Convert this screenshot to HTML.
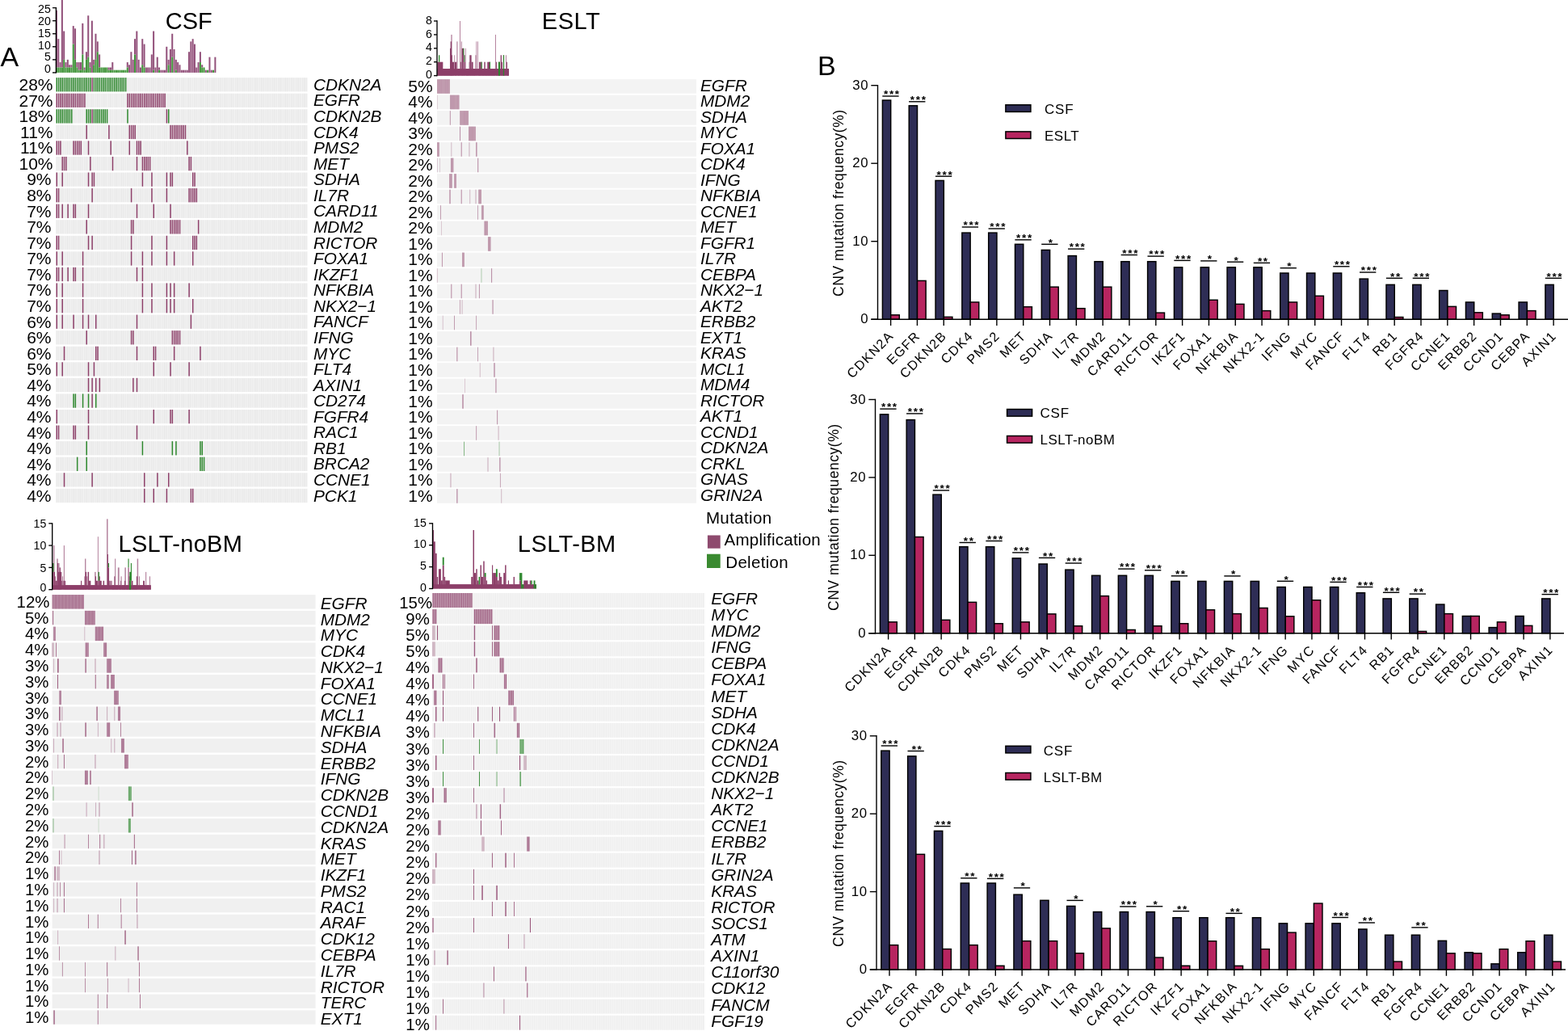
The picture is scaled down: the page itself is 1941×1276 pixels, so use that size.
<!DOCTYPE html>
<html><head><meta charset="utf-8"><title>CNV oncoprint</title>
<style>html,body{margin:0;padding:0;background:#fff;}svg{display:block;}</style>
</head><body>
<svg width="1941" height="1276" viewBox="0 0 1941 1276" font-family="'Liberation Sans', Arial, Helvetica, sans-serif">
<rect width="1941" height="1276" fill="#fff"/>
<defs>
<pattern id="bgc" patternUnits="userSpaceOnUse" x="69.3" y="0" width="2.3074" height="40"><rect x="0" y="0" width="1.3844" height="40" fill="#e7e7e7"/><rect x="1.3844" y="0" width="0.923" height="40" fill="#f4f4f4"/></pattern>
<pattern id="bgbm" patternUnits="userSpaceOnUse" x="535.2" y="0" width="1.7716" height="40"><rect x="0" y="0" width="1.2401" height="40" fill="#ececec"/><rect x="1.2401" y="0" width="0.5315" height="40" fill="#f7f7f7"/></pattern>
</defs>
<rect x="69.3" y="96.1" width="311.5" height="17.3" fill="url(#bgc)"/>
<rect x="69.55" y="96.1" width="1.48" height="17.3" fill="#2c872c"/>
<rect x="71.86" y="96.1" width="1.48" height="17.3" fill="#2c872c"/>
<rect x="74.16" y="96.1" width="1.48" height="17.3" fill="#2c872c"/>
<rect x="76.47" y="96.1" width="1.48" height="17.3" fill="#2c872c"/>
<rect x="78.78" y="96.1" width="1.48" height="17.3" fill="#2c872c"/>
<rect x="81.09" y="96.1" width="1.48" height="17.3" fill="#2c872c"/>
<rect x="83.39" y="96.1" width="1.48" height="17.3" fill="#2c872c"/>
<rect x="85.7" y="96.1" width="1.48" height="17.3" fill="#2c872c"/>
<rect x="88.01" y="96.1" width="1.48" height="17.3" fill="#2c872c"/>
<rect x="90.32" y="96.1" width="1.48" height="17.3" fill="#2c872c"/>
<rect x="92.62" y="96.1" width="1.48" height="17.3" fill="#2c872c"/>
<rect x="94.93" y="96.1" width="1.48" height="17.3" fill="#2c872c"/>
<rect x="97.24" y="96.1" width="1.48" height="17.3" fill="#2c872c"/>
<rect x="99.55" y="96.1" width="1.48" height="17.3" fill="#2c872c"/>
<rect x="101.85" y="96.1" width="1.48" height="17.3" fill="#2c872c"/>
<rect x="104.16" y="96.1" width="1.48" height="17.3" fill="#2c872c"/>
<rect x="106.47" y="96.1" width="1.48" height="17.3" fill="#2c872c"/>
<rect x="108.78" y="96.1" width="1.48" height="17.3" fill="#2c872c"/>
<rect x="111.08" y="96.1" width="1.48" height="17.3" fill="#2c872c"/>
<rect x="113.39" y="96.1" width="1.48" height="17.3" fill="#8c3e68"/>
<rect x="115.7" y="96.1" width="1.48" height="17.3" fill="#2c872c"/>
<rect x="118.01" y="96.1" width="1.48" height="17.3" fill="#2c872c"/>
<rect x="120.31" y="96.1" width="1.48" height="17.3" fill="#2c872c"/>
<rect x="122.62" y="96.1" width="1.48" height="17.3" fill="#2c872c"/>
<rect x="124.93" y="96.1" width="1.48" height="17.3" fill="#2c872c"/>
<rect x="127.24" y="96.1" width="1.48" height="17.3" fill="#2c872c"/>
<rect x="129.54" y="96.1" width="1.48" height="17.3" fill="#2c872c"/>
<rect x="131.85" y="96.1" width="1.48" height="17.3" fill="#2c872c"/>
<rect x="134.16" y="96.1" width="1.48" height="17.3" fill="#2c872c"/>
<rect x="136.46" y="96.1" width="1.48" height="17.3" fill="#2c872c"/>
<rect x="138.77" y="96.1" width="1.48" height="17.3" fill="#2c872c"/>
<rect x="141.08" y="96.1" width="1.48" height="17.3" fill="#2c872c"/>
<rect x="143.39" y="96.1" width="1.48" height="17.3" fill="#2c872c"/>
<rect x="145.69" y="96.1" width="1.48" height="17.3" fill="#2c872c"/>
<rect x="148" y="96.1" width="1.48" height="17.3" fill="#2c872c"/>
<rect x="150.31" y="96.1" width="1.48" height="17.3" fill="#2c872c"/>
<rect x="152.62" y="96.1" width="1.48" height="17.3" fill="#2c872c"/>
<rect x="154.92" y="96.1" width="1.48" height="17.3" fill="#2c872c"/>
<rect x="69.3" y="115.66" width="311.5" height="17.3" fill="url(#bgc)"/>
<rect x="69.55" y="115.66" width="1.48" height="17.3" fill="#8c3e68"/>
<rect x="71.86" y="115.66" width="1.48" height="17.3" fill="#8c3e68"/>
<rect x="74.16" y="115.66" width="1.48" height="17.3" fill="#8c3e68"/>
<rect x="76.47" y="115.66" width="1.48" height="17.3" fill="#8c3e68"/>
<rect x="78.78" y="115.66" width="1.48" height="17.3" fill="#8c3e68"/>
<rect x="81.09" y="115.66" width="1.48" height="17.3" fill="#8c3e68"/>
<rect x="83.39" y="115.66" width="1.48" height="17.3" fill="#8c3e68"/>
<rect x="85.7" y="115.66" width="1.48" height="17.3" fill="#8c3e68"/>
<rect x="88.01" y="115.66" width="1.48" height="17.3" fill="#8c3e68"/>
<rect x="90.32" y="115.66" width="1.48" height="17.3" fill="#8c3e68"/>
<rect x="92.62" y="115.66" width="1.48" height="17.3" fill="#8c3e68"/>
<rect x="94.93" y="115.66" width="1.48" height="17.3" fill="#8c3e68"/>
<rect x="97.24" y="115.66" width="1.48" height="17.3" fill="#8c3e68"/>
<rect x="99.55" y="115.66" width="1.48" height="17.3" fill="#8c3e68"/>
<rect x="101.85" y="115.66" width="1.48" height="17.3" fill="#8c3e68"/>
<rect x="104.16" y="115.66" width="1.48" height="17.3" fill="#8c3e68"/>
<rect x="157.23" y="115.66" width="1.48" height="17.3" fill="#8c3e68"/>
<rect x="159.54" y="115.66" width="1.48" height="17.3" fill="#8c3e68"/>
<rect x="161.85" y="115.66" width="1.48" height="17.3" fill="#8c3e68"/>
<rect x="164.15" y="115.66" width="1.48" height="17.3" fill="#8c3e68"/>
<rect x="166.46" y="115.66" width="1.48" height="17.3" fill="#8c3e68"/>
<rect x="168.77" y="115.66" width="1.48" height="17.3" fill="#8c3e68"/>
<rect x="171.08" y="115.66" width="1.48" height="17.3" fill="#8c3e68"/>
<rect x="173.38" y="115.66" width="1.48" height="17.3" fill="#8c3e68"/>
<rect x="175.69" y="115.66" width="1.48" height="17.3" fill="#8c3e68"/>
<rect x="178" y="115.66" width="1.48" height="17.3" fill="#8c3e68"/>
<rect x="180.31" y="115.66" width="1.48" height="17.3" fill="#8c3e68"/>
<rect x="182.61" y="115.66" width="1.48" height="17.3" fill="#8c3e68"/>
<rect x="184.92" y="115.66" width="1.48" height="17.3" fill="#8c3e68"/>
<rect x="187.23" y="115.66" width="1.48" height="17.3" fill="#8c3e68"/>
<rect x="189.54" y="115.66" width="1.48" height="17.3" fill="#8c3e68"/>
<rect x="191.84" y="115.66" width="1.48" height="17.3" fill="#8c3e68"/>
<rect x="194.15" y="115.66" width="1.48" height="17.3" fill="#8c3e68"/>
<rect x="196.46" y="115.66" width="1.48" height="17.3" fill="#8c3e68"/>
<rect x="198.76" y="115.66" width="1.48" height="17.3" fill="#8c3e68"/>
<rect x="201.07" y="115.66" width="1.48" height="17.3" fill="#8c3e68"/>
<rect x="203.38" y="115.66" width="1.48" height="17.3" fill="#8c3e68"/>
<rect x="69.3" y="135.23" width="311.5" height="17.3" fill="url(#bgc)"/>
<rect x="69.55" y="135.23" width="1.48" height="17.3" fill="#2c872c"/>
<rect x="71.86" y="135.23" width="1.48" height="17.3" fill="#2c872c"/>
<rect x="74.16" y="135.23" width="1.48" height="17.3" fill="#2c872c"/>
<rect x="76.47" y="135.23" width="1.48" height="17.3" fill="#2c872c"/>
<rect x="78.78" y="135.23" width="1.48" height="17.3" fill="#2c872c"/>
<rect x="81.09" y="135.23" width="1.48" height="17.3" fill="#2c872c"/>
<rect x="83.39" y="135.23" width="1.48" height="17.3" fill="#2c872c"/>
<rect x="85.7" y="135.23" width="1.48" height="17.3" fill="#2c872c"/>
<rect x="88.01" y="135.23" width="1.48" height="17.3" fill="#2c872c"/>
<rect x="106.47" y="135.23" width="1.48" height="17.3" fill="#2c872c"/>
<rect x="108.78" y="135.23" width="1.48" height="17.3" fill="#2c872c"/>
<rect x="111.08" y="135.23" width="1.48" height="17.3" fill="#2c872c"/>
<rect x="113.39" y="135.23" width="1.48" height="17.3" fill="#8c3e68"/>
<rect x="115.7" y="135.23" width="1.48" height="17.3" fill="#2c872c"/>
<rect x="118.01" y="135.23" width="1.48" height="17.3" fill="#2c872c"/>
<rect x="120.31" y="135.23" width="1.48" height="17.3" fill="#2c872c"/>
<rect x="122.62" y="135.23" width="1.48" height="17.3" fill="#2c872c"/>
<rect x="124.93" y="135.23" width="1.48" height="17.3" fill="#2c872c"/>
<rect x="127.24" y="135.23" width="1.48" height="17.3" fill="#2c872c"/>
<rect x="129.54" y="135.23" width="1.48" height="17.3" fill="#2c872c"/>
<rect x="131.85" y="135.23" width="1.48" height="17.3" fill="#2c872c"/>
<rect x="157.23" y="135.23" width="1.48" height="17.3" fill="#2c872c"/>
<rect x="205.69" y="135.23" width="1.48" height="17.3" fill="#8c3e68"/>
<rect x="207.99" y="135.23" width="1.48" height="17.3" fill="#2c872c"/>
<rect x="69.3" y="154.8" width="311.5" height="17.3" fill="url(#bgc)"/>
<rect x="106.47" y="154.8" width="1.48" height="17.3" fill="#8c3e68"/>
<rect x="134.16" y="154.8" width="1.48" height="17.3" fill="#8c3e68"/>
<rect x="159.54" y="154.8" width="1.48" height="17.3" fill="#8c3e68"/>
<rect x="161.85" y="154.8" width="1.48" height="17.3" fill="#8c3e68"/>
<rect x="164.15" y="154.8" width="1.48" height="17.3" fill="#8c3e68"/>
<rect x="166.46" y="154.8" width="1.48" height="17.3" fill="#8c3e68"/>
<rect x="210.3" y="154.8" width="1.48" height="17.3" fill="#8c3e68"/>
<rect x="212.61" y="154.8" width="1.48" height="17.3" fill="#8c3e68"/>
<rect x="214.92" y="154.8" width="1.48" height="17.3" fill="#8c3e68"/>
<rect x="217.22" y="154.8" width="1.48" height="17.3" fill="#8c3e68"/>
<rect x="219.53" y="154.8" width="1.48" height="17.3" fill="#8c3e68"/>
<rect x="221.84" y="154.8" width="1.48" height="17.3" fill="#8c3e68"/>
<rect x="224.15" y="154.8" width="1.48" height="17.3" fill="#8c3e68"/>
<rect x="226.45" y="154.8" width="1.48" height="17.3" fill="#8c3e68"/>
<rect x="228.76" y="154.8" width="1.48" height="17.3" fill="#8c3e68"/>
<rect x="69.3" y="174.36" width="311.5" height="17.3" fill="url(#bgc)"/>
<rect x="69.55" y="174.36" width="1.48" height="17.3" fill="#8c3e68"/>
<rect x="71.86" y="174.36" width="1.48" height="17.3" fill="#8c3e68"/>
<rect x="74.16" y="174.36" width="1.48" height="17.3" fill="#8c3e68"/>
<rect x="90.32" y="174.36" width="1.48" height="17.3" fill="#8c3e68"/>
<rect x="92.62" y="174.36" width="1.48" height="17.3" fill="#8c3e68"/>
<rect x="94.93" y="174.36" width="1.48" height="17.3" fill="#8c3e68"/>
<rect x="97.24" y="174.36" width="1.48" height="17.3" fill="#8c3e68"/>
<rect x="99.55" y="174.36" width="1.48" height="17.3" fill="#8c3e68"/>
<rect x="108.78" y="174.36" width="1.48" height="17.3" fill="#8c3e68"/>
<rect x="136.46" y="174.36" width="1.48" height="17.3" fill="#8c3e68"/>
<rect x="159.54" y="174.36" width="1.48" height="17.3" fill="#8c3e68"/>
<rect x="168.77" y="174.36" width="1.48" height="17.3" fill="#8c3e68"/>
<rect x="171.08" y="174.36" width="1.48" height="17.3" fill="#8c3e68"/>
<rect x="173.38" y="174.36" width="1.48" height="17.3" fill="#8c3e68"/>
<rect x="231.07" y="174.36" width="1.48" height="17.3" fill="#8c3e68"/>
<rect x="69.3" y="193.93" width="311.5" height="17.3" fill="url(#bgc)"/>
<rect x="76.47" y="193.93" width="1.48" height="17.3" fill="#8c3e68"/>
<rect x="78.78" y="193.93" width="1.48" height="17.3" fill="#8c3e68"/>
<rect x="81.09" y="193.93" width="1.48" height="17.3" fill="#8c3e68"/>
<rect x="111.08" y="193.93" width="1.48" height="17.3" fill="#8c3e68"/>
<rect x="138.77" y="193.93" width="1.48" height="17.3" fill="#8c3e68"/>
<rect x="168.77" y="193.93" width="1.48" height="17.3" fill="#8c3e68"/>
<rect x="175.69" y="193.93" width="1.48" height="17.3" fill="#8c3e68"/>
<rect x="178" y="193.93" width="1.48" height="17.3" fill="#8c3e68"/>
<rect x="180.31" y="193.93" width="1.48" height="17.3" fill="#8c3e68"/>
<rect x="182.61" y="193.93" width="1.48" height="17.3" fill="#8c3e68"/>
<rect x="184.92" y="193.93" width="1.48" height="17.3" fill="#8c3e68"/>
<rect x="233.38" y="193.93" width="1.48" height="17.3" fill="#8c3e68"/>
<rect x="235.68" y="193.93" width="1.48" height="17.3" fill="#8c3e68"/>
<rect x="69.3" y="213.49" width="311.5" height="17.3" fill="url(#bgc)"/>
<rect x="69.55" y="213.49" width="1.48" height="17.3" fill="#8c3e68"/>
<rect x="76.47" y="213.49" width="1.48" height="17.3" fill="#8c3e68"/>
<rect x="108.78" y="213.49" width="1.48" height="17.3" fill="#8c3e68"/>
<rect x="113.39" y="213.49" width="1.48" height="17.3" fill="#8c3e68"/>
<rect x="115.7" y="213.49" width="1.48" height="17.3" fill="#8c3e68"/>
<rect x="175.69" y="213.49" width="1.48" height="17.3" fill="#8c3e68"/>
<rect x="187.23" y="213.49" width="1.48" height="17.3" fill="#8c3e68"/>
<rect x="205.69" y="213.49" width="1.48" height="17.3" fill="#8c3e68"/>
<rect x="210.3" y="213.49" width="1.48" height="17.3" fill="#8c3e68"/>
<rect x="212.61" y="213.49" width="1.48" height="17.3" fill="#8c3e68"/>
<rect x="237.99" y="213.49" width="1.48" height="17.3" fill="#8c3e68"/>
<rect x="240.3" y="213.49" width="1.48" height="17.3" fill="#8c3e68"/>
<rect x="69.3" y="233.06" width="311.5" height="17.3" fill="url(#bgc)"/>
<rect x="69.55" y="233.06" width="1.48" height="17.3" fill="#8c3e68"/>
<rect x="71.86" y="233.06" width="1.48" height="17.3" fill="#8c3e68"/>
<rect x="113.39" y="233.06" width="1.48" height="17.3" fill="#8c3e68"/>
<rect x="161.85" y="233.06" width="1.48" height="17.3" fill="#8c3e68"/>
<rect x="187.23" y="233.06" width="1.48" height="17.3" fill="#8c3e68"/>
<rect x="205.69" y="233.06" width="1.48" height="17.3" fill="#8c3e68"/>
<rect x="233.38" y="233.06" width="1.48" height="17.3" fill="#8c3e68"/>
<rect x="235.68" y="233.06" width="1.48" height="17.3" fill="#8c3e68"/>
<rect x="237.99" y="233.06" width="1.48" height="17.3" fill="#8c3e68"/>
<rect x="240.3" y="233.06" width="1.48" height="17.3" fill="#8c3e68"/>
<rect x="242.61" y="233.06" width="1.48" height="17.3" fill="#8c3e68"/>
<rect x="69.3" y="252.62" width="311.5" height="17.3" fill="url(#bgc)"/>
<rect x="69.55" y="252.62" width="1.48" height="17.3" fill="#8c3e68"/>
<rect x="71.86" y="252.62" width="1.48" height="17.3" fill="#8c3e68"/>
<rect x="76.47" y="252.62" width="1.48" height="17.3" fill="#8c3e68"/>
<rect x="83.39" y="252.62" width="1.48" height="17.3" fill="#8c3e68"/>
<rect x="90.32" y="252.62" width="1.48" height="17.3" fill="#8c3e68"/>
<rect x="92.62" y="252.62" width="1.48" height="17.3" fill="#8c3e68"/>
<rect x="108.78" y="252.62" width="1.48" height="17.3" fill="#8c3e68"/>
<rect x="168.77" y="252.62" width="1.48" height="17.3" fill="#8c3e68"/>
<rect x="189.54" y="252.62" width="1.48" height="17.3" fill="#8c3e68"/>
<rect x="210.3" y="252.62" width="1.48" height="17.3" fill="#8c3e68"/>
<rect x="69.3" y="272.19" width="311.5" height="17.3" fill="url(#bgc)"/>
<rect x="106.47" y="272.19" width="1.48" height="17.3" fill="#8c3e68"/>
<rect x="161.85" y="272.19" width="1.48" height="17.3" fill="#8c3e68"/>
<rect x="164.15" y="272.19" width="1.48" height="17.3" fill="#8c3e68"/>
<rect x="210.3" y="272.19" width="1.48" height="17.3" fill="#8c3e68"/>
<rect x="212.61" y="272.19" width="1.48" height="17.3" fill="#8c3e68"/>
<rect x="214.92" y="272.19" width="1.48" height="17.3" fill="#8c3e68"/>
<rect x="217.22" y="272.19" width="1.48" height="17.3" fill="#8c3e68"/>
<rect x="219.53" y="272.19" width="1.48" height="17.3" fill="#8c3e68"/>
<rect x="221.84" y="272.19" width="1.48" height="17.3" fill="#8c3e68"/>
<rect x="244.91" y="272.19" width="1.48" height="17.3" fill="#8c3e68"/>
<rect x="69.3" y="291.75" width="311.5" height="17.3" fill="url(#bgc)"/>
<rect x="69.55" y="291.75" width="1.48" height="17.3" fill="#8c3e68"/>
<rect x="71.86" y="291.75" width="1.48" height="17.3" fill="#8c3e68"/>
<rect x="108.78" y="291.75" width="1.48" height="17.3" fill="#8c3e68"/>
<rect x="113.39" y="291.75" width="1.48" height="17.3" fill="#8c3e68"/>
<rect x="161.85" y="291.75" width="1.48" height="17.3" fill="#8c3e68"/>
<rect x="187.23" y="291.75" width="1.48" height="17.3" fill="#8c3e68"/>
<rect x="205.69" y="291.75" width="1.48" height="17.3" fill="#8c3e68"/>
<rect x="237.99" y="291.75" width="1.48" height="17.3" fill="#8c3e68"/>
<rect x="240.3" y="291.75" width="1.48" height="17.3" fill="#8c3e68"/>
<rect x="242.61" y="291.75" width="1.48" height="17.3" fill="#8c3e68"/>
<rect x="69.3" y="311.31" width="311.5" height="17.3" fill="url(#bgc)"/>
<rect x="69.55" y="311.31" width="1.48" height="17.3" fill="#8c3e68"/>
<rect x="76.47" y="311.31" width="1.48" height="17.3" fill="#8c3e68"/>
<rect x="101.85" y="311.31" width="1.48" height="17.3" fill="#8c3e68"/>
<rect x="161.85" y="311.31" width="1.48" height="17.3" fill="#8c3e68"/>
<rect x="175.69" y="311.31" width="1.48" height="17.3" fill="#8c3e68"/>
<rect x="187.23" y="311.31" width="1.48" height="17.3" fill="#8c3e68"/>
<rect x="205.69" y="311.31" width="1.48" height="17.3" fill="#8c3e68"/>
<rect x="214.92" y="311.31" width="1.48" height="17.3" fill="#8c3e68"/>
<rect x="237.99" y="311.31" width="1.48" height="17.3" fill="#8c3e68"/>
<rect x="69.3" y="330.88" width="311.5" height="17.3" fill="url(#bgc)"/>
<rect x="69.55" y="330.88" width="1.48" height="17.3" fill="#8c3e68"/>
<rect x="71.86" y="330.88" width="1.48" height="17.3" fill="#8c3e68"/>
<rect x="76.47" y="330.88" width="1.48" height="17.3" fill="#8c3e68"/>
<rect x="83.39" y="330.88" width="1.48" height="17.3" fill="#8c3e68"/>
<rect x="90.32" y="330.88" width="1.48" height="17.3" fill="#8c3e68"/>
<rect x="92.62" y="330.88" width="1.48" height="17.3" fill="#8c3e68"/>
<rect x="101.85" y="330.88" width="1.48" height="17.3" fill="#8c3e68"/>
<rect x="168.77" y="330.88" width="1.48" height="17.3" fill="#8c3e68"/>
<rect x="175.69" y="330.88" width="1.48" height="17.3" fill="#8c3e68"/>
<rect x="69.3" y="350.45" width="311.5" height="17.3" fill="url(#bgc)"/>
<rect x="69.55" y="350.45" width="1.48" height="17.3" fill="#8c3e68"/>
<rect x="76.47" y="350.45" width="1.48" height="17.3" fill="#8c3e68"/>
<rect x="101.85" y="350.45" width="1.48" height="17.3" fill="#8c3e68"/>
<rect x="175.69" y="350.45" width="1.48" height="17.3" fill="#8c3e68"/>
<rect x="187.23" y="350.45" width="1.48" height="17.3" fill="#8c3e68"/>
<rect x="205.69" y="350.45" width="1.48" height="17.3" fill="#8c3e68"/>
<rect x="210.3" y="350.45" width="1.48" height="17.3" fill="#8c3e68"/>
<rect x="214.92" y="350.45" width="1.48" height="17.3" fill="#8c3e68"/>
<rect x="233.38" y="350.45" width="1.48" height="17.3" fill="#8c3e68"/>
<rect x="69.3" y="370.01" width="311.5" height="17.3" fill="url(#bgc)"/>
<rect x="69.55" y="370.01" width="1.48" height="17.3" fill="#8c3e68"/>
<rect x="76.47" y="370.01" width="1.48" height="17.3" fill="#8c3e68"/>
<rect x="101.85" y="370.01" width="1.48" height="17.3" fill="#8c3e68"/>
<rect x="175.69" y="370.01" width="1.48" height="17.3" fill="#8c3e68"/>
<rect x="187.23" y="370.01" width="1.48" height="17.3" fill="#8c3e68"/>
<rect x="205.69" y="370.01" width="1.48" height="17.3" fill="#8c3e68"/>
<rect x="210.3" y="370.01" width="1.48" height="17.3" fill="#8c3e68"/>
<rect x="214.92" y="370.01" width="1.48" height="17.3" fill="#8c3e68"/>
<rect x="237.99" y="370.01" width="1.48" height="17.3" fill="#8c3e68"/>
<rect x="69.3" y="389.58" width="311.5" height="17.3" fill="url(#bgc)"/>
<rect x="69.55" y="389.58" width="1.48" height="17.3" fill="#8c3e68"/>
<rect x="76.47" y="389.58" width="1.48" height="17.3" fill="#8c3e68"/>
<rect x="90.32" y="389.58" width="1.48" height="17.3" fill="#8c3e68"/>
<rect x="101.85" y="389.58" width="1.48" height="17.3" fill="#8c3e68"/>
<rect x="108.78" y="389.58" width="1.48" height="17.3" fill="#8c3e68"/>
<rect x="118.01" y="389.58" width="1.48" height="17.3" fill="#8c3e68"/>
<rect x="168.77" y="389.58" width="1.48" height="17.3" fill="#8c3e68"/>
<rect x="235.68" y="389.58" width="1.48" height="17.3" fill="#8c3e68"/>
<rect x="69.3" y="409.14" width="311.5" height="17.3" fill="url(#bgc)"/>
<rect x="106.47" y="409.14" width="1.48" height="17.3" fill="#8c3e68"/>
<rect x="161.85" y="409.14" width="1.48" height="17.3" fill="#8c3e68"/>
<rect x="164.15" y="409.14" width="1.48" height="17.3" fill="#8c3e68"/>
<rect x="212.61" y="409.14" width="1.48" height="17.3" fill="#8c3e68"/>
<rect x="214.92" y="409.14" width="1.48" height="17.3" fill="#8c3e68"/>
<rect x="217.22" y="409.14" width="1.48" height="17.3" fill="#8c3e68"/>
<rect x="219.53" y="409.14" width="1.48" height="17.3" fill="#8c3e68"/>
<rect x="221.84" y="409.14" width="1.48" height="17.3" fill="#8c3e68"/>
<rect x="69.3" y="428.71" width="311.5" height="17.3" fill="url(#bgc)"/>
<rect x="78.78" y="428.71" width="1.48" height="17.3" fill="#8c3e68"/>
<rect x="118.01" y="428.71" width="1.48" height="17.3" fill="#8c3e68"/>
<rect x="120.31" y="428.71" width="1.48" height="17.3" fill="#8c3e68"/>
<rect x="168.77" y="428.71" width="1.48" height="17.3" fill="#8c3e68"/>
<rect x="189.54" y="428.71" width="1.48" height="17.3" fill="#8c3e68"/>
<rect x="191.84" y="428.71" width="1.48" height="17.3" fill="#8c3e68"/>
<rect x="214.92" y="428.71" width="1.48" height="17.3" fill="#8c3e68"/>
<rect x="247.22" y="428.71" width="1.48" height="17.3" fill="#8c3e68"/>
<rect x="69.3" y="448.27" width="311.5" height="17.3" fill="url(#bgc)"/>
<rect x="69.55" y="448.27" width="1.48" height="17.3" fill="#8c3e68"/>
<rect x="76.47" y="448.27" width="1.48" height="17.3" fill="#8c3e68"/>
<rect x="108.78" y="448.27" width="1.48" height="17.3" fill="#8c3e68"/>
<rect x="115.7" y="448.27" width="1.48" height="17.3" fill="#8c3e68"/>
<rect x="189.54" y="448.27" width="1.48" height="17.3" fill="#8c3e68"/>
<rect x="210.3" y="448.27" width="1.48" height="17.3" fill="#8c3e68"/>
<rect x="233.38" y="448.27" width="1.48" height="17.3" fill="#8c3e68"/>
<rect x="69.3" y="467.84" width="311.5" height="17.3" fill="url(#bgc)"/>
<rect x="108.78" y="467.84" width="1.48" height="17.3" fill="#8c3e68"/>
<rect x="113.39" y="467.84" width="1.48" height="17.3" fill="#8c3e68"/>
<rect x="118.01" y="467.84" width="1.48" height="17.3" fill="#8c3e68"/>
<rect x="122.62" y="467.84" width="1.48" height="17.3" fill="#8c3e68"/>
<rect x="164.15" y="467.84" width="1.48" height="17.3" fill="#8c3e68"/>
<rect x="168.77" y="467.84" width="1.48" height="17.3" fill="#8c3e68"/>
<rect x="69.3" y="487.4" width="311.5" height="17.3" fill="url(#bgc)"/>
<rect x="90.32" y="487.4" width="1.48" height="17.3" fill="#2c872c"/>
<rect x="92.62" y="487.4" width="1.48" height="17.3" fill="#2c872c"/>
<rect x="101.85" y="487.4" width="1.48" height="17.3" fill="#2c872c"/>
<rect x="108.78" y="487.4" width="1.48" height="17.3" fill="#2c872c"/>
<rect x="113.39" y="487.4" width="1.48" height="17.3" fill="#8c3e68"/>
<rect x="118.01" y="487.4" width="1.48" height="17.3" fill="#2c872c"/>
<rect x="69.3" y="506.97" width="311.5" height="17.3" fill="url(#bgc)"/>
<rect x="69.55" y="506.97" width="1.48" height="17.3" fill="#8c3e68"/>
<rect x="108.78" y="506.97" width="1.48" height="17.3" fill="#8c3e68"/>
<rect x="189.54" y="506.97" width="1.48" height="17.3" fill="#8c3e68"/>
<rect x="210.3" y="506.97" width="1.48" height="17.3" fill="#8c3e68"/>
<rect x="212.61" y="506.97" width="1.48" height="17.3" fill="#8c3e68"/>
<rect x="233.38" y="506.97" width="1.48" height="17.3" fill="#8c3e68"/>
<rect x="69.3" y="526.53" width="311.5" height="17.3" fill="url(#bgc)"/>
<rect x="69.55" y="526.53" width="1.48" height="17.3" fill="#8c3e68"/>
<rect x="71.86" y="526.53" width="1.48" height="17.3" fill="#8c3e68"/>
<rect x="90.32" y="526.53" width="1.48" height="17.3" fill="#8c3e68"/>
<rect x="92.62" y="526.53" width="1.48" height="17.3" fill="#8c3e68"/>
<rect x="108.78" y="526.53" width="1.48" height="17.3" fill="#8c3e68"/>
<rect x="168.77" y="526.53" width="1.48" height="17.3" fill="#8c3e68"/>
<rect x="69.3" y="546.1" width="311.5" height="17.3" fill="url(#bgc)"/>
<rect x="106.47" y="546.1" width="1.48" height="17.3" fill="#2c872c"/>
<rect x="175.69" y="546.1" width="1.48" height="17.3" fill="#2c872c"/>
<rect x="212.61" y="546.1" width="1.48" height="17.3" fill="#2c872c"/>
<rect x="217.22" y="546.1" width="1.48" height="17.3" fill="#2c872c"/>
<rect x="247.22" y="546.1" width="1.48" height="17.3" fill="#2c872c"/>
<rect x="249.53" y="546.1" width="1.48" height="17.3" fill="#2c872c"/>
<rect x="69.3" y="565.66" width="311.5" height="17.3" fill="url(#bgc)"/>
<rect x="94.93" y="565.66" width="1.48" height="17.3" fill="#2c872c"/>
<rect x="106.47" y="565.66" width="1.48" height="17.3" fill="#2c872c"/>
<rect x="247.22" y="565.66" width="1.48" height="17.3" fill="#2c872c"/>
<rect x="249.53" y="565.66" width="1.48" height="17.3" fill="#2c872c"/>
<rect x="251.84" y="565.66" width="1.48" height="17.3" fill="#2c872c"/>
<rect x="69.3" y="585.23" width="311.5" height="17.3" fill="url(#bgc)"/>
<rect x="78.78" y="585.23" width="1.48" height="17.3" fill="#8c3e68"/>
<rect x="113.39" y="585.23" width="1.48" height="17.3" fill="#8c3e68"/>
<rect x="178" y="585.23" width="1.48" height="17.3" fill="#8c3e68"/>
<rect x="194.15" y="585.23" width="1.48" height="17.3" fill="#8c3e68"/>
<rect x="207.99" y="585.23" width="1.48" height="17.3" fill="#8c3e68"/>
<rect x="69.3" y="604.79" width="311.5" height="17.3" fill="url(#bgc)"/>
<rect x="178" y="604.79" width="1.48" height="17.3" fill="#8c3e68"/>
<rect x="189.54" y="604.79" width="1.48" height="17.3" fill="#8c3e68"/>
<rect x="205.69" y="604.79" width="1.48" height="17.3" fill="#8c3e68"/>
<rect x="235.68" y="604.79" width="1.48" height="17.3" fill="#8c3e68"/>
<rect x="237.99" y="604.79" width="1.48" height="17.3" fill="#8c3e68"/>
<text x="65.5" y="112.1" font-size="21" text-anchor="end">28%</text>
<text x="65.5" y="131.66" font-size="21" text-anchor="end">27%</text>
<text x="65.5" y="151.23" font-size="21" text-anchor="end">18%</text>
<text x="65.5" y="170.8" font-size="21" text-anchor="end">11%</text>
<text x="65.5" y="190.36" font-size="21" text-anchor="end">11%</text>
<text x="65.5" y="209.93" font-size="21" text-anchor="end">10%</text>
<text x="63.5" y="229.49" font-size="21" text-anchor="end">9%</text>
<text x="63.5" y="249.06" font-size="21" text-anchor="end">8%</text>
<text x="63.5" y="268.62" font-size="21" text-anchor="end">7%</text>
<text x="63.5" y="288.19" font-size="21" text-anchor="end">7%</text>
<text x="63.5" y="307.75" font-size="21" text-anchor="end">7%</text>
<text x="63.5" y="327.31" font-size="21" text-anchor="end">7%</text>
<text x="63.5" y="346.88" font-size="21" text-anchor="end">7%</text>
<text x="63.5" y="366.45" font-size="21" text-anchor="end">7%</text>
<text x="63.5" y="386.01" font-size="21" text-anchor="end">7%</text>
<text x="63.5" y="405.58" font-size="21" text-anchor="end">6%</text>
<text x="63.5" y="425.14" font-size="21" text-anchor="end">6%</text>
<text x="63.5" y="444.71" font-size="21" text-anchor="end">6%</text>
<text x="63.5" y="464.27" font-size="21" text-anchor="end">5%</text>
<text x="63.5" y="483.84" font-size="21" text-anchor="end">4%</text>
<text x="63.5" y="503.4" font-size="21" text-anchor="end">4%</text>
<text x="63.5" y="522.97" font-size="21" text-anchor="end">4%</text>
<text x="63.5" y="542.53" font-size="21" text-anchor="end">4%</text>
<text x="63.5" y="562.1" font-size="21" text-anchor="end">4%</text>
<text x="63.5" y="581.66" font-size="21" text-anchor="end">4%</text>
<text x="63.5" y="601.23" font-size="21" text-anchor="end">4%</text>
<text x="63.5" y="620.79" font-size="21" text-anchor="end">4%</text>
<text x="388" y="111.9" font-size="20.8" text-anchor="start" font-style="italic">CDKN2A</text>
<text x="388" y="131.47" font-size="20.8" text-anchor="start" font-style="italic">EGFR</text>
<text x="388" y="151.03" font-size="20.8" text-anchor="start" font-style="italic">CDKN2B</text>
<text x="388" y="170.6" font-size="20.8" text-anchor="start" font-style="italic">CDK4</text>
<text x="388" y="190.16" font-size="20.8" text-anchor="start" font-style="italic">PMS2</text>
<text x="388" y="209.73" font-size="20.8" text-anchor="start" font-style="italic">MET</text>
<text x="388" y="229.29" font-size="20.8" text-anchor="start" font-style="italic">SDHA</text>
<text x="388" y="248.86" font-size="20.8" text-anchor="start" font-style="italic">IL7R</text>
<text x="388" y="268.42" font-size="20.8" text-anchor="start" font-style="italic">CARD11</text>
<text x="388" y="287.99" font-size="20.8" text-anchor="start" font-style="italic">MDM2</text>
<text x="388" y="307.55" font-size="20.8" text-anchor="start" font-style="italic">RICTOR</text>
<text x="388" y="327.12" font-size="20.8" text-anchor="start" font-style="italic">FOXA1</text>
<text x="388" y="346.68" font-size="20.8" text-anchor="start" font-style="italic">IKZF1</text>
<text x="388" y="366.25" font-size="20.8" text-anchor="start" font-style="italic">NFKBIA</text>
<text x="388" y="385.81" font-size="20.8" text-anchor="start" font-style="italic">NKX2−1</text>
<text x="388" y="405.38" font-size="20.8" text-anchor="start" font-style="italic">FANCF</text>
<text x="388" y="424.94" font-size="20.8" text-anchor="start" font-style="italic">IFNG</text>
<text x="388" y="444.51" font-size="20.8" text-anchor="start" font-style="italic">MYC</text>
<text x="388" y="464.07" font-size="20.8" text-anchor="start" font-style="italic">FLT4</text>
<text x="388" y="483.64" font-size="20.8" text-anchor="start" font-style="italic">AXIN1</text>
<text x="388" y="503.2" font-size="20.8" text-anchor="start" font-style="italic">CD274</text>
<text x="388" y="522.76" font-size="20.8" text-anchor="start" font-style="italic">FGFR4</text>
<text x="388" y="542.33" font-size="20.8" text-anchor="start" font-style="italic">RAC1</text>
<text x="388" y="561.89" font-size="20.8" text-anchor="start" font-style="italic">RB1</text>
<text x="388" y="581.46" font-size="20.8" text-anchor="start" font-style="italic">BRCA2</text>
<text x="388" y="601.02" font-size="20.8" text-anchor="start" font-style="italic">CCNE1</text>
<text x="388" y="620.59" font-size="20.8" text-anchor="start" font-style="italic">PCK1</text>
<rect x="68.96" y="12.86" width="1.99" height="70.62" fill="#92507a"/>
<rect x="68.96" y="83.48" width="1.99" height="6.42" fill="#3d9236"/>
<rect x="71.27" y="48.17" width="1.99" height="35.31" fill="#92507a"/>
<rect x="71.27" y="83.48" width="1.99" height="6.42" fill="#3d9236"/>
<rect x="73.58" y="77.06" width="1.99" height="6.42" fill="#92507a"/>
<rect x="73.58" y="83.48" width="1.99" height="6.42" fill="#3d9236"/>
<rect x="75.89" y="0.02" width="1.99" height="83.46" fill="#92507a"/>
<rect x="75.89" y="83.48" width="1.99" height="6.42" fill="#3d9236"/>
<rect x="78.2" y="38.54" width="1.99" height="35.31" fill="#92507a"/>
<rect x="78.2" y="73.85" width="1.99" height="16.05" fill="#3d9236"/>
<rect x="80.51" y="77.06" width="1.99" height="6.42" fill="#92507a"/>
<rect x="80.51" y="83.48" width="1.99" height="6.42" fill="#3d9236"/>
<rect x="82.83" y="73.85" width="1.99" height="9.63" fill="#92507a"/>
<rect x="82.83" y="83.48" width="1.99" height="6.42" fill="#3d9236"/>
<rect x="85.14" y="80.27" width="1.99" height="3.21" fill="#92507a"/>
<rect x="85.14" y="83.48" width="1.99" height="6.42" fill="#3d9236"/>
<rect x="87.45" y="80.27" width="1.99" height="3.21" fill="#92507a"/>
<rect x="87.45" y="83.48" width="1.99" height="6.42" fill="#3d9236"/>
<rect x="89.76" y="32.12" width="1.99" height="22.47" fill="#92507a"/>
<rect x="89.76" y="54.59" width="1.99" height="35.31" fill="#3d9236"/>
<rect x="92.07" y="35.33" width="1.99" height="38.52" fill="#92507a"/>
<rect x="92.07" y="73.85" width="1.99" height="16.05" fill="#3d9236"/>
<rect x="94.38" y="77.06" width="1.99" height="6.42" fill="#92507a"/>
<rect x="94.38" y="83.48" width="1.99" height="6.42" fill="#3d9236"/>
<rect x="96.69" y="77.06" width="1.99" height="9.63" fill="#92507a"/>
<rect x="96.69" y="86.69" width="1.99" height="3.21" fill="#3d9236"/>
<rect x="99" y="77.06" width="1.99" height="9.63" fill="#92507a"/>
<rect x="99" y="86.69" width="1.99" height="3.21" fill="#3d9236"/>
<rect x="101.31" y="28.91" width="1.99" height="38.52" fill="#92507a"/>
<rect x="101.31" y="67.43" width="1.99" height="22.47" fill="#3d9236"/>
<rect x="103.62" y="83.48" width="1.99" height="3.21" fill="#92507a"/>
<rect x="103.62" y="86.69" width="1.99" height="3.21" fill="#3d9236"/>
<rect x="105.94" y="64.22" width="1.99" height="9.63" fill="#92507a"/>
<rect x="105.94" y="73.85" width="1.99" height="16.05" fill="#3d9236"/>
<rect x="108.25" y="19.28" width="1.99" height="51.36" fill="#92507a"/>
<rect x="108.25" y="70.64" width="1.99" height="19.26" fill="#3d9236"/>
<rect x="110.56" y="77.06" width="1.99" height="6.42" fill="#92507a"/>
<rect x="110.56" y="83.48" width="1.99" height="6.42" fill="#3d9236"/>
<rect x="112.87" y="25.7" width="1.99" height="64.2" fill="#92507a"/>
<rect x="115.18" y="73.85" width="1.99" height="6.42" fill="#92507a"/>
<rect x="115.18" y="80.27" width="1.99" height="9.63" fill="#3d9236"/>
<rect x="117.49" y="41.75" width="1.99" height="32.1" fill="#92507a"/>
<rect x="117.49" y="73.85" width="1.99" height="16.05" fill="#3d9236"/>
<rect x="119.8" y="51.38" width="1.99" height="12.84" fill="#92507a"/>
<rect x="119.8" y="64.22" width="1.99" height="25.68" fill="#3d9236"/>
<rect x="122.11" y="67.43" width="1.99" height="16.05" fill="#92507a"/>
<rect x="122.11" y="83.48" width="1.99" height="6.42" fill="#3d9236"/>
<rect x="124.42" y="83.48" width="1.99" height="6.42" fill="#3d9236"/>
<rect x="126.73" y="83.48" width="1.99" height="6.42" fill="#3d9236"/>
<rect x="129.05" y="83.48" width="1.99" height="6.42" fill="#3d9236"/>
<rect x="131.36" y="83.48" width="1.99" height="6.42" fill="#3d9236"/>
<rect x="133.67" y="83.48" width="1.99" height="3.21" fill="#92507a"/>
<rect x="133.67" y="86.69" width="1.99" height="3.21" fill="#3d9236"/>
<rect x="135.98" y="83.48" width="1.99" height="3.21" fill="#92507a"/>
<rect x="135.98" y="86.69" width="1.99" height="3.21" fill="#3d9236"/>
<rect x="138.29" y="77.06" width="1.99" height="9.63" fill="#92507a"/>
<rect x="138.29" y="86.69" width="1.99" height="3.21" fill="#3d9236"/>
<rect x="140.6" y="86.69" width="1.99" height="3.21" fill="#3d9236"/>
<rect x="142.91" y="86.69" width="1.99" height="3.21" fill="#3d9236"/>
<rect x="145.22" y="86.69" width="1.99" height="3.21" fill="#3d9236"/>
<rect x="147.53" y="86.69" width="1.99" height="3.21" fill="#3d9236"/>
<rect x="149.84" y="86.69" width="1.99" height="3.21" fill="#3d9236"/>
<rect x="152.16" y="86.69" width="1.99" height="3.21" fill="#3d9236"/>
<rect x="154.47" y="86.69" width="1.99" height="3.21" fill="#3d9236"/>
<rect x="156.78" y="77.06" width="1.99" height="6.42" fill="#92507a"/>
<rect x="156.78" y="83.48" width="1.99" height="6.42" fill="#3d9236"/>
<rect x="159.09" y="80.27" width="1.99" height="9.63" fill="#92507a"/>
<rect x="161.4" y="64.22" width="1.99" height="25.68" fill="#92507a"/>
<rect x="163.71" y="73.85" width="1.99" height="16.05" fill="#92507a"/>
<rect x="166.02" y="48.17" width="1.99" height="19.26" fill="#92507a"/>
<rect x="166.02" y="67.43" width="1.99" height="22.47" fill="#3d9236"/>
<rect x="168.33" y="38.54" width="1.99" height="51.36" fill="#92507a"/>
<rect x="170.64" y="73.85" width="1.99" height="16.05" fill="#92507a"/>
<rect x="172.95" y="83.48" width="1.99" height="6.42" fill="#92507a"/>
<rect x="175.27" y="48.17" width="1.99" height="32.1" fill="#92507a"/>
<rect x="175.27" y="80.27" width="1.99" height="9.63" fill="#3d9236"/>
<rect x="177.58" y="54.59" width="1.99" height="28.89" fill="#92507a"/>
<rect x="177.58" y="83.48" width="1.99" height="6.42" fill="#3d9236"/>
<rect x="179.89" y="83.48" width="1.99" height="6.42" fill="#92507a"/>
<rect x="182.2" y="83.48" width="1.99" height="6.42" fill="#92507a"/>
<rect x="184.51" y="83.48" width="1.99" height="6.42" fill="#92507a"/>
<rect x="186.82" y="67.43" width="1.99" height="22.47" fill="#92507a"/>
<rect x="189.13" y="38.54" width="1.99" height="48.15" fill="#92507a"/>
<rect x="189.13" y="86.69" width="1.99" height="3.21" fill="#3d9236"/>
<rect x="191.44" y="83.48" width="1.99" height="6.42" fill="#92507a"/>
<rect x="193.75" y="70.64" width="1.99" height="19.26" fill="#92507a"/>
<rect x="196.06" y="83.48" width="1.99" height="3.21" fill="#92507a"/>
<rect x="196.06" y="86.69" width="1.99" height="3.21" fill="#3d9236"/>
<rect x="198.38" y="86.69" width="1.99" height="3.21" fill="#92507a"/>
<rect x="200.69" y="86.69" width="1.99" height="3.21" fill="#92507a"/>
<rect x="203" y="86.69" width="1.99" height="3.21" fill="#92507a"/>
<rect x="205.31" y="57.8" width="1.99" height="32.1" fill="#92507a"/>
<rect x="207.62" y="73.85" width="1.99" height="6.42" fill="#92507a"/>
<rect x="207.62" y="80.27" width="1.99" height="9.63" fill="#3d9236"/>
<rect x="209.93" y="61.01" width="1.99" height="28.89" fill="#92507a"/>
<rect x="212.24" y="41.75" width="1.99" height="28.89" fill="#92507a"/>
<rect x="212.24" y="70.64" width="1.99" height="19.26" fill="#3d9236"/>
<rect x="214.55" y="61.01" width="1.99" height="28.89" fill="#92507a"/>
<rect x="216.86" y="73.85" width="1.99" height="12.84" fill="#92507a"/>
<rect x="216.86" y="86.69" width="1.99" height="3.21" fill="#3d9236"/>
<rect x="219.18" y="77.06" width="1.99" height="12.84" fill="#92507a"/>
<rect x="221.49" y="80.27" width="1.99" height="9.63" fill="#92507a"/>
<rect x="223.8" y="86.69" width="1.99" height="3.21" fill="#92507a"/>
<rect x="226.11" y="86.69" width="1.99" height="3.21" fill="#92507a"/>
<rect x="228.42" y="86.69" width="1.99" height="3.21" fill="#92507a"/>
<rect x="230.73" y="86.69" width="1.99" height="3.21" fill="#92507a"/>
<rect x="233.04" y="64.22" width="1.99" height="25.68" fill="#92507a"/>
<rect x="235.35" y="51.38" width="1.99" height="38.52" fill="#92507a"/>
<rect x="237.66" y="48.17" width="1.99" height="41.73" fill="#92507a"/>
<rect x="239.97" y="54.59" width="1.99" height="35.31" fill="#92507a"/>
<rect x="242.28" y="83.48" width="1.99" height="6.42" fill="#92507a"/>
<rect x="244.6" y="77.06" width="1.99" height="12.84" fill="#92507a"/>
<rect x="246.91" y="64.22" width="1.99" height="12.84" fill="#92507a"/>
<rect x="246.91" y="77.06" width="1.99" height="12.84" fill="#3d9236"/>
<rect x="249.22" y="80.27" width="1.99" height="3.21" fill="#92507a"/>
<rect x="249.22" y="83.48" width="1.99" height="6.42" fill="#3d9236"/>
<rect x="251.53" y="83.48" width="1.99" height="6.42" fill="#3d9236"/>
<rect x="253.84" y="86.69" width="1.99" height="3.21" fill="#92507a"/>
<rect x="256.15" y="86.69" width="1.99" height="3.21" fill="#3d9236"/>
<rect x="258.46" y="70.64" width="1.99" height="19.26" fill="#92507a"/>
<rect x="260.77" y="86.69" width="1.99" height="3.21" fill="#92507a"/>
<rect x="263.08" y="86.69" width="1.99" height="3.21" fill="#3d9236"/>
<rect x="265.39" y="70.64" width="1.99" height="19.26" fill="#92507a"/>
<line x1="69.4" y1="9" x2="69.4" y2="90.55" stroke="#000" stroke-width="1.35"/>
<line x1="65" y1="89.9" x2="69.4" y2="89.9" stroke="#000" stroke-width="1.35"/>
<text x="62.8" y="90.47" font-size="14.2" text-anchor="end">0</text>
<line x1="65" y1="73.85" x2="69.4" y2="73.85" stroke="#000" stroke-width="1.35"/>
<text x="62.8" y="75.47" font-size="14.2" text-anchor="end">5</text>
<line x1="65" y1="57.8" x2="69.4" y2="57.8" stroke="#000" stroke-width="1.35"/>
<text x="62.8" y="60.77" font-size="14.2" text-anchor="end">10</text>
<line x1="65" y1="41.75" x2="69.4" y2="41.75" stroke="#000" stroke-width="1.35"/>
<text x="62.8" y="46.17" font-size="14.2" text-anchor="end">15</text>
<line x1="65" y1="25.7" x2="69.4" y2="25.7" stroke="#000" stroke-width="1.35"/>
<text x="62.8" y="31.07" font-size="14.2" text-anchor="end">20</text>
<line x1="65" y1="9.65" x2="69.4" y2="9.65" stroke="#000" stroke-width="1.35"/>
<text x="62.8" y="16.27" font-size="14.2" text-anchor="end">25</text>
<text x="204.8" y="35.7" font-size="29" text-anchor="start">CSF</text>
<rect x="541" y="98.15" width="320.9" height="17.6" fill="#f3f3f3"/>
<rect x="541" y="98.15" width="15.95" height="17.6" fill="#dac8d1"/>
<rect x="541.2" y="98.15" width="0.49" height="17.6" fill="#a86f8d"/>
<rect x="542.09" y="98.15" width="0.49" height="17.6" fill="#a86f8d"/>
<rect x="542.97" y="98.15" width="0.49" height="17.6" fill="#a86f8d"/>
<rect x="543.86" y="98.15" width="0.49" height="17.6" fill="#a86f8d"/>
<rect x="544.74" y="98.15" width="0.49" height="17.6" fill="#a86f8d"/>
<rect x="545.63" y="98.15" width="0.49" height="17.6" fill="#a86f8d"/>
<rect x="546.52" y="98.15" width="0.49" height="17.6" fill="#a86f8d"/>
<rect x="547.4" y="98.15" width="0.49" height="17.6" fill="#a86f8d"/>
<rect x="548.29" y="98.15" width="0.49" height="17.6" fill="#a86f8d"/>
<rect x="549.18" y="98.15" width="0.49" height="17.6" fill="#a86f8d"/>
<rect x="550.06" y="98.15" width="0.49" height="17.6" fill="#a86f8d"/>
<rect x="550.95" y="98.15" width="0.49" height="17.6" fill="#a86f8d"/>
<rect x="551.83" y="98.15" width="0.49" height="17.6" fill="#a86f8d"/>
<rect x="552.72" y="98.15" width="0.49" height="17.6" fill="#a86f8d"/>
<rect x="553.61" y="98.15" width="0.49" height="17.6" fill="#a86f8d"/>
<rect x="554.49" y="98.15" width="0.49" height="17.6" fill="#a86f8d"/>
<rect x="555.38" y="98.15" width="0.49" height="17.6" fill="#a86f8d"/>
<rect x="556.26" y="98.15" width="0.49" height="17.6" fill="#a86f8d"/>
<rect x="541" y="117.65" width="320.9" height="17.6" fill="#f3f3f3"/>
<rect x="540.95" y="117.65" width="0.9" height="17.6" fill="#dccdd5"/>
<rect x="556.95" y="117.65" width="11.52" height="17.6" fill="#dac8d1"/>
<rect x="557.15" y="117.65" width="0.49" height="17.6" fill="#a86f8d"/>
<rect x="558.04" y="117.65" width="0.49" height="17.6" fill="#a86f8d"/>
<rect x="558.92" y="117.65" width="0.49" height="17.6" fill="#a86f8d"/>
<rect x="559.81" y="117.65" width="0.49" height="17.6" fill="#a86f8d"/>
<rect x="560.7" y="117.65" width="0.49" height="17.6" fill="#a86f8d"/>
<rect x="561.58" y="117.65" width="0.49" height="17.6" fill="#a86f8d"/>
<rect x="562.47" y="117.65" width="0.49" height="17.6" fill="#a86f8d"/>
<rect x="563.35" y="117.65" width="0.49" height="17.6" fill="#a86f8d"/>
<rect x="564.24" y="117.65" width="0.49" height="17.6" fill="#a86f8d"/>
<rect x="565.13" y="117.65" width="0.49" height="17.6" fill="#a86f8d"/>
<rect x="566.01" y="117.65" width="0.49" height="17.6" fill="#a86f8d"/>
<rect x="566.9" y="117.65" width="0.49" height="17.6" fill="#a86f8d"/>
<rect x="567.79" y="117.65" width="0.49" height="17.6" fill="#a86f8d"/>
<rect x="541" y="137.15" width="320.9" height="17.6" fill="#f3f3f3"/>
<rect x="556.85" y="137.15" width="0.9" height="17.6" fill="#b88ca4"/>
<rect x="569.36" y="137.15" width="10.63" height="17.6" fill="#dac8d1"/>
<rect x="569.56" y="137.15" width="0.49" height="17.6" fill="#a86f8d"/>
<rect x="570.44" y="137.15" width="0.49" height="17.6" fill="#a86f8d"/>
<rect x="571.33" y="137.15" width="0.49" height="17.6" fill="#a86f8d"/>
<rect x="572.22" y="137.15" width="0.49" height="17.6" fill="#a86f8d"/>
<rect x="573.1" y="137.15" width="0.49" height="17.6" fill="#a86f8d"/>
<rect x="573.99" y="137.15" width="0.49" height="17.6" fill="#a86f8d"/>
<rect x="574.87" y="137.15" width="0.49" height="17.6" fill="#a86f8d"/>
<rect x="575.76" y="137.15" width="0.49" height="17.6" fill="#a86f8d"/>
<rect x="576.65" y="137.15" width="0.49" height="17.6" fill="#a86f8d"/>
<rect x="577.53" y="137.15" width="0.49" height="17.6" fill="#a86f8d"/>
<rect x="578.42" y="137.15" width="0.49" height="17.6" fill="#a86f8d"/>
<rect x="579.31" y="137.15" width="0.49" height="17.6" fill="#a86f8d"/>
<rect x="541" y="156.65" width="320.9" height="17.6" fill="#f3f3f3"/>
<rect x="569.06" y="156.65" width="0.98" height="17.6" fill="#b88ca4"/>
<rect x="579.99" y="156.65" width="8.86" height="17.6" fill="#dac8d1"/>
<rect x="580.19" y="156.65" width="0.49" height="17.6" fill="#a86f8d"/>
<rect x="581.08" y="156.65" width="0.49" height="17.6" fill="#a86f8d"/>
<rect x="581.96" y="156.65" width="0.49" height="17.6" fill="#a86f8d"/>
<rect x="582.85" y="156.65" width="0.49" height="17.6" fill="#a86f8d"/>
<rect x="583.74" y="156.65" width="0.49" height="17.6" fill="#a86f8d"/>
<rect x="584.62" y="156.65" width="0.49" height="17.6" fill="#a86f8d"/>
<rect x="585.51" y="156.65" width="0.49" height="17.6" fill="#a86f8d"/>
<rect x="586.39" y="156.65" width="0.49" height="17.6" fill="#a86f8d"/>
<rect x="587.28" y="156.65" width="0.49" height="17.6" fill="#a86f8d"/>
<rect x="588.17" y="156.65" width="0.49" height="17.6" fill="#a86f8d"/>
<rect x="541" y="176.15" width="320.9" height="17.6" fill="#f3f3f3"/>
<rect x="541" y="176.15" width="2.66" height="17.6" fill="#dac8d1"/>
<rect x="541.2" y="176.15" width="0.49" height="17.6" fill="#a86f8d"/>
<rect x="542.09" y="176.15" width="0.49" height="17.6" fill="#a86f8d"/>
<rect x="542.97" y="176.15" width="0.49" height="17.6" fill="#a86f8d"/>
<rect x="558.27" y="176.15" width="1.05" height="17.6" fill="#d3bcc8"/>
<rect x="570.68" y="176.15" width="1.05" height="17.6" fill="#b88ca4"/>
<rect x="580.31" y="176.15" width="1.27" height="17.6" fill="#d3bcc8"/>
<rect x="589.14" y="176.15" width="1.42" height="17.6" fill="#b88ca4"/>
<rect x="541" y="195.65" width="320.9" height="17.6" fill="#f3f3f3"/>
<rect x="540.95" y="195.65" width="0.9" height="17.6" fill="#d8c4cf"/>
<rect x="544.1" y="195.65" width="0.9" height="17.6" fill="#dac9d2"/>
<rect x="557.84" y="195.65" width="3.54" height="17.6" fill="#dac8d1"/>
<rect x="558.04" y="195.65" width="0.49" height="17.6" fill="#a86f8d"/>
<rect x="558.92" y="195.65" width="0.49" height="17.6" fill="#a86f8d"/>
<rect x="559.81" y="195.65" width="0.49" height="17.6" fill="#a86f8d"/>
<rect x="560.7" y="195.65" width="0.49" height="17.6" fill="#a86f8d"/>
<rect x="591.18" y="195.65" width="1.05" height="17.6" fill="#b88ca4"/>
<rect x="541" y="215.15" width="320.9" height="17.6" fill="#f3f3f3"/>
<rect x="556.07" y="215.15" width="3.54" height="17.6" fill="#dac8d1"/>
<rect x="556.26" y="215.15" width="0.49" height="17.6" fill="#a86f8d"/>
<rect x="557.15" y="215.15" width="0.49" height="17.6" fill="#a86f8d"/>
<rect x="558.04" y="215.15" width="0.49" height="17.6" fill="#a86f8d"/>
<rect x="558.92" y="215.15" width="0.49" height="17.6" fill="#a86f8d"/>
<rect x="562.27" y="215.15" width="2.66" height="17.6" fill="#dac8d1"/>
<rect x="562.47" y="215.15" width="0.49" height="17.6" fill="#a86f8d"/>
<rect x="563.35" y="215.15" width="0.49" height="17.6" fill="#a86f8d"/>
<rect x="564.24" y="215.15" width="0.49" height="17.6" fill="#a86f8d"/>
<rect x="541" y="234.65" width="320.9" height="17.6" fill="#f3f3f3"/>
<rect x="556.33" y="234.65" width="1.35" height="17.6" fill="#b88ca4"/>
<rect x="570.68" y="234.65" width="1.05" height="17.6" fill="#b88ca4"/>
<rect x="581.18" y="234.65" width="1.05" height="17.6" fill="#d3bcc8"/>
<rect x="588.33" y="234.65" width="1.35" height="17.6" fill="#d3bcc8"/>
<rect x="592.4" y="234.65" width="3.54" height="17.6" fill="#dac8d1"/>
<rect x="592.6" y="234.65" width="0.49" height="17.6" fill="#a86f8d"/>
<rect x="593.48" y="234.65" width="0.49" height="17.6" fill="#a86f8d"/>
<rect x="594.37" y="234.65" width="0.49" height="17.6" fill="#a86f8d"/>
<rect x="595.26" y="234.65" width="0.49" height="17.6" fill="#a86f8d"/>
<rect x="541" y="254.15" width="320.9" height="17.6" fill="#f3f3f3"/>
<rect x="545" y="254.15" width="0.9" height="17.6" fill="#bd95aa"/>
<rect x="591.05" y="254.15" width="0.9" height="17.6" fill="#c19db1"/>
<rect x="595.94" y="254.15" width="2.66" height="17.6" fill="#dac8d1"/>
<rect x="596.14" y="254.15" width="0.49" height="17.6" fill="#a86f8d"/>
<rect x="597.03" y="254.15" width="0.49" height="17.6" fill="#a86f8d"/>
<rect x="597.92" y="254.15" width="0.49" height="17.6" fill="#a86f8d"/>
<rect x="541" y="273.65" width="320.9" height="17.6" fill="#f3f3f3"/>
<rect x="546.05" y="273.65" width="0.9" height="17.6" fill="#d8c4cf"/>
<rect x="599.49" y="273.65" width="4.43" height="17.6" fill="#dac8d1"/>
<rect x="599.69" y="273.65" width="0.49" height="17.6" fill="#a86f8d"/>
<rect x="600.57" y="273.65" width="0.49" height="17.6" fill="#a86f8d"/>
<rect x="601.46" y="273.65" width="0.49" height="17.6" fill="#a86f8d"/>
<rect x="602.35" y="273.65" width="0.49" height="17.6" fill="#a86f8d"/>
<rect x="603.23" y="273.65" width="0.49" height="17.6" fill="#a86f8d"/>
<rect x="541" y="293.15" width="320.9" height="17.6" fill="#f3f3f3"/>
<rect x="603.92" y="293.15" width="3.54" height="17.6" fill="#dac8d1"/>
<rect x="604.12" y="293.15" width="0.49" height="17.6" fill="#a86f8d"/>
<rect x="605" y="293.15" width="0.49" height="17.6" fill="#a86f8d"/>
<rect x="605.89" y="293.15" width="0.49" height="17.6" fill="#a86f8d"/>
<rect x="606.78" y="293.15" width="0.49" height="17.6" fill="#a86f8d"/>
<rect x="541" y="312.65" width="320.9" height="17.6" fill="#f3f3f3"/>
<rect x="546.95" y="312.65" width="0.9" height="17.6" fill="#b88ca4"/>
<rect x="572.02" y="312.65" width="2.66" height="17.6" fill="#dac8d1"/>
<rect x="572.22" y="312.65" width="0.49" height="17.6" fill="#a86f8d"/>
<rect x="573.1" y="312.65" width="0.49" height="17.6" fill="#a86f8d"/>
<rect x="573.99" y="312.65" width="0.49" height="17.6" fill="#a86f8d"/>
<rect x="541" y="332.15" width="320.9" height="17.6" fill="#f3f3f3"/>
<rect x="540.85" y="332.15" width="0.9" height="17.6" fill="#d3bcc8"/>
<rect x="595.39" y="332.15" width="1.12" height="17.6" fill="#b7d1b7"/>
<rect x="608.07" y="332.15" width="1.05" height="17.6" fill="#b88ca4"/>
<rect x="541" y="351.65" width="320.9" height="17.6" fill="#f3f3f3"/>
<rect x="558.27" y="351.65" width="1.05" height="17.6" fill="#b88ca4"/>
<rect x="570.68" y="351.65" width="1.05" height="17.6" fill="#b88ca4"/>
<rect x="588.33" y="351.65" width="1.35" height="17.6" fill="#d3bcc8"/>
<rect x="592.95" y="351.65" width="0.9" height="17.6" fill="#b88ca4"/>
<rect x="541" y="371.15" width="320.9" height="17.6" fill="#f3f3f3"/>
<rect x="568.95" y="371.15" width="0.9" height="17.6" fill="#c19db1"/>
<rect x="571.49" y="371.15" width="1.12" height="17.6" fill="#d3bcc8"/>
<rect x="609.49" y="371.15" width="1.12" height="17.6" fill="#b88ca4"/>
<rect x="541" y="390.65" width="320.9" height="17.6" fill="#f3f3f3"/>
<rect x="547.75" y="390.65" width="0.9" height="17.6" fill="#d3bcc8"/>
<rect x="562" y="390.65" width="0.9" height="17.6" fill="#bd95aa"/>
<rect x="589.15" y="390.65" width="0.9" height="17.6" fill="#c19db1"/>
<rect x="541" y="410.15" width="320.9" height="17.6" fill="#f3f3f3"/>
<rect x="582.05" y="410.15" width="1.5" height="17.6" fill="#b88ca4"/>
<rect x="541" y="429.65" width="320.9" height="17.6" fill="#f3f3f3"/>
<rect x="565.29" y="429.65" width="1.12" height="17.6" fill="#b88ca4"/>
<rect x="591.05" y="429.65" width="0.9" height="17.6" fill="#c19db1"/>
<rect x="610.23" y="429.65" width="1.35" height="17.6" fill="#d3bcc8"/>
<rect x="541" y="449.15" width="320.9" height="17.6" fill="#f3f3f3"/>
<rect x="593.76" y="449.15" width="0.97" height="17.6" fill="#d3bcc8"/>
<rect x="611.33" y="449.15" width="1.35" height="17.6" fill="#b88ca4"/>
<rect x="541" y="468.65" width="320.9" height="17.6" fill="#f3f3f3"/>
<rect x="575.05" y="468.65" width="0.9" height="17.6" fill="#d8c4cf"/>
<rect x="613.39" y="468.65" width="1.12" height="17.6" fill="#b88ca4"/>
<rect x="541" y="488.15" width="320.9" height="17.6" fill="#f3f3f3"/>
<rect x="572.25" y="488.15" width="1.5" height="17.6" fill="#b88ca4"/>
<rect x="541" y="507.65" width="320.9" height="17.6" fill="#f3f3f3"/>
<rect x="615.16" y="507.65" width="0.97" height="17.6" fill="#b88ca4"/>
<rect x="541" y="527.15" width="320.9" height="17.6" fill="#f3f3f3"/>
<rect x="589.2" y="527.15" width="0.9" height="17.6" fill="#bd95aa"/>
<rect x="616.5" y="527.15" width="1.2" height="17.6" fill="#d3bcc8"/>
<rect x="541" y="546.65" width="320.9" height="17.6" fill="#f3f3f3"/>
<rect x="574.06" y="546.65" width="0.98" height="17.6" fill="#82b582"/>
<rect x="617.41" y="546.65" width="1.27" height="17.6" fill="#b7d1b7"/>
<rect x="541" y="566.15" width="320.9" height="17.6" fill="#f3f3f3"/>
<rect x="603.33" y="566.15" width="1.35" height="17.6" fill="#d3bcc8"/>
<rect x="618.21" y="566.15" width="1.28" height="17.6" fill="#b88ca4"/>
<rect x="541" y="585.65" width="320.9" height="17.6" fill="#f3f3f3"/>
<rect x="557.24" y="585.65" width="1.42" height="17.6" fill="#d3bcc8"/>
<rect x="618.95" y="585.65" width="0.9" height="17.6" fill="#c19db1"/>
<rect x="541" y="605.15" width="320.9" height="17.6" fill="#f3f3f3"/>
<rect x="565.21" y="605.15" width="1.28" height="17.6" fill="#b88ca4"/>
<rect x="620.18" y="605.15" width="1.05" height="17.6" fill="#d3bcc8"/>
<text x="535.6" y="113.7" font-size="21" text-anchor="end">5%</text>
<text x="535.6" y="133.2" font-size="21" text-anchor="end">4%</text>
<text x="535.6" y="152.7" font-size="21" text-anchor="end">4%</text>
<text x="535.6" y="172.2" font-size="21" text-anchor="end">3%</text>
<text x="535.6" y="191.7" font-size="21" text-anchor="end">2%</text>
<text x="535.6" y="211.2" font-size="21" text-anchor="end">2%</text>
<text x="535.6" y="230.7" font-size="21" text-anchor="end">2%</text>
<text x="535.6" y="250.2" font-size="21" text-anchor="end">2%</text>
<text x="535.6" y="269.7" font-size="21" text-anchor="end">2%</text>
<text x="535.6" y="289.2" font-size="21" text-anchor="end">2%</text>
<text x="535.6" y="308.7" font-size="21" text-anchor="end">1%</text>
<text x="535.6" y="328.2" font-size="21" text-anchor="end">1%</text>
<text x="535.6" y="347.7" font-size="21" text-anchor="end">1%</text>
<text x="535.6" y="367.2" font-size="21" text-anchor="end">1%</text>
<text x="535.6" y="386.7" font-size="21" text-anchor="end">1%</text>
<text x="535.6" y="406.2" font-size="21" text-anchor="end">1%</text>
<text x="535.6" y="425.7" font-size="21" text-anchor="end">1%</text>
<text x="535.6" y="445.2" font-size="21" text-anchor="end">1%</text>
<text x="535.6" y="464.7" font-size="21" text-anchor="end">1%</text>
<text x="535.6" y="484.2" font-size="21" text-anchor="end">1%</text>
<text x="535.6" y="503.7" font-size="21" text-anchor="end">1%</text>
<text x="535.6" y="523.2" font-size="21" text-anchor="end">1%</text>
<text x="535.6" y="542.7" font-size="21" text-anchor="end">1%</text>
<text x="535.6" y="562.2" font-size="21" text-anchor="end">1%</text>
<text x="535.6" y="581.7" font-size="21" text-anchor="end">1%</text>
<text x="535.6" y="601.2" font-size="21" text-anchor="end">1%</text>
<text x="535.6" y="620.7" font-size="21" text-anchor="end">1%</text>
<text x="867" y="112.7" font-size="20.8" text-anchor="start" font-style="italic">EGFR</text>
<text x="867" y="132.2" font-size="20.8" text-anchor="start" font-style="italic">MDM2</text>
<text x="867" y="151.7" font-size="20.8" text-anchor="start" font-style="italic">SDHA</text>
<text x="867" y="171.2" font-size="20.8" text-anchor="start" font-style="italic">MYC</text>
<text x="867" y="190.7" font-size="20.8" text-anchor="start" font-style="italic">FOXA1</text>
<text x="867" y="210.2" font-size="20.8" text-anchor="start" font-style="italic">CDK4</text>
<text x="867" y="229.7" font-size="20.8" text-anchor="start" font-style="italic">IFNG</text>
<text x="867" y="249.2" font-size="20.8" text-anchor="start" font-style="italic">NFKBIA</text>
<text x="867" y="268.7" font-size="20.8" text-anchor="start" font-style="italic">CCNE1</text>
<text x="867" y="288.2" font-size="20.8" text-anchor="start" font-style="italic">MET</text>
<text x="867" y="307.7" font-size="20.8" text-anchor="start" font-style="italic">FGFR1</text>
<text x="867" y="327.2" font-size="20.8" text-anchor="start" font-style="italic">IL7R</text>
<text x="867" y="346.7" font-size="20.8" text-anchor="start" font-style="italic">CEBPA</text>
<text x="867" y="366.2" font-size="20.8" text-anchor="start" font-style="italic">NKX2−1</text>
<text x="867" y="385.7" font-size="20.8" text-anchor="start" font-style="italic">AKT2</text>
<text x="867" y="405.2" font-size="20.8" text-anchor="start" font-style="italic">ERBB2</text>
<text x="867" y="424.7" font-size="20.8" text-anchor="start" font-style="italic">EXT1</text>
<text x="867" y="444.2" font-size="20.8" text-anchor="start" font-style="italic">KRAS</text>
<text x="867" y="463.7" font-size="20.8" text-anchor="start" font-style="italic">MCL1</text>
<text x="867" y="483.2" font-size="20.8" text-anchor="start" font-style="italic">MDM4</text>
<text x="867" y="502.7" font-size="20.8" text-anchor="start" font-style="italic">RICTOR</text>
<text x="867" y="522.2" font-size="20.8" text-anchor="start" font-style="italic">AKT1</text>
<text x="867" y="541.7" font-size="20.8" text-anchor="start" font-style="italic">CCND1</text>
<text x="867" y="561.2" font-size="20.8" text-anchor="start" font-style="italic">CDKN2A</text>
<text x="867" y="580.7" font-size="20.8" text-anchor="start" font-style="italic">CRKL</text>
<text x="867" y="600.2" font-size="20.8" text-anchor="start" font-style="italic">GNAS</text>
<text x="867" y="619.7" font-size="20.8" text-anchor="start" font-style="italic">GRIN2A</text>
<rect x="568.98" y="26" width="1" height="67.6" fill="#b4829d"/>
<rect x="558.32" y="42.9" width="1.33" height="50.7" fill="#b4829d"/>
<rect x="612.95" y="42.9" width="1" height="50.7" fill="#b4829d"/>
<rect x="557.65" y="51.35" width="1.33" height="42.25" fill="#8c3e68"/>
<rect x="565.31" y="51.35" width="1.2" height="42.25" fill="#b4829d"/>
<rect x="570.78" y="51.35" width="1.07" height="42.25" fill="#b4829d"/>
<rect x="589.3" y="51.35" width="0.67" height="42.25" fill="#b4829d"/>
<rect x="590.76" y="51.35" width="1.07" height="42.25" fill="#b4829d"/>
<rect x="556.98" y="59.8" width="1" height="33.8" fill="#8c3e68"/>
<rect x="571.64" y="59.8" width="1.67" height="33.8" fill="#8c3e68"/>
<rect x="573.31" y="59.8" width="1" height="33.8" fill="#8c3e68"/>
<rect x="575.97" y="59.8" width="0.8" height="33.8" fill="#b4829d"/>
<rect x="558.98" y="68.25" width="1" height="25.35" fill="#8c3e68"/>
<rect x="561.98" y="68.25" width="0.8" height="25.35" fill="#b4829d"/>
<rect x="574.31" y="68.25" width="1" height="25.35" fill="#8c3e68"/>
<rect x="581.3" y="68.25" width="2.33" height="25.35" fill="#8c3e68"/>
<rect x="588.63" y="68.25" width="0.8" height="25.35" fill="#8c3e68"/>
<rect x="619.61" y="68.25" width="1.33" height="25.35" fill="#8c3e68"/>
<rect x="622.94" y="68.25" width="1.13" height="25.35" fill="#8c3e68"/>
<rect x="625.94" y="68.25" width="1" height="25.35" fill="#b4829d"/>
<rect x="541.33" y="76.7" width="7" height="16.9" fill="#8c3e68"/>
<rect x="559.98" y="76.7" width="2" height="16.9" fill="#8c3e68"/>
<rect x="562.78" y="76.7" width="2.53" height="16.9" fill="#8c3e68"/>
<rect x="569.98" y="76.7" width="0.8" height="16.9" fill="#8c3e68"/>
<rect x="575.31" y="76.7" width="0.67" height="16.9" fill="#8c3e68"/>
<rect x="580.64" y="76.7" width="0.67" height="16.9" fill="#8c3e68"/>
<rect x="583.63" y="76.7" width="2" height="16.9" fill="#8c3e68"/>
<rect x="592.96" y="76.7" width="2.67" height="16.9" fill="#8c3e68"/>
<rect x="595.63" y="76.7" width="1" height="16.9" fill="#8c3e68"/>
<rect x="599.29" y="76.7" width="1.47" height="16.9" fill="#8c3e68"/>
<rect x="603.29" y="76.7" width="2.67" height="16.9" fill="#8c3e68"/>
<rect x="605.95" y="76.7" width="1" height="16.9" fill="#8c3e68"/>
<rect x="613.95" y="76.7" width="1" height="16.9" fill="#8c3e68"/>
<rect x="616.95" y="76.7" width="2" height="16.9" fill="#8c3e68"/>
<rect x="620.95" y="76.7" width="1" height="16.9" fill="#8c3e68"/>
<rect x="626.94" y="76.7" width="1" height="16.9" fill="#8c3e68"/>
<rect x="548.32" y="85.15" width="8.66" height="8.45" fill="#8c3e68"/>
<rect x="566.51" y="85.15" width="2.47" height="8.45" fill="#8c3e68"/>
<rect x="576.77" y="85.15" width="3.86" height="8.45" fill="#8c3e68"/>
<rect x="585.63" y="85.15" width="3" height="8.45" fill="#8c3e68"/>
<rect x="589.96" y="85.15" width="0.8" height="8.45" fill="#8c3e68"/>
<rect x="591.83" y="85.15" width="1.13" height="8.45" fill="#8c3e68"/>
<rect x="596.63" y="85.15" width="2.67" height="8.45" fill="#8c3e68"/>
<rect x="600.76" y="85.15" width="2.53" height="8.45" fill="#8c3e68"/>
<rect x="606.95" y="85.15" width="6" height="8.45" fill="#8c3e68"/>
<rect x="614.95" y="85.15" width="2" height="8.45" fill="#8c3e68"/>
<rect x="618.95" y="85.15" width="0.67" height="8.45" fill="#8c3e68"/>
<rect x="621.94" y="85.15" width="1" height="8.45" fill="#8c3e68"/>
<rect x="624.08" y="85.15" width="1.87" height="8.45" fill="#8c3e68"/>
<rect x="627.94" y="85.15" width="2" height="8.45" fill="#8c3e68"/>
<rect x="541.33" y="85.15" width="88.61" height="8.45" fill="#8c3e68"/>
<rect x="542.99" y="68.25" width="1.33" height="8.45" fill="#2c872c"/>
<rect x="573.31" y="59.8" width="1" height="8.45" fill="#2c872c"/>
<rect x="574.31" y="68.25" width="1" height="8.45" fill="#2c872c"/>
<rect x="595.63" y="76.7" width="1" height="8.45" fill="#2c872c"/>
<rect x="605.95" y="76.7" width="1" height="8.45" fill="#2c872c"/>
<rect x="616.95" y="76.7" width="2" height="16.9" fill="#2c872c"/>
<rect x="622.94" y="68.25" width="1.13" height="25.35" fill="#2c872c"/>
<line x1="541" y1="25.35" x2="541" y2="94.25" stroke="#000" stroke-width="1.35"/>
<line x1="537" y1="93.6" x2="541" y2="93.6" stroke="#000" stroke-width="1.35"/>
<text x="535" y="97.17" font-size="14.2" text-anchor="end">0</text>
<line x1="537" y1="76.7" x2="541" y2="76.7" stroke="#000" stroke-width="1.35"/>
<text x="535" y="80.32" font-size="14.2" text-anchor="end">2</text>
<line x1="537" y1="59.8" x2="541" y2="59.8" stroke="#000" stroke-width="1.35"/>
<text x="535" y="63.47" font-size="14.2" text-anchor="end">4</text>
<line x1="537" y1="42.9" x2="541" y2="42.9" stroke="#000" stroke-width="1.35"/>
<text x="535" y="46.62" font-size="14.2" text-anchor="end">6</text>
<line x1="537" y1="26" x2="541" y2="26" stroke="#000" stroke-width="1.35"/>
<text x="535" y="29.77" font-size="14.2" text-anchor="end">8</text>
<text x="670.8" y="35.9" font-size="29" text-anchor="start" letter-spacing="0.5">ESLT</text>
<rect x="64.6" y="736.1" width="326" height="17.4" fill="#f0f0f0"/>
<rect x="64.6" y="736.1" width="39.44" height="17.4" fill="#d2bbc8"/>
<rect x="64.78" y="736.1" width="0.44" height="17.4" fill="#90466e"/>
<rect x="65.59" y="736.1" width="0.44" height="17.4" fill="#90466e"/>
<rect x="66.39" y="736.1" width="0.44" height="17.4" fill="#90466e"/>
<rect x="67.2" y="736.1" width="0.44" height="17.4" fill="#90466e"/>
<rect x="68" y="736.1" width="0.44" height="17.4" fill="#90466e"/>
<rect x="68.81" y="736.1" width="0.44" height="17.4" fill="#90466e"/>
<rect x="69.61" y="736.1" width="0.44" height="17.4" fill="#90466e"/>
<rect x="70.42" y="736.1" width="0.44" height="17.4" fill="#90466e"/>
<rect x="71.22" y="736.1" width="0.44" height="17.4" fill="#90466e"/>
<rect x="72.03" y="736.1" width="0.44" height="17.4" fill="#90466e"/>
<rect x="72.83" y="736.1" width="0.44" height="17.4" fill="#90466e"/>
<rect x="73.64" y="736.1" width="0.44" height="17.4" fill="#90466e"/>
<rect x="74.44" y="736.1" width="0.44" height="17.4" fill="#90466e"/>
<rect x="75.25" y="736.1" width="0.44" height="17.4" fill="#90466e"/>
<rect x="76.05" y="736.1" width="0.44" height="17.4" fill="#90466e"/>
<rect x="76.86" y="736.1" width="0.44" height="17.4" fill="#90466e"/>
<rect x="77.66" y="736.1" width="0.44" height="17.4" fill="#90466e"/>
<rect x="78.47" y="736.1" width="0.44" height="17.4" fill="#90466e"/>
<rect x="79.27" y="736.1" width="0.44" height="17.4" fill="#90466e"/>
<rect x="80.07" y="736.1" width="0.44" height="17.4" fill="#90466e"/>
<rect x="80.88" y="736.1" width="0.44" height="17.4" fill="#90466e"/>
<rect x="81.68" y="736.1" width="0.44" height="17.4" fill="#90466e"/>
<rect x="82.49" y="736.1" width="0.44" height="17.4" fill="#90466e"/>
<rect x="83.29" y="736.1" width="0.44" height="17.4" fill="#90466e"/>
<rect x="84.1" y="736.1" width="0.44" height="17.4" fill="#90466e"/>
<rect x="84.9" y="736.1" width="0.44" height="17.4" fill="#90466e"/>
<rect x="85.71" y="736.1" width="0.44" height="17.4" fill="#90466e"/>
<rect x="86.51" y="736.1" width="0.44" height="17.4" fill="#90466e"/>
<rect x="87.32" y="736.1" width="0.44" height="17.4" fill="#90466e"/>
<rect x="88.12" y="736.1" width="0.44" height="17.4" fill="#90466e"/>
<rect x="88.93" y="736.1" width="0.44" height="17.4" fill="#90466e"/>
<rect x="89.73" y="736.1" width="0.44" height="17.4" fill="#90466e"/>
<rect x="90.54" y="736.1" width="0.44" height="17.4" fill="#90466e"/>
<rect x="91.34" y="736.1" width="0.44" height="17.4" fill="#90466e"/>
<rect x="92.15" y="736.1" width="0.44" height="17.4" fill="#90466e"/>
<rect x="92.95" y="736.1" width="0.44" height="17.4" fill="#90466e"/>
<rect x="93.76" y="736.1" width="0.44" height="17.4" fill="#90466e"/>
<rect x="94.56" y="736.1" width="0.44" height="17.4" fill="#90466e"/>
<rect x="95.37" y="736.1" width="0.44" height="17.4" fill="#90466e"/>
<rect x="96.17" y="736.1" width="0.44" height="17.4" fill="#90466e"/>
<rect x="96.98" y="736.1" width="0.44" height="17.4" fill="#90466e"/>
<rect x="97.78" y="736.1" width="0.44" height="17.4" fill="#90466e"/>
<rect x="98.59" y="736.1" width="0.44" height="17.4" fill="#90466e"/>
<rect x="99.39" y="736.1" width="0.44" height="17.4" fill="#90466e"/>
<rect x="100.2" y="736.1" width="0.44" height="17.4" fill="#90466e"/>
<rect x="101" y="736.1" width="0.44" height="17.4" fill="#90466e"/>
<rect x="101.81" y="736.1" width="0.44" height="17.4" fill="#90466e"/>
<rect x="102.61" y="736.1" width="0.44" height="17.4" fill="#90466e"/>
<rect x="103.42" y="736.1" width="0.44" height="17.4" fill="#90466e"/>
<rect x="64.6" y="755.88" width="326" height="17.4" fill="#f0f0f0"/>
<rect x="65.08" y="755.88" width="1.05" height="17.4" fill="#a06283"/>
<rect x="104.85" y="755.88" width="12.88" height="17.4" fill="#d2bbc8"/>
<rect x="105.03" y="755.88" width="0.44" height="17.4" fill="#90466e"/>
<rect x="105.83" y="755.88" width="0.44" height="17.4" fill="#90466e"/>
<rect x="106.64" y="755.88" width="0.44" height="17.4" fill="#90466e"/>
<rect x="107.44" y="755.88" width="0.44" height="17.4" fill="#90466e"/>
<rect x="108.25" y="755.88" width="0.44" height="17.4" fill="#90466e"/>
<rect x="109.05" y="755.88" width="0.44" height="17.4" fill="#90466e"/>
<rect x="109.86" y="755.88" width="0.44" height="17.4" fill="#90466e"/>
<rect x="110.66" y="755.88" width="0.44" height="17.4" fill="#90466e"/>
<rect x="111.47" y="755.88" width="0.44" height="17.4" fill="#90466e"/>
<rect x="112.27" y="755.88" width="0.44" height="17.4" fill="#90466e"/>
<rect x="113.08" y="755.88" width="0.44" height="17.4" fill="#90466e"/>
<rect x="113.88" y="755.88" width="0.44" height="17.4" fill="#90466e"/>
<rect x="114.69" y="755.88" width="0.44" height="17.4" fill="#90466e"/>
<rect x="115.49" y="755.88" width="0.44" height="17.4" fill="#90466e"/>
<rect x="116.3" y="755.88" width="0.44" height="17.4" fill="#90466e"/>
<rect x="117.1" y="755.88" width="0.44" height="17.4" fill="#90466e"/>
<rect x="64.6" y="775.66" width="326" height="17.4" fill="#f0f0f0"/>
<rect x="66.21" y="775.66" width="2.41" height="17.4" fill="#d2bbc8"/>
<rect x="66.39" y="775.66" width="0.44" height="17.4" fill="#90466e"/>
<rect x="67.2" y="775.66" width="0.44" height="17.4" fill="#90466e"/>
<rect x="68" y="775.66" width="0.44" height="17.4" fill="#90466e"/>
<rect x="104.35" y="775.66" width="0.9" height="17.4" fill="#cfb5c3"/>
<rect x="117.73" y="775.66" width="10.46" height="17.4" fill="#d2bbc8"/>
<rect x="117.91" y="775.66" width="0.44" height="17.4" fill="#90466e"/>
<rect x="118.71" y="775.66" width="0.44" height="17.4" fill="#90466e"/>
<rect x="119.52" y="775.66" width="0.44" height="17.4" fill="#90466e"/>
<rect x="120.32" y="775.66" width="0.44" height="17.4" fill="#90466e"/>
<rect x="121.13" y="775.66" width="0.44" height="17.4" fill="#90466e"/>
<rect x="121.93" y="775.66" width="0.44" height="17.4" fill="#90466e"/>
<rect x="122.74" y="775.66" width="0.44" height="17.4" fill="#90466e"/>
<rect x="123.54" y="775.66" width="0.44" height="17.4" fill="#90466e"/>
<rect x="124.35" y="775.66" width="0.44" height="17.4" fill="#90466e"/>
<rect x="125.15" y="775.66" width="0.44" height="17.4" fill="#90466e"/>
<rect x="125.96" y="775.66" width="0.44" height="17.4" fill="#90466e"/>
<rect x="126.76" y="775.66" width="0.44" height="17.4" fill="#90466e"/>
<rect x="127.57" y="775.66" width="0.44" height="17.4" fill="#90466e"/>
<rect x="64.6" y="795.44" width="326" height="17.4" fill="#f0f0f0"/>
<rect x="64.1" y="795.44" width="3" height="17.4" fill="#d2bbc7"/>
<rect x="69" y="795.44" width="0.9" height="17.4" fill="#a76d8c"/>
<rect x="105.65" y="795.44" width="4.02" height="17.4" fill="#d2bbc8"/>
<rect x="105.83" y="795.44" width="0.44" height="17.4" fill="#90466e"/>
<rect x="106.64" y="795.44" width="0.44" height="17.4" fill="#90466e"/>
<rect x="107.44" y="795.44" width="0.44" height="17.4" fill="#90466e"/>
<rect x="108.25" y="795.44" width="0.44" height="17.4" fill="#90466e"/>
<rect x="109.05" y="795.44" width="0.44" height="17.4" fill="#90466e"/>
<rect x="128.19" y="795.44" width="4.02" height="17.4" fill="#d2bbc8"/>
<rect x="128.37" y="795.44" width="0.44" height="17.4" fill="#90466e"/>
<rect x="129.18" y="795.44" width="0.44" height="17.4" fill="#90466e"/>
<rect x="129.98" y="795.44" width="0.44" height="17.4" fill="#90466e"/>
<rect x="130.79" y="795.44" width="0.44" height="17.4" fill="#90466e"/>
<rect x="131.59" y="795.44" width="0.44" height="17.4" fill="#90466e"/>
<rect x="64.6" y="815.22" width="326" height="17.4" fill="#f0f0f0"/>
<rect x="66.2" y="815.22" width="0.9" height="17.4" fill="#cbafbe"/>
<rect x="71.06" y="815.22" width="1.58" height="17.4" fill="#a06283"/>
<rect x="105.42" y="815.22" width="1.35" height="17.4" fill="#a06283"/>
<rect x="117.4" y="815.22" width="1.2" height="17.4" fill="#c8a9ba"/>
<rect x="132.21" y="815.22" width="5.63" height="17.4" fill="#d2bbc8"/>
<rect x="132.4" y="815.22" width="0.44" height="17.4" fill="#90466e"/>
<rect x="133.2" y="815.22" width="0.44" height="17.4" fill="#90466e"/>
<rect x="134.01" y="815.22" width="0.44" height="17.4" fill="#90466e"/>
<rect x="134.81" y="815.22" width="0.44" height="17.4" fill="#90466e"/>
<rect x="135.62" y="815.22" width="0.44" height="17.4" fill="#90466e"/>
<rect x="136.42" y="815.22" width="0.44" height="17.4" fill="#90466e"/>
<rect x="137.23" y="815.22" width="0.44" height="17.4" fill="#90466e"/>
<rect x="64.6" y="835" width="326" height="17.4" fill="#f0f0f0"/>
<rect x="70.97" y="835" width="1.05" height="17.4" fill="#a06283"/>
<rect x="117.76" y="835" width="0.98" height="17.4" fill="#a06283"/>
<rect x="132.21" y="835" width="2.41" height="17.4" fill="#d2bbc8"/>
<rect x="132.4" y="835" width="0.44" height="17.4" fill="#90466e"/>
<rect x="133.2" y="835" width="0.44" height="17.4" fill="#90466e"/>
<rect x="134.01" y="835" width="0.44" height="17.4" fill="#90466e"/>
<rect x="137.04" y="835" width="4.83" height="17.4" fill="#d2bbc8"/>
<rect x="137.23" y="835" width="0.44" height="17.4" fill="#90466e"/>
<rect x="138.03" y="835" width="0.44" height="17.4" fill="#90466e"/>
<rect x="138.84" y="835" width="0.44" height="17.4" fill="#90466e"/>
<rect x="139.64" y="835" width="0.44" height="17.4" fill="#90466e"/>
<rect x="140.45" y="835" width="0.44" height="17.4" fill="#90466e"/>
<rect x="141.25" y="835" width="0.44" height="17.4" fill="#90466e"/>
<rect x="64.6" y="854.78" width="326" height="17.4" fill="#f0f0f0"/>
<rect x="73.45" y="854.78" width="2.41" height="17.4" fill="#d2bbc8"/>
<rect x="73.64" y="854.78" width="0.44" height="17.4" fill="#90466e"/>
<rect x="74.44" y="854.78" width="0.44" height="17.4" fill="#90466e"/>
<rect x="75.25" y="854.78" width="0.44" height="17.4" fill="#90466e"/>
<rect x="141.07" y="854.78" width="5.63" height="17.4" fill="#d2bbc8"/>
<rect x="141.25" y="854.78" width="0.44" height="17.4" fill="#90466e"/>
<rect x="142.06" y="854.78" width="0.44" height="17.4" fill="#90466e"/>
<rect x="142.86" y="854.78" width="0.44" height="17.4" fill="#90466e"/>
<rect x="143.67" y="854.78" width="0.44" height="17.4" fill="#90466e"/>
<rect x="144.47" y="854.78" width="0.44" height="17.4" fill="#90466e"/>
<rect x="145.27" y="854.78" width="0.44" height="17.4" fill="#90466e"/>
<rect x="146.08" y="854.78" width="0.44" height="17.4" fill="#90466e"/>
<rect x="64.6" y="874.56" width="326" height="17.4" fill="#f0f0f0"/>
<rect x="73.15" y="874.56" width="1.5" height="17.4" fill="#a06283"/>
<rect x="76.29" y="874.56" width="1.12" height="17.4" fill="#c8a9ba"/>
<rect x="119.42" y="874.56" width="1.35" height="17.4" fill="#a06283"/>
<rect x="132.16" y="874.56" width="0.98" height="17.4" fill="#c8a9ba"/>
<rect x="141.28" y="874.56" width="1.05" height="17.4" fill="#c8a9ba"/>
<rect x="145.9" y="874.56" width="3.22" height="17.4" fill="#d2bbc8"/>
<rect x="146.08" y="874.56" width="0.44" height="17.4" fill="#90466e"/>
<rect x="146.88" y="874.56" width="0.44" height="17.4" fill="#90466e"/>
<rect x="147.69" y="874.56" width="0.44" height="17.4" fill="#90466e"/>
<rect x="148.49" y="874.56" width="0.44" height="17.4" fill="#90466e"/>
<rect x="64.6" y="894.34" width="326" height="17.4" fill="#f0f0f0"/>
<rect x="70.41" y="894.34" width="1.28" height="17.4" fill="#c8a9ba"/>
<rect x="74.32" y="894.34" width="1.35" height="17.4" fill="#c8a9ba"/>
<rect x="105.34" y="894.34" width="1.43" height="17.4" fill="#a06283"/>
<rect x="120.9" y="894.34" width="0.9" height="17.4" fill="#cbafbe"/>
<rect x="132.21" y="894.34" width="4.02" height="17.4" fill="#d2bbc8"/>
<rect x="132.4" y="894.34" width="0.44" height="17.4" fill="#90466e"/>
<rect x="133.2" y="894.34" width="0.44" height="17.4" fill="#90466e"/>
<rect x="134.01" y="894.34" width="0.44" height="17.4" fill="#90466e"/>
<rect x="134.81" y="894.34" width="0.44" height="17.4" fill="#90466e"/>
<rect x="135.62" y="894.34" width="0.44" height="17.4" fill="#90466e"/>
<rect x="149.05" y="894.34" width="0.9" height="17.4" fill="#ad7995"/>
<rect x="64.6" y="914.12" width="326" height="17.4" fill="#f0f0f0"/>
<rect x="66.06" y="914.12" width="0.97" height="17.4" fill="#c8a9ba"/>
<rect x="77.34" y="914.12" width="1.43" height="17.4" fill="#a06283"/>
<rect x="137.35" y="914.12" width="0.9" height="17.4" fill="#c8a9ba"/>
<rect x="141.28" y="914.12" width="1.05" height="17.4" fill="#c8a9ba"/>
<rect x="149.92" y="914.12" width="4.02" height="17.4" fill="#d2bbc8"/>
<rect x="150.1" y="914.12" width="0.44" height="17.4" fill="#90466e"/>
<rect x="150.91" y="914.12" width="0.44" height="17.4" fill="#90466e"/>
<rect x="151.71" y="914.12" width="0.44" height="17.4" fill="#90466e"/>
<rect x="152.52" y="914.12" width="0.44" height="17.4" fill="#90466e"/>
<rect x="153.32" y="914.12" width="0.44" height="17.4" fill="#90466e"/>
<rect x="64.6" y="933.9" width="326" height="17.4" fill="#f0f0f0"/>
<rect x="71.17" y="933.9" width="1.05" height="17.4" fill="#c8a9ba"/>
<rect x="78.95" y="933.9" width="0.9" height="17.4" fill="#a06283"/>
<rect x="117.31" y="933.9" width="1.28" height="17.4" fill="#c8a9ba"/>
<rect x="153.95" y="933.9" width="4.83" height="17.4" fill="#d2bbc8"/>
<rect x="154.13" y="933.9" width="0.44" height="17.4" fill="#90466e"/>
<rect x="154.93" y="933.9" width="0.44" height="17.4" fill="#90466e"/>
<rect x="155.74" y="933.9" width="0.44" height="17.4" fill="#90466e"/>
<rect x="156.54" y="933.9" width="0.44" height="17.4" fill="#90466e"/>
<rect x="157.35" y="933.9" width="0.44" height="17.4" fill="#90466e"/>
<rect x="158.15" y="933.9" width="0.44" height="17.4" fill="#90466e"/>
<rect x="64.6" y="953.68" width="326" height="17.4" fill="#f0f0f0"/>
<rect x="64.05" y="953.68" width="0.9" height="17.4" fill="#d5c1cc"/>
<rect x="104.85" y="953.68" width="4.02" height="17.4" fill="#d2bbc8"/>
<rect x="105.03" y="953.68" width="0.44" height="17.4" fill="#90466e"/>
<rect x="105.83" y="953.68" width="0.44" height="17.4" fill="#90466e"/>
<rect x="106.64" y="953.68" width="0.44" height="17.4" fill="#90466e"/>
<rect x="107.44" y="953.68" width="0.44" height="17.4" fill="#90466e"/>
<rect x="108.25" y="953.68" width="0.44" height="17.4" fill="#90466e"/>
<rect x="111.24" y="953.68" width="1.43" height="17.4" fill="#a06283"/>
<rect x="64.6" y="973.46" width="326" height="17.4" fill="#f0f0f0"/>
<rect x="65.32" y="973.46" width="1.35" height="17.4" fill="#a2c6a2"/>
<rect x="121.65" y="973.46" width="0.9" height="17.4" fill="#c9dbc9"/>
<rect x="158.78" y="973.46" width="4.02" height="17.4" fill="#b6d1b6"/>
<rect x="158.96" y="973.46" width="0.44" height="17.4" fill="#348c34"/>
<rect x="159.76" y="973.46" width="0.44" height="17.4" fill="#348c34"/>
<rect x="160.57" y="973.46" width="0.44" height="17.4" fill="#348c34"/>
<rect x="161.37" y="973.46" width="0.44" height="17.4" fill="#348c34"/>
<rect x="162.18" y="973.46" width="0.44" height="17.4" fill="#348c34"/>
<rect x="64.6" y="993.24" width="326" height="17.4" fill="#f0f0f0"/>
<rect x="106.58" y="993.24" width="1.05" height="17.4" fill="#c8a9ba"/>
<rect x="118.15" y="993.24" width="0.9" height="17.4" fill="#c8a9ba"/>
<rect x="122.32" y="993.24" width="1.35" height="17.4" fill="#c8a9ba"/>
<rect x="163.34" y="993.24" width="1.43" height="17.4" fill="#a06283"/>
<rect x="64.6" y="1013.02" width="326" height="17.4" fill="#f0f0f0"/>
<rect x="65.32" y="1013.02" width="1.35" height="17.4" fill="#a2c6a2"/>
<rect x="121.65" y="1013.02" width="0.9" height="17.4" fill="#c9dbc9"/>
<rect x="158.78" y="1013.02" width="3.22" height="17.4" fill="#b6d1b6"/>
<rect x="158.96" y="1013.02" width="0.44" height="17.4" fill="#348c34"/>
<rect x="159.76" y="1013.02" width="0.44" height="17.4" fill="#348c34"/>
<rect x="160.57" y="1013.02" width="0.44" height="17.4" fill="#348c34"/>
<rect x="161.37" y="1013.02" width="0.44" height="17.4" fill="#348c34"/>
<rect x="64.6" y="1032.8" width="326" height="17.4" fill="#f0f0f0"/>
<rect x="79.42" y="1032.8" width="1.35" height="17.4" fill="#c8a9ba"/>
<rect x="109.05" y="1032.8" width="0.9" height="17.4" fill="#ad7995"/>
<rect x="123.25" y="1032.8" width="0.9" height="17.4" fill="#a06283"/>
<rect x="128.2" y="1032.8" width="1.2" height="17.4" fill="#c8a9ba"/>
<rect x="165.86" y="1032.8" width="0.98" height="17.4" fill="#a06283"/>
<rect x="64.6" y="1052.58" width="326" height="17.4" fill="#f0f0f0"/>
<rect x="73" y="1052.58" width="0.9" height="17.4" fill="#a76d8c"/>
<rect x="75.32" y="1052.58" width="1.35" height="17.4" fill="#dcccd5"/>
<rect x="122.32" y="1052.58" width="1.35" height="17.4" fill="#c8a9ba"/>
<rect x="162.96" y="1052.58" width="0.97" height="17.4" fill="#a06283"/>
<rect x="167.22" y="1052.58" width="1.35" height="17.4" fill="#a06283"/>
<rect x="64.6" y="1072.36" width="326" height="17.4" fill="#f0f0f0"/>
<rect x="67.42" y="1072.36" width="1.35" height="17.4" fill="#a06283"/>
<rect x="70.2" y="1072.36" width="3.9" height="17.4" fill="#d2bbc7"/>
<rect x="64.6" y="1092.14" width="326" height="17.4" fill="#f0f0f0"/>
<rect x="66.2" y="1092.14" width="0.9" height="17.4" fill="#cbafbe"/>
<rect x="70.41" y="1092.14" width="1.28" height="17.4" fill="#c8a9ba"/>
<rect x="74" y="1092.14" width="0.9" height="17.4" fill="#b4859e"/>
<rect x="78.95" y="1092.14" width="0.9" height="17.4" fill="#a06283"/>
<rect x="168.9" y="1092.14" width="0.9" height="17.4" fill="#a76d8c"/>
<rect x="64.6" y="1111.92" width="326" height="17.4" fill="#f0f0f0"/>
<rect x="66.2" y="1111.92" width="0.9" height="17.4" fill="#cbafbe"/>
<rect x="70.41" y="1111.92" width="1.28" height="17.4" fill="#c8a9ba"/>
<rect x="78.95" y="1111.92" width="0.9" height="17.4" fill="#a06283"/>
<rect x="149.05" y="1111.92" width="0.9" height="17.4" fill="#ad7995"/>
<rect x="168.9" y="1111.92" width="0.9" height="17.4" fill="#a76d8c"/>
<rect x="64.6" y="1131.7" width="326" height="17.4" fill="#f0f0f0"/>
<rect x="109.1" y="1131.7" width="0.9" height="17.4" fill="#a76d8c"/>
<rect x="120.8" y="1131.7" width="0.9" height="17.4" fill="#a76d8c"/>
<rect x="149.7" y="1131.7" width="0.9" height="17.4" fill="#a76d8c"/>
<rect x="169.31" y="1131.7" width="1.28" height="17.4" fill="#c8a9ba"/>
<rect x="64.6" y="1151.48" width="326" height="17.4" fill="#f0f0f0"/>
<rect x="71.2" y="1151.48" width="0.9" height="17.4" fill="#cbafbe"/>
<rect x="154.34" y="1151.48" width="1.43" height="17.4" fill="#a06283"/>
<rect x="64.6" y="1171.26" width="326" height="17.4" fill="#f0f0f0"/>
<rect x="73" y="1171.26" width="0.9" height="17.4" fill="#b4859e"/>
<rect x="142.36" y="1171.26" width="0.98" height="17.4" fill="#c8a9ba"/>
<rect x="170.41" y="1171.26" width="1.28" height="17.4" fill="#a06283"/>
<rect x="64.6" y="1191.04" width="326" height="17.4" fill="#f0f0f0"/>
<rect x="76.9" y="1191.04" width="0.9" height="17.4" fill="#b4859e"/>
<rect x="105.1" y="1191.04" width="0.9" height="17.4" fill="#b4859e"/>
<rect x="132.25" y="1191.04" width="0.9" height="17.4" fill="#a06283"/>
<rect x="172" y="1191.04" width="0.9" height="17.4" fill="#a76d8c"/>
<rect x="64.6" y="1210.82" width="326" height="17.4" fill="#f0f0f0"/>
<rect x="105.1" y="1210.82" width="0.9" height="17.4" fill="#b4859e"/>
<rect x="132.9" y="1210.82" width="0.9" height="17.4" fill="#b4859e"/>
<rect x="158.6" y="1210.82" width="0.9" height="17.4" fill="#cbafbe"/>
<rect x="172" y="1210.82" width="0.9" height="17.4" fill="#a76d8c"/>
<rect x="64.6" y="1230.6" width="326" height="17.4" fill="#f0f0f0"/>
<rect x="120.8" y="1230.6" width="0.9" height="17.4" fill="#a76d8c"/>
<rect x="132.25" y="1230.6" width="0.9" height="17.4" fill="#a06283"/>
<rect x="173.1" y="1230.6" width="0.9" height="17.4" fill="#a76d8c"/>
<rect x="64.6" y="1250.38" width="326" height="17.4" fill="#f0f0f0"/>
<rect x="66.34" y="1250.38" width="1.43" height="17.4" fill="#a06283"/>
<rect x="120.8" y="1250.38" width="0.9" height="17.4" fill="#a76d8c"/>
<text x="61.4" y="751.9" font-size="20.4" text-anchor="end">12%</text>
<text x="60.4" y="771.68" font-size="20.4" text-anchor="end">5%</text>
<text x="60.4" y="791.46" font-size="20.4" text-anchor="end">4%</text>
<text x="60.4" y="811.24" font-size="20.4" text-anchor="end">4%</text>
<text x="60.4" y="831.02" font-size="20.4" text-anchor="end">3%</text>
<text x="60.4" y="850.8" font-size="20.4" text-anchor="end">3%</text>
<text x="60.4" y="870.58" font-size="20.4" text-anchor="end">3%</text>
<text x="60.4" y="890.36" font-size="20.4" text-anchor="end">3%</text>
<text x="60.4" y="910.14" font-size="20.4" text-anchor="end">3%</text>
<text x="60.4" y="929.92" font-size="20.4" text-anchor="end">3%</text>
<text x="60.4" y="949.7" font-size="20.4" text-anchor="end">2%</text>
<text x="60.4" y="969.48" font-size="20.4" text-anchor="end">2%</text>
<text x="60.4" y="989.26" font-size="20.4" text-anchor="end">2%</text>
<text x="60.4" y="1009.04" font-size="20.4" text-anchor="end">2%</text>
<text x="60.4" y="1028.82" font-size="20.4" text-anchor="end">2%</text>
<text x="60.4" y="1048.6" font-size="20.4" text-anchor="end">2%</text>
<text x="60.4" y="1068.38" font-size="20.4" text-anchor="end">2%</text>
<text x="60.4" y="1088.16" font-size="20.4" text-anchor="end">1%</text>
<text x="60.4" y="1107.94" font-size="20.4" text-anchor="end">1%</text>
<text x="60.4" y="1127.72" font-size="20.4" text-anchor="end">1%</text>
<text x="60.4" y="1147.5" font-size="20.4" text-anchor="end">1%</text>
<text x="60.4" y="1167.28" font-size="20.4" text-anchor="end">1%</text>
<text x="60.4" y="1187.06" font-size="20.4" text-anchor="end">1%</text>
<text x="60.4" y="1206.84" font-size="20.4" text-anchor="end">1%</text>
<text x="60.4" y="1226.62" font-size="20.4" text-anchor="end">1%</text>
<text x="60.4" y="1246.4" font-size="20.4" text-anchor="end">1%</text>
<text x="60.4" y="1266.18" font-size="20.4" text-anchor="end">1%</text>
<text x="396.7" y="753.8" font-size="20.8" text-anchor="start" font-style="italic">EGFR</text>
<text x="396.7" y="773.58" font-size="20.8" text-anchor="start" font-style="italic">MDM2</text>
<text x="396.7" y="793.36" font-size="20.8" text-anchor="start" font-style="italic">MYC</text>
<text x="396.7" y="813.14" font-size="20.8" text-anchor="start" font-style="italic">CDK4</text>
<text x="396.7" y="832.92" font-size="20.8" text-anchor="start" font-style="italic">NKX2−1</text>
<text x="396.7" y="852.7" font-size="20.8" text-anchor="start" font-style="italic">FOXA1</text>
<text x="396.7" y="872.48" font-size="20.8" text-anchor="start" font-style="italic">CCNE1</text>
<text x="396.7" y="892.26" font-size="20.8" text-anchor="start" font-style="italic">MCL1</text>
<text x="396.7" y="912.04" font-size="20.8" text-anchor="start" font-style="italic">NFKBIA</text>
<text x="396.7" y="931.82" font-size="20.8" text-anchor="start" font-style="italic">SDHA</text>
<text x="396.7" y="951.6" font-size="20.8" text-anchor="start" font-style="italic">ERBB2</text>
<text x="396.7" y="971.38" font-size="20.8" text-anchor="start" font-style="italic">IFNG</text>
<text x="396.7" y="991.16" font-size="20.8" text-anchor="start" font-style="italic">CDKN2B</text>
<text x="396.7" y="1010.94" font-size="20.8" text-anchor="start" font-style="italic">CCND1</text>
<text x="396.7" y="1030.72" font-size="20.8" text-anchor="start" font-style="italic">CDKN2A</text>
<text x="396.7" y="1050.5" font-size="20.8" text-anchor="start" font-style="italic">KRAS</text>
<text x="396.7" y="1070.28" font-size="20.8" text-anchor="start" font-style="italic">MET</text>
<text x="396.7" y="1090.06" font-size="20.8" text-anchor="start" font-style="italic">IKZF1</text>
<text x="396.7" y="1109.84" font-size="20.8" text-anchor="start" font-style="italic">PMS2</text>
<text x="396.7" y="1129.62" font-size="20.8" text-anchor="start" font-style="italic">RAC1</text>
<text x="396.7" y="1149.4" font-size="20.8" text-anchor="start" font-style="italic">ARAF</text>
<text x="396.7" y="1169.18" font-size="20.8" text-anchor="start" font-style="italic">CDK12</text>
<text x="396.7" y="1188.96" font-size="20.8" text-anchor="start" font-style="italic">CEBPA</text>
<text x="396.7" y="1208.74" font-size="20.8" text-anchor="start" font-style="italic">IL7R</text>
<text x="396.7" y="1228.52" font-size="20.8" text-anchor="start" font-style="italic">RICTOR</text>
<text x="396.7" y="1248.3" font-size="20.8" text-anchor="start" font-style="italic">TERC</text>
<text x="396.7" y="1268.08" font-size="20.8" text-anchor="start" font-style="italic">EXT1</text>
<rect x="132.07" y="642.34" width="1.49" height="87.36" fill="#b4829d"/>
<rect x="120.9" y="664.18" width="0.97" height="65.52" fill="#b4829d"/>
<rect x="66.17" y="675.1" width="1.34" height="54.6" fill="#b4829d"/>
<rect x="78.83" y="675.1" width="1.12" height="54.6" fill="#b4829d"/>
<rect x="132.81" y="686.02" width="1.12" height="43.68" fill="#8c3e68"/>
<rect x="70.26" y="691.48" width="1.49" height="38.22" fill="#b4829d"/>
<rect x="105.04" y="691.48" width="1.34" height="38.22" fill="#b4829d"/>
<rect x="142.12" y="691.48" width="1.12" height="38.22" fill="#b4829d"/>
<rect x="169.67" y="691.48" width="1.49" height="38.22" fill="#b4829d"/>
<rect x="71.01" y="696.94" width="1.49" height="32.76" fill="#8c3e68"/>
<rect x="72.5" y="696.94" width="1.12" height="32.76" fill="#b4829d"/>
<rect x="73.62" y="702.4" width="1.34" height="27.3" fill="#8c3e68"/>
<rect x="133.93" y="702.4" width="1.12" height="27.3" fill="#8c3e68"/>
<rect x="145.84" y="702.4" width="1.86" height="27.3" fill="#b4829d"/>
<rect x="154.4" y="702.4" width="1.49" height="27.3" fill="#b4829d"/>
<rect x="158.5" y="702.4" width="1.12" height="27.3" fill="#8c3e68"/>
<rect x="64.68" y="707.86" width="1.49" height="21.84" fill="#8c3e68"/>
<rect x="66.54" y="707.86" width="1.49" height="21.84" fill="#8c3e68"/>
<rect x="72.13" y="707.86" width="2.38" height="21.84" fill="#8c3e68"/>
<rect x="74.51" y="707.86" width="1.71" height="21.84" fill="#8c3e68"/>
<rect x="105.63" y="707.86" width="1.49" height="21.84" fill="#8c3e68"/>
<rect x="108.61" y="707.86" width="1.49" height="21.84" fill="#8c3e68"/>
<rect x="117.17" y="707.86" width="1.49" height="21.84" fill="#b4829d"/>
<rect x="180.09" y="707.86" width="1.12" height="21.84" fill="#b4829d"/>
<rect x="68.03" y="713.32" width="0.74" height="16.38" fill="#8c3e68"/>
<rect x="76.97" y="713.32" width="1.12" height="16.38" fill="#b4829d"/>
<rect x="104.52" y="713.32" width="0.74" height="16.38" fill="#8c3e68"/>
<rect x="107.12" y="713.32" width="1.49" height="16.38" fill="#b4829d"/>
<rect x="117.92" y="713.32" width="1.12" height="16.38" fill="#8c3e68"/>
<rect x="122.91" y="713.32" width="0.97" height="16.38" fill="#8c3e68"/>
<rect x="141.37" y="713.32" width="1.12" height="16.38" fill="#8c3e68"/>
<rect x="149.56" y="713.32" width="1.12" height="16.38" fill="#b4829d"/>
<rect x="159.62" y="713.32" width="1.12" height="16.38" fill="#8c3e68"/>
<rect x="168.92" y="713.32" width="1.12" height="16.38" fill="#8c3e68"/>
<rect x="171.9" y="713.32" width="1.12" height="16.38" fill="#b4829d"/>
<rect x="184.93" y="713.32" width="1.12" height="16.38" fill="#b4829d"/>
<rect x="68.78" y="718.78" width="1.86" height="10.92" fill="#8c3e68"/>
<rect x="76.22" y="718.78" width="0.74" height="10.92" fill="#8c3e68"/>
<rect x="78.08" y="718.78" width="0.74" height="10.92" fill="#8c3e68"/>
<rect x="79.57" y="718.78" width="1.49" height="10.92" fill="#8c3e68"/>
<rect x="100.05" y="718.78" width="1.12" height="10.92" fill="#8c3e68"/>
<rect x="110.1" y="718.78" width="2.23" height="10.92" fill="#8c3e68"/>
<rect x="118.66" y="718.78" width="2.23" height="10.92" fill="#8c3e68"/>
<rect x="121.64" y="718.78" width="1.27" height="10.92" fill="#8c3e68"/>
<rect x="123.88" y="718.78" width="1.86" height="10.92" fill="#8c3e68"/>
<rect x="127.6" y="718.78" width="1.49" height="10.92" fill="#8c3e68"/>
<rect x="135.04" y="718.78" width="0.74" height="10.92" fill="#8c3e68"/>
<rect x="135.79" y="718.78" width="2.98" height="10.92" fill="#b4829d"/>
<rect x="149.19" y="718.78" width="0.74" height="10.92" fill="#8c3e68"/>
<rect x="154.03" y="718.78" width="1.12" height="10.92" fill="#8c3e68"/>
<rect x="160.36" y="718.78" width="1.86" height="10.92" fill="#8c3e68"/>
<rect x="162.59" y="718.78" width="1.86" height="10.92" fill="#8c3e68"/>
<rect x="177.11" y="718.78" width="1.86" height="10.92" fill="#8c3e68"/>
<rect x="81.06" y="724.24" width="18.99" height="5.46" fill="#8c3e68"/>
<rect x="101.17" y="724.24" width="3.35" height="5.46" fill="#8c3e68"/>
<rect x="112.33" y="724.24" width="5.21" height="5.46" fill="#8c3e68"/>
<rect x="125.74" y="724.24" width="1.86" height="5.46" fill="#8c3e68"/>
<rect x="129.09" y="724.24" width="2.98" height="5.46" fill="#8c3e68"/>
<rect x="138.77" y="724.24" width="2.61" height="5.46" fill="#8c3e68"/>
<rect x="143.24" y="724.24" width="2.61" height="5.46" fill="#8c3e68"/>
<rect x="147.7" y="724.24" width="1.49" height="5.46" fill="#8c3e68"/>
<rect x="150.68" y="724.24" width="3.35" height="5.46" fill="#8c3e68"/>
<rect x="155.89" y="724.24" width="2.98" height="5.46" fill="#8c3e68"/>
<rect x="164.46" y="724.24" width="4.47" height="5.46" fill="#8c3e68"/>
<rect x="171.16" y="724.24" width="0.74" height="5.46" fill="#8c3e68"/>
<rect x="173.02" y="724.24" width="4.1" height="5.46" fill="#8c3e68"/>
<rect x="178.98" y="724.24" width="1.12" height="5.46" fill="#8c3e68"/>
<rect x="181.21" y="724.24" width="3.72" height="5.46" fill="#8c3e68"/>
<rect x="186.05" y="724.24" width="0.74" height="5.46" fill="#8c3e68"/>
<rect x="64.68" y="724.24" width="122.11" height="5.46" fill="#8c3e68"/>
<rect x="65.05" y="696.94" width="1.49" height="10.92" fill="#2c872c"/>
<rect x="121.64" y="707.86" width="1.27" height="10.92" fill="#2c872c"/>
<rect x="133.93" y="696.94" width="1.12" height="5.46" fill="#2c872c"/>
<rect x="158.5" y="691.48" width="1.12" height="10.92" fill="#2c872c"/>
<rect x="159.99" y="718.78" width="2.23" height="10.92" fill="#2c872c"/>
<rect x="160.36" y="707.86" width="1.86" height="10.92" fill="#2c872c"/>
<rect x="161.85" y="696.94" width="1.12" height="21.84" fill="#2c872c"/>
<line x1="64.7" y1="647.15" x2="64.7" y2="730.35" stroke="#000" stroke-width="1.35"/>
<line x1="60.3" y1="729.7" x2="64.7" y2="729.7" stroke="#000" stroke-width="1.35"/>
<text x="57.4" y="731.97" font-size="14.2" text-anchor="end">0</text>
<line x1="60.3" y1="702.4" x2="64.7" y2="702.4" stroke="#000" stroke-width="1.35"/>
<text x="57.4" y="707.57" font-size="14.2" text-anchor="end">5</text>
<line x1="60.3" y1="675.1" x2="64.7" y2="675.1" stroke="#000" stroke-width="1.35"/>
<text x="57.4" y="680.47" font-size="14.2" text-anchor="end">10</text>
<line x1="60.3" y1="647.8" x2="64.7" y2="647.8" stroke="#000" stroke-width="1.35"/>
<text x="57.4" y="652.87" font-size="14.2" text-anchor="end">15</text>
<text x="146.5" y="682.9" font-size="29" text-anchor="start" letter-spacing="0.3">LSLT-noBM</text>
<rect x="535.2" y="734" width="337.1" height="18" fill="url(#bgbm)"/>
<rect x="535.2" y="734" width="49.6" height="18" fill="#d4beca"/>
<rect x="535.55" y="734" width="1.06" height="18" fill="#9b597d"/>
<rect x="537.33" y="734" width="1.06" height="18" fill="#9b597d"/>
<rect x="539.1" y="734" width="1.06" height="18" fill="#9b597d"/>
<rect x="540.87" y="734" width="1.06" height="18" fill="#9b597d"/>
<rect x="542.64" y="734" width="1.06" height="18" fill="#9b597d"/>
<rect x="544.41" y="734" width="1.06" height="18" fill="#9b597d"/>
<rect x="546.18" y="734" width="1.06" height="18" fill="#9b597d"/>
<rect x="547.96" y="734" width="1.06" height="18" fill="#9b597d"/>
<rect x="549.73" y="734" width="1.06" height="18" fill="#9b597d"/>
<rect x="551.5" y="734" width="1.06" height="18" fill="#9b597d"/>
<rect x="553.27" y="734" width="1.06" height="18" fill="#9b597d"/>
<rect x="555.04" y="734" width="1.06" height="18" fill="#9b597d"/>
<rect x="556.81" y="734" width="1.06" height="18" fill="#9b597d"/>
<rect x="558.58" y="734" width="1.06" height="18" fill="#9b597d"/>
<rect x="560.36" y="734" width="1.06" height="18" fill="#9b597d"/>
<rect x="562.13" y="734" width="1.06" height="18" fill="#9b597d"/>
<rect x="563.9" y="734" width="1.06" height="18" fill="#9b597d"/>
<rect x="565.67" y="734" width="1.06" height="18" fill="#9b597d"/>
<rect x="567.44" y="734" width="1.06" height="18" fill="#9b597d"/>
<rect x="569.21" y="734" width="1.06" height="18" fill="#9b597d"/>
<rect x="570.99" y="734" width="1.06" height="18" fill="#9b597d"/>
<rect x="572.76" y="734" width="1.06" height="18" fill="#9b597d"/>
<rect x="574.53" y="734" width="1.06" height="18" fill="#9b597d"/>
<rect x="576.3" y="734" width="1.06" height="18" fill="#9b597d"/>
<rect x="578.07" y="734" width="1.06" height="18" fill="#9b597d"/>
<rect x="579.84" y="734" width="1.06" height="18" fill="#9b597d"/>
<rect x="581.62" y="734" width="1.06" height="18" fill="#9b597d"/>
<rect x="583.39" y="734" width="1.06" height="18" fill="#9b597d"/>
<rect x="535.2" y="754.11" width="337.1" height="18" fill="url(#bgbm)"/>
<rect x="535.2" y="754.11" width="5.31" height="18" fill="#d4beca"/>
<rect x="535.55" y="754.11" width="1.06" height="18" fill="#9b597d"/>
<rect x="537.33" y="754.11" width="1.06" height="18" fill="#9b597d"/>
<rect x="539.1" y="754.11" width="1.06" height="18" fill="#9b597d"/>
<rect x="586.58" y="754.11" width="23.03" height="18" fill="#d4beca"/>
<rect x="586.93" y="754.11" width="1.06" height="18" fill="#9b597d"/>
<rect x="588.7" y="754.11" width="1.06" height="18" fill="#9b597d"/>
<rect x="590.47" y="754.11" width="1.06" height="18" fill="#9b597d"/>
<rect x="592.24" y="754.11" width="1.06" height="18" fill="#9b597d"/>
<rect x="594.02" y="754.11" width="1.06" height="18" fill="#9b597d"/>
<rect x="595.79" y="754.11" width="1.06" height="18" fill="#9b597d"/>
<rect x="597.56" y="754.11" width="1.06" height="18" fill="#9b597d"/>
<rect x="599.33" y="754.11" width="1.06" height="18" fill="#9b597d"/>
<rect x="601.1" y="754.11" width="1.06" height="18" fill="#9b597d"/>
<rect x="602.87" y="754.11" width="1.06" height="18" fill="#9b597d"/>
<rect x="604.65" y="754.11" width="1.06" height="18" fill="#9b597d"/>
<rect x="606.42" y="754.11" width="1.06" height="18" fill="#9b597d"/>
<rect x="608.19" y="754.11" width="1.06" height="18" fill="#9b597d"/>
<rect x="535.2" y="774.21" width="337.1" height="18" fill="url(#bgbm)"/>
<rect x="535" y="774.21" width="3.8" height="18" fill="#d0b7c4"/>
<rect x="541.15" y="774.21" width="0.9" height="18" fill="#8c3e68"/>
<rect x="586.58" y="774.21" width="1.77" height="18" fill="#d4beca"/>
<rect x="586.93" y="774.21" width="1.06" height="18" fill="#9b597d"/>
<rect x="609.05" y="774.21" width="0.9" height="18" fill="#975277"/>
<rect x="611.38" y="774.21" width="7.09" height="18" fill="#d4beca"/>
<rect x="611.73" y="774.21" width="1.06" height="18" fill="#9b597d"/>
<rect x="613.5" y="774.21" width="1.06" height="18" fill="#9b597d"/>
<rect x="615.28" y="774.21" width="1.06" height="18" fill="#9b597d"/>
<rect x="617.05" y="774.21" width="1.06" height="18" fill="#9b597d"/>
<rect x="535.2" y="794.32" width="337.1" height="18" fill="url(#bgbm)"/>
<rect x="535" y="794.32" width="3.8" height="18" fill="#d0b7c4"/>
<rect x="586.58" y="794.32" width="1.77" height="18" fill="#d4beca"/>
<rect x="586.93" y="794.32" width="1.06" height="18" fill="#9b597d"/>
<rect x="609.05" y="794.32" width="0.9" height="18" fill="#975277"/>
<rect x="611.38" y="794.32" width="7.09" height="18" fill="#d4beca"/>
<rect x="611.73" y="794.32" width="1.06" height="18" fill="#9b597d"/>
<rect x="613.5" y="794.32" width="1.06" height="18" fill="#9b597d"/>
<rect x="615.28" y="794.32" width="1.06" height="18" fill="#9b597d"/>
<rect x="617.05" y="794.32" width="1.06" height="18" fill="#9b597d"/>
<rect x="535.2" y="814.42" width="337.1" height="18" fill="url(#bgbm)"/>
<rect x="542.29" y="814.42" width="5.31" height="18" fill="#d4beca"/>
<rect x="542.64" y="814.42" width="1.06" height="18" fill="#9b597d"/>
<rect x="544.41" y="814.42" width="1.06" height="18" fill="#9b597d"/>
<rect x="546.18" y="814.42" width="1.06" height="18" fill="#9b597d"/>
<rect x="589.4" y="814.42" width="1.2" height="18" fill="#8c3e68"/>
<rect x="618.46" y="814.42" width="5.31" height="18" fill="#d4beca"/>
<rect x="618.82" y="814.42" width="1.06" height="18" fill="#9b597d"/>
<rect x="620.59" y="814.42" width="1.06" height="18" fill="#9b597d"/>
<rect x="622.36" y="814.42" width="1.06" height="18" fill="#9b597d"/>
<rect x="535.2" y="834.52" width="337.1" height="18" fill="url(#bgbm)"/>
<rect x="535.25" y="834.52" width="1.5" height="18" fill="#8c3e68"/>
<rect x="548.15" y="834.52" width="0.9" height="18" fill="#8c3e68"/>
<rect x="550" y="834.52" width="0.9" height="18" fill="#a06283"/>
<rect x="586" y="834.52" width="0.9" height="18" fill="#a06283"/>
<rect x="623.78" y="834.52" width="3.54" height="18" fill="#d4beca"/>
<rect x="624.13" y="834.52" width="1.06" height="18" fill="#9b597d"/>
<rect x="625.9" y="834.52" width="1.06" height="18" fill="#9b597d"/>
<rect x="535.2" y="854.63" width="337.1" height="18" fill="url(#bgbm)"/>
<rect x="536.97" y="854.63" width="3.54" height="18" fill="#d4beca"/>
<rect x="537.33" y="854.63" width="1.06" height="18" fill="#9b597d"/>
<rect x="539.1" y="854.63" width="1.06" height="18" fill="#9b597d"/>
<rect x="548.15" y="854.63" width="0.9" height="18" fill="#8c3e68"/>
<rect x="629.09" y="854.63" width="7.09" height="18" fill="#d4beca"/>
<rect x="629.45" y="854.63" width="1.06" height="18" fill="#9b597d"/>
<rect x="631.22" y="854.63" width="1.06" height="18" fill="#9b597d"/>
<rect x="632.99" y="854.63" width="1.06" height="18" fill="#9b597d"/>
<rect x="634.76" y="854.63" width="1.06" height="18" fill="#9b597d"/>
<rect x="535.2" y="874.74" width="337.1" height="18" fill="url(#bgbm)"/>
<rect x="539.2" y="874.74" width="1.2" height="18" fill="#8c3e68"/>
<rect x="548.15" y="874.74" width="0.9" height="18" fill="#8c3e68"/>
<rect x="591.35" y="874.74" width="0.9" height="18" fill="#8c3e68"/>
<rect x="609.05" y="874.74" width="0.9" height="18" fill="#975277"/>
<rect x="618.15" y="874.74" width="0.9" height="18" fill="#8c3e68"/>
<rect x="636" y="874.74" width="0.9" height="18" fill="#8e426b"/>
<rect x="637.95" y="874.74" width="0.9" height="18" fill="#975277"/>
<rect x="535.2" y="894.84" width="337.1" height="18" fill="url(#bgbm)"/>
<rect x="537.23" y="894.84" width="1.35" height="18" fill="#c5a4b6"/>
<rect x="586" y="894.84" width="0.9" height="18" fill="#a06283"/>
<rect x="611.38" y="894.84" width="1.77" height="18" fill="#d4beca"/>
<rect x="611.73" y="894.84" width="1.06" height="18" fill="#9b597d"/>
<rect x="639.72" y="894.84" width="3.54" height="18" fill="#d4beca"/>
<rect x="640.08" y="894.84" width="1.06" height="18" fill="#9b597d"/>
<rect x="641.85" y="894.84" width="1.06" height="18" fill="#9b597d"/>
<rect x="535.2" y="914.94" width="337.1" height="18" fill="url(#bgbm)"/>
<rect x="548.15" y="914.94" width="0.9" height="18" fill="#2c872c"/>
<rect x="593.05" y="914.94" width="0.9" height="18" fill="#429342"/>
<rect x="614.34" y="914.94" width="1.42" height="18" fill="#9cc39c"/>
<rect x="643.27" y="914.94" width="5.31" height="18" fill="#b9d3b9"/>
<rect x="643.62" y="914.94" width="1.06" height="18" fill="#4a974a"/>
<rect x="645.39" y="914.94" width="1.06" height="18" fill="#4a974a"/>
<rect x="647.16" y="914.94" width="1.06" height="18" fill="#4a974a"/>
<rect x="535.2" y="935.05" width="337.1" height="18" fill="url(#bgbm)"/>
<rect x="539.2" y="935.05" width="1.2" height="18" fill="#8c3e68"/>
<rect x="586" y="935.05" width="0.9" height="18" fill="#a06283"/>
<rect x="643.07" y="935.05" width="1.05" height="18" fill="#8c3e68"/>
<rect x="648.2" y="935.05" width="3.7" height="18" fill="#d0b7c4"/>
<rect x="535.2" y="955.15" width="337.1" height="18" fill="url(#bgbm)"/>
<rect x="548.15" y="955.15" width="0.9" height="18" fill="#2c872c"/>
<rect x="593.1" y="955.15" width="0.9" height="18" fill="#308930"/>
<rect x="614.34" y="955.15" width="1.42" height="18" fill="#9cc39c"/>
<rect x="643.27" y="955.15" width="1.77" height="18" fill="#b9d3b9"/>
<rect x="643.62" y="955.15" width="1.06" height="18" fill="#4a974a"/>
<rect x="535.2" y="975.26" width="337.1" height="18" fill="url(#bgbm)"/>
<rect x="535.25" y="975.26" width="1.5" height="18" fill="#8c3e68"/>
<rect x="549.37" y="975.26" width="3.54" height="18" fill="#d4beca"/>
<rect x="549.73" y="975.26" width="1.06" height="18" fill="#9b597d"/>
<rect x="551.5" y="975.26" width="1.06" height="18" fill="#9b597d"/>
<rect x="586" y="975.26" width="0.9" height="18" fill="#a06283"/>
<rect x="623.34" y="975.26" width="1.42" height="18" fill="#c5a4b6"/>
<rect x="535.2" y="995.37" width="337.1" height="18" fill="url(#bgbm)"/>
<rect x="589.24" y="995.37" width="1.42" height="18" fill="#c5a4b6"/>
<rect x="594.95" y="995.37" width="0.9" height="18" fill="#8c3e68"/>
<rect x="618.46" y="995.37" width="1.77" height="18" fill="#d4beca"/>
<rect x="618.82" y="995.37" width="1.06" height="18" fill="#9b597d"/>
<rect x="535.2" y="1015.47" width="337.1" height="18" fill="url(#bgbm)"/>
<rect x="542.29" y="1015.47" width="3.54" height="18" fill="#d4beca"/>
<rect x="542.64" y="1015.47" width="1.06" height="18" fill="#9b597d"/>
<rect x="544.41" y="1015.47" width="1.06" height="18" fill="#9b597d"/>
<rect x="594.95" y="1015.47" width="0.9" height="18" fill="#8c3e68"/>
<rect x="620.05" y="1015.47" width="0.9" height="18" fill="#975277"/>
<rect x="535.2" y="1035.58" width="337.1" height="18" fill="url(#bgbm)"/>
<rect x="596.2" y="1035.58" width="3.6" height="18" fill="#d0b7c4"/>
<rect x="652.12" y="1035.58" width="3.54" height="18" fill="#d4beca"/>
<rect x="652.48" y="1035.58" width="1.06" height="18" fill="#9b597d"/>
<rect x="654.25" y="1035.58" width="1.06" height="18" fill="#9b597d"/>
<rect x="535.2" y="1055.68" width="337.1" height="18" fill="url(#bgbm)"/>
<rect x="539.27" y="1055.68" width="1.05" height="18" fill="#8c3e68"/>
<rect x="608.95" y="1055.68" width="0.9" height="18" fill="#975277"/>
<rect x="625.4" y="1055.68" width="1.2" height="18" fill="#8c3e68"/>
<rect x="636" y="1055.68" width="0.9" height="18" fill="#a06283"/>
<rect x="535.2" y="1075.79" width="337.1" height="18" fill="url(#bgbm)"/>
<rect x="535" y="1075.79" width="3.8" height="18" fill="#d0b7c4"/>
<rect x="585.95" y="1075.79" width="0.9" height="18" fill="#975277"/>
<rect x="535.2" y="1095.89" width="337.1" height="18" fill="url(#bgbm)"/>
<rect x="585.95" y="1095.89" width="0.9" height="18" fill="#975277"/>
<rect x="596.41" y="1095.89" width="1.27" height="18" fill="#8c3e68"/>
<rect x="614.41" y="1095.89" width="1.27" height="18" fill="#8c3e68"/>
<rect x="535.2" y="1115.99" width="337.1" height="18" fill="url(#bgbm)"/>
<rect x="608.95" y="1115.99" width="0.9" height="18" fill="#975277"/>
<rect x="625.4" y="1115.99" width="1.2" height="18" fill="#8c3e68"/>
<rect x="636" y="1115.99" width="0.9" height="18" fill="#a06283"/>
<rect x="535.2" y="1136.1" width="337.1" height="18" fill="url(#bgbm)"/>
<rect x="535.47" y="1136.1" width="1.05" height="18" fill="#8c3e68"/>
<rect x="585.95" y="1136.1" width="0.9" height="18" fill="#975277"/>
<rect x="655.95" y="1136.1" width="0.9" height="18" fill="#8c3e68"/>
<rect x="535.2" y="1156.2" width="337.1" height="18" fill="url(#bgbm)"/>
<rect x="628.95" y="1156.2" width="0.9" height="18" fill="#975277"/>
<rect x="648.47" y="1156.2" width="1.05" height="18" fill="#c5a4b6"/>
<rect x="535.2" y="1176.31" width="337.1" height="18" fill="url(#bgbm)"/>
<rect x="537.24" y="1176.31" width="1.42" height="18" fill="#c5a4b6"/>
<rect x="553.49" y="1176.31" width="1.12" height="18" fill="#8c3e68"/>
<rect x="535.2" y="1196.41" width="337.1" height="18" fill="url(#bgbm)"/>
<rect x="610.95" y="1196.41" width="0.9" height="18" fill="#975277"/>
<rect x="650.46" y="1196.41" width="0.98" height="18" fill="#8c3e68"/>
<rect x="535.2" y="1216.52" width="337.1" height="18" fill="url(#bgbm)"/>
<rect x="598.23" y="1216.52" width="1.35" height="18" fill="#c5a4b6"/>
<rect x="652.35" y="1216.52" width="0.9" height="18" fill="#8c3e68"/>
<rect x="535.2" y="1236.62" width="337.1" height="18" fill="url(#bgbm)"/>
<rect x="548" y="1236.62" width="0.9" height="18" fill="#a06283"/>
<rect x="623.3" y="1236.62" width="1.2" height="18" fill="#c5a4b6"/>
<rect x="535.2" y="1256.73" width="337.1" height="18" fill="url(#bgbm)"/>
<rect x="539.25" y="1256.73" width="0.9" height="18" fill="#975277"/>
<rect x="643.15" y="1256.73" width="0.9" height="18" fill="#8c3e68"/>
<text x="535.1" y="752.6" font-size="20.4" text-anchor="end">15%</text>
<text x="531.8" y="772.71" font-size="20.4" text-anchor="end">9%</text>
<text x="531.8" y="792.81" font-size="20.4" text-anchor="end">5%</text>
<text x="531.8" y="812.92" font-size="20.4" text-anchor="end">5%</text>
<text x="531.8" y="833.02" font-size="20.4" text-anchor="end">4%</text>
<text x="531.8" y="853.12" font-size="20.4" text-anchor="end">4%</text>
<text x="531.8" y="873.23" font-size="20.4" text-anchor="end">4%</text>
<text x="531.8" y="893.34" font-size="20.4" text-anchor="end">4%</text>
<text x="531.8" y="913.44" font-size="20.4" text-anchor="end">3%</text>
<text x="531.8" y="933.54" font-size="20.4" text-anchor="end">3%</text>
<text x="531.8" y="953.65" font-size="20.4" text-anchor="end">3%</text>
<text x="531.8" y="973.75" font-size="20.4" text-anchor="end">3%</text>
<text x="531.8" y="993.86" font-size="20.4" text-anchor="end">3%</text>
<text x="531.8" y="1013.97" font-size="20.4" text-anchor="end">2%</text>
<text x="531.8" y="1034.07" font-size="20.4" text-anchor="end">2%</text>
<text x="531.8" y="1054.17" font-size="20.4" text-anchor="end">2%</text>
<text x="531.8" y="1074.28" font-size="20.4" text-anchor="end">2%</text>
<text x="531.8" y="1094.38" font-size="20.4" text-anchor="end">2%</text>
<text x="531.8" y="1114.49" font-size="20.4" text-anchor="end">2%</text>
<text x="531.8" y="1134.59" font-size="20.4" text-anchor="end">2%</text>
<text x="531.8" y="1154.7" font-size="20.4" text-anchor="end">2%</text>
<text x="531.8" y="1174.8" font-size="20.4" text-anchor="end">1%</text>
<text x="531.8" y="1194.91" font-size="20.4" text-anchor="end">1%</text>
<text x="531.8" y="1215.01" font-size="20.4" text-anchor="end">1%</text>
<text x="531.8" y="1235.12" font-size="20.4" text-anchor="end">1%</text>
<text x="531.8" y="1255.22" font-size="20.4" text-anchor="end">1%</text>
<text x="531.8" y="1275.33" font-size="20.4" text-anchor="end">1%</text>
<text x="880.2" y="747.9" font-size="20.8" text-anchor="start" font-style="italic">EGFR</text>
<text x="880.2" y="768" font-size="20.8" text-anchor="start" font-style="italic">MYC</text>
<text x="880.2" y="788.11" font-size="20.8" text-anchor="start" font-style="italic">MDM2</text>
<text x="880.2" y="808.22" font-size="20.8" text-anchor="start" font-style="italic">IFNG</text>
<text x="880.2" y="828.32" font-size="20.8" text-anchor="start" font-style="italic">CEBPA</text>
<text x="880.2" y="848.42" font-size="20.8" text-anchor="start" font-style="italic">FOXA1</text>
<text x="880.2" y="868.53" font-size="20.8" text-anchor="start" font-style="italic">MET</text>
<text x="880.2" y="888.63" font-size="20.8" text-anchor="start" font-style="italic">SDHA</text>
<text x="880.2" y="908.74" font-size="20.8" text-anchor="start" font-style="italic">CDK4</text>
<text x="880.2" y="928.84" font-size="20.8" text-anchor="start" font-style="italic">CDKN2A</text>
<text x="880.2" y="948.95" font-size="20.8" text-anchor="start" font-style="italic">CCND1</text>
<text x="880.2" y="969.05" font-size="20.8" text-anchor="start" font-style="italic">CDKN2B</text>
<text x="880.2" y="989.16" font-size="20.8" text-anchor="start" font-style="italic">NKX2−1</text>
<text x="880.2" y="1009.26" font-size="20.8" text-anchor="start" font-style="italic">AKT2</text>
<text x="880.2" y="1029.37" font-size="20.8" text-anchor="start" font-style="italic">CCNE1</text>
<text x="880.2" y="1049.48" font-size="20.8" text-anchor="start" font-style="italic">ERBB2</text>
<text x="880.2" y="1069.58" font-size="20.8" text-anchor="start" font-style="italic">IL7R</text>
<text x="880.2" y="1089.69" font-size="20.8" text-anchor="start" font-style="italic">GRIN2A</text>
<text x="880.2" y="1109.79" font-size="20.8" text-anchor="start" font-style="italic">KRAS</text>
<text x="880.2" y="1129.89" font-size="20.8" text-anchor="start" font-style="italic">RICTOR</text>
<text x="880.2" y="1150" font-size="20.8" text-anchor="start" font-style="italic">SOCS1</text>
<text x="880.2" y="1170.11" font-size="20.8" text-anchor="start" font-style="italic">ATM</text>
<text x="880.2" y="1190.21" font-size="20.8" text-anchor="start" font-style="italic">AXIN1</text>
<text x="880.2" y="1210.32" font-size="20.8" text-anchor="start" font-style="italic">C11orf30</text>
<text x="880.2" y="1230.42" font-size="20.8" text-anchor="start" font-style="italic">CDK12</text>
<text x="880.2" y="1250.53" font-size="20.8" text-anchor="start" font-style="italic">FANCM</text>
<text x="880.2" y="1270.63" font-size="20.8" text-anchor="start" font-style="italic">FGF19</text>
<rect x="535.83" y="656.06" width="1.12" height="72.44" fill="#8c3e68"/>
<rect x="585.51" y="656.06" width="1.49" height="72.44" fill="#8c3e68"/>
<rect x="536.95" y="670.26" width="1.87" height="58.24" fill="#8c3e68"/>
<rect x="538.82" y="684.82" width="1.87" height="43.68" fill="#8c3e68"/>
<rect x="598.21" y="694.53" width="1.49" height="33.97" fill="#8c3e68"/>
<rect x="547.78" y="699.39" width="1.87" height="29.11" fill="#8c3e68"/>
<rect x="594.48" y="699.39" width="1.49" height="29.11" fill="#8c3e68"/>
<rect x="609.04" y="699.39" width="1.12" height="29.11" fill="#8c3e68"/>
<rect x="625.1" y="699.39" width="1.49" height="29.11" fill="#8c3e68"/>
<rect x="542.93" y="704.25" width="2.99" height="24.25" fill="#8c3e68"/>
<rect x="589.25" y="704.25" width="1.49" height="24.25" fill="#8c3e68"/>
<rect x="587.01" y="709.1" width="2.24" height="19.4" fill="#8c3e68"/>
<rect x="610.16" y="709.1" width="3.74" height="19.4" fill="#8c3e68"/>
<rect x="617.63" y="709.1" width="1.49" height="19.4" fill="#8c3e68"/>
<rect x="623.24" y="709.1" width="1.87" height="19.4" fill="#8c3e68"/>
<rect x="540.69" y="713.96" width="1.49" height="14.54" fill="#8c3e68"/>
<rect x="549.65" y="713.96" width="1.49" height="14.54" fill="#8c3e68"/>
<rect x="583.27" y="713.96" width="2.24" height="14.54" fill="#8c3e68"/>
<rect x="595.97" y="713.96" width="2.24" height="14.54" fill="#8c3e68"/>
<rect x="599.7" y="713.96" width="1.87" height="14.54" fill="#8c3e68"/>
<rect x="613.9" y="713.96" width="1.87" height="14.54" fill="#8c3e68"/>
<rect x="619.13" y="713.96" width="1.87" height="14.54" fill="#8c3e68"/>
<rect x="635.56" y="713.96" width="1.49" height="14.54" fill="#8c3e68"/>
<rect x="545.92" y="718.44" width="1.87" height="10.06" fill="#8c3e68"/>
<rect x="551.15" y="718.44" width="5.6" height="10.06" fill="#8c3e68"/>
<rect x="590.74" y="718.44" width="1.87" height="10.06" fill="#8c3e68"/>
<rect x="601.57" y="718.44" width="1.49" height="10.06" fill="#8c3e68"/>
<rect x="615.77" y="718.44" width="1.87" height="10.06" fill="#8c3e68"/>
<rect x="628.84" y="718.44" width="1.12" height="10.06" fill="#8c3e68"/>
<rect x="643.03" y="718.44" width="1.87" height="10.06" fill="#8c3e68"/>
<rect x="648.26" y="718.44" width="5.23" height="10.06" fill="#8c3e68"/>
<rect x="655.73" y="718.44" width="1.49" height="10.06" fill="#8c3e68"/>
<rect x="542.18" y="723.3" width="0.75" height="5.2" fill="#b4829d"/>
<rect x="556.75" y="723.3" width="26.52" height="5.2" fill="#8c3e68"/>
<rect x="592.61" y="723.3" width="1.49" height="5.2" fill="#8c3e68"/>
<rect x="603.07" y="723.3" width="5.98" height="5.2" fill="#8c3e68"/>
<rect x="621" y="723.3" width="2.24" height="5.2" fill="#8c3e68"/>
<rect x="626.6" y="723.3" width="2.24" height="5.2" fill="#8c3e68"/>
<rect x="629.96" y="723.3" width="5.6" height="5.2" fill="#8c3e68"/>
<rect x="637.06" y="723.3" width="5.98" height="5.2" fill="#8c3e68"/>
<rect x="653.49" y="723.3" width="2.24" height="5.2" fill="#8c3e68"/>
<rect x="657.23" y="723.3" width="1.49" height="5.2" fill="#8c3e68"/>
<rect x="658.72" y="723.3" width="1.87" height="5.2" fill="#8c3e68"/>
<rect x="535.83" y="723.3" width="128.12" height="5.2" fill="#8c3e68"/>
<rect x="547.78" y="689.68" width="1.87" height="9.71" fill="#2c872c"/>
<rect x="592.61" y="713.96" width="1.49" height="9.34" fill="#2c872c"/>
<rect x="599.7" y="709.1" width="1.87" height="4.86" fill="#2c872c"/>
<rect x="613.9" y="704.25" width="1.87" height="9.71" fill="#2c872c"/>
<rect x="643.03" y="709.1" width="1.87" height="9.34" fill="#2c872c"/>
<rect x="644.9" y="709.1" width="1.49" height="19.42" fill="#2c872c"/>
<rect x="646.4" y="723.3" width="1.87" height="5.23" fill="#2c872c"/>
<rect x="657.23" y="718.44" width="1.49" height="4.86" fill="#2c872c"/>
<rect x="660.59" y="718.44" width="1.87" height="10.09" fill="#2c872c"/>
<rect x="662.46" y="723.3" width="1.49" height="5.23" fill="#2c872c"/>
<line x1="535.5" y1="647.15" x2="535.5" y2="729.15" stroke="#000" stroke-width="1.35"/>
<line x1="531.1" y1="728.5" x2="535.5" y2="728.5" stroke="#000" stroke-width="1.35"/>
<text x="527.8" y="731.67" font-size="14.2" text-anchor="end">0</text>
<line x1="531.1" y1="701.6" x2="535.5" y2="701.6" stroke="#000" stroke-width="1.35"/>
<text x="527.8" y="705.27" font-size="14.2" text-anchor="end">5</text>
<line x1="531.1" y1="674.7" x2="535.5" y2="674.7" stroke="#000" stroke-width="1.35"/>
<text x="527.8" y="678.07" font-size="14.2" text-anchor="end">10</text>
<line x1="531.1" y1="647.8" x2="535.5" y2="647.8" stroke="#000" stroke-width="1.35"/>
<text x="527.8" y="652.27" font-size="14.2" text-anchor="end">15</text>
<text x="640.8" y="682.8" font-size="29" text-anchor="start" letter-spacing="0.45">LSLT-BM</text>
<text x="873.9" y="647.9" font-size="20.5" text-anchor="start" letter-spacing="0.38">Mutation</text>
<rect x="875.9" y="662.5" width="15.8" height="16.2" fill="#8e4a6e"/>
<text x="896.5" y="674.7" font-size="20.5" text-anchor="start" letter-spacing="0.25">Amplification</text>
<rect x="875" y="685.7" width="16.7" height="17.3" fill="#3a8a30"/>
<text x="898.3" y="702.8" font-size="20.5" text-anchor="start" letter-spacing="0.3">Deletion</text>
<text x="0.5" y="81.5" font-size="34" text-anchor="start">A</text>
<text x="1012" y="92.6" font-size="34" text-anchor="start">B</text>
<rect x="1092.4" y="124.03" width="10.3" height="271.17" fill="#2e2d55" stroke="#000" stroke-width="1.45"/>
<rect x="1102.7" y="389.8" width="10.6" height="5.4" fill="#b72560" stroke="#000" stroke-width="1.45"/>
<line x1="1092.3" y1="119" x2="1112.6" y2="119" stroke="#000" stroke-width="1.4"/>
<text x="1104.4" y="121.3" font-size="13.5" text-anchor="middle" font-weight="bold" letter-spacing="1.7">***</text>
<line x1="1102.6" y1="395.2" x2="1102.6" y2="403" stroke="#000" stroke-width="1.4"/>
<text x="1107.2" y="416.7" font-size="16.3" letter-spacing="1.3" text-anchor="end" transform="rotate(-45 1107.2 416.7)">CDKN2A</text>
<rect x="1125.22" y="130.79" width="10.3" height="264.41" fill="#2e2d55" stroke="#000" stroke-width="1.45"/>
<rect x="1135.52" y="347.43" width="10.6" height="47.77" fill="#b72560" stroke="#000" stroke-width="1.45"/>
<line x1="1125.12" y1="125.8" x2="1145.42" y2="125.8" stroke="#000" stroke-width="1.4"/>
<text x="1137.22" y="128.1" font-size="13.5" text-anchor="middle" font-weight="bold" letter-spacing="1.7">***</text>
<line x1="1135.42" y1="395.2" x2="1135.42" y2="403" stroke="#000" stroke-width="1.4"/>
<text x="1140.02" y="416.7" font-size="16.3" letter-spacing="1.3" text-anchor="end" transform="rotate(-45 1140.02 416.7)">EGFR</text>
<rect x="1158.04" y="223.43" width="10.3" height="171.77" fill="#2e2d55" stroke="#000" stroke-width="1.45"/>
<rect x="1168.34" y="392.31" width="10.6" height="2.89" fill="#b72560" stroke="#000" stroke-width="1.45"/>
<line x1="1157.94" y1="218.2" x2="1178.24" y2="218.2" stroke="#000" stroke-width="1.4"/>
<text x="1170.04" y="220.5" font-size="13.5" text-anchor="middle" font-weight="bold" letter-spacing="1.7">***</text>
<line x1="1168.24" y1="395.2" x2="1168.24" y2="403" stroke="#000" stroke-width="1.4"/>
<text x="1172.84" y="416.7" font-size="16.3" letter-spacing="1.3" text-anchor="end" transform="rotate(-45 1172.84 416.7)">CDKN2B</text>
<rect x="1190.86" y="288.08" width="10.3" height="107.12" fill="#2e2d55" stroke="#000" stroke-width="1.45"/>
<rect x="1201.16" y="373.97" width="10.6" height="21.23" fill="#b72560" stroke="#000" stroke-width="1.45"/>
<line x1="1190.76" y1="281" x2="1211.06" y2="281" stroke="#000" stroke-width="1.4"/>
<text x="1202.86" y="283.3" font-size="13.5" text-anchor="middle" font-weight="bold" letter-spacing="1.7">***</text>
<line x1="1201.06" y1="395.2" x2="1201.06" y2="403" stroke="#000" stroke-width="1.4"/>
<text x="1205.66" y="416.7" font-size="16.3" letter-spacing="1.3" text-anchor="end" transform="rotate(-45 1205.66 416.7)">CDK4</text>
<rect x="1223.68" y="288.08" width="10.3" height="107.12" fill="#2e2d55" stroke="#000" stroke-width="1.45"/>
<line x1="1223.58" y1="283" x2="1243.88" y2="283" stroke="#000" stroke-width="1.4"/>
<text x="1235.68" y="285.3" font-size="13.5" text-anchor="middle" font-weight="bold" letter-spacing="1.7">***</text>
<line x1="1233.88" y1="395.2" x2="1233.88" y2="403" stroke="#000" stroke-width="1.4"/>
<text x="1238.48" y="416.7" font-size="16.3" letter-spacing="1.3" text-anchor="end" transform="rotate(-45 1238.48 416.7)">PMS2</text>
<rect x="1256.5" y="302.27" width="10.3" height="92.93" fill="#2e2d55" stroke="#000" stroke-width="1.45"/>
<rect x="1266.8" y="379.76" width="10.6" height="15.44" fill="#b72560" stroke="#000" stroke-width="1.45"/>
<line x1="1256.4" y1="296.8" x2="1276.7" y2="296.8" stroke="#000" stroke-width="1.4"/>
<text x="1268.5" y="299.1" font-size="13.5" text-anchor="middle" font-weight="bold" letter-spacing="1.7">***</text>
<line x1="1266.7" y1="395.2" x2="1266.7" y2="403" stroke="#000" stroke-width="1.4"/>
<text x="1271.3" y="416.7" font-size="16.3" letter-spacing="1.3" text-anchor="end" transform="rotate(-45 1271.3 416.7)">MET</text>
<rect x="1289.32" y="309.41" width="10.3" height="85.79" fill="#2e2d55" stroke="#000" stroke-width="1.45"/>
<rect x="1299.62" y="355.15" width="10.6" height="40.05" fill="#b72560" stroke="#000" stroke-width="1.45"/>
<line x1="1289.22" y1="302.3" x2="1309.52" y2="302.3" stroke="#000" stroke-width="1.4"/>
<text x="1301.32" y="304.6" font-size="13.5" text-anchor="middle" font-weight="bold" letter-spacing="1.7">*</text>
<line x1="1299.52" y1="395.2" x2="1299.52" y2="403" stroke="#000" stroke-width="1.4"/>
<text x="1304.12" y="416.7" font-size="16.3" letter-spacing="1.3" text-anchor="end" transform="rotate(-45 1304.12 416.7)">SDHA</text>
<rect x="1322.14" y="316.55" width="10.3" height="78.65" fill="#2e2d55" stroke="#000" stroke-width="1.45"/>
<rect x="1332.44" y="381.69" width="10.6" height="13.51" fill="#b72560" stroke="#000" stroke-width="1.45"/>
<line x1="1322.04" y1="308.1" x2="1342.34" y2="308.1" stroke="#000" stroke-width="1.4"/>
<text x="1334.14" y="310.4" font-size="13.5" text-anchor="middle" font-weight="bold" letter-spacing="1.7">***</text>
<line x1="1332.34" y1="395.2" x2="1332.34" y2="403" stroke="#000" stroke-width="1.4"/>
<text x="1336.94" y="416.7" font-size="16.3" letter-spacing="1.3" text-anchor="end" transform="rotate(-45 1336.94 416.7)">IL7R</text>
<rect x="1354.96" y="323.69" width="10.3" height="71.51" fill="#2e2d55" stroke="#000" stroke-width="1.45"/>
<rect x="1365.26" y="355.15" width="10.6" height="40.05" fill="#b72560" stroke="#000" stroke-width="1.45"/>
<line x1="1365.16" y1="395.2" x2="1365.16" y2="403" stroke="#000" stroke-width="1.4"/>
<text x="1369.76" y="416.7" font-size="16.3" letter-spacing="1.3" text-anchor="end" transform="rotate(-45 1369.76 416.7)">MDM2</text>
<rect x="1387.78" y="323.69" width="10.3" height="71.51" fill="#2e2d55" stroke="#000" stroke-width="1.45"/>
<line x1="1387.68" y1="315.5" x2="1407.98" y2="315.5" stroke="#000" stroke-width="1.4"/>
<text x="1399.78" y="317.8" font-size="13.5" text-anchor="middle" font-weight="bold" letter-spacing="1.7">***</text>
<line x1="1397.98" y1="395.2" x2="1397.98" y2="403" stroke="#000" stroke-width="1.4"/>
<text x="1402.58" y="416.7" font-size="16.3" letter-spacing="1.3" text-anchor="end" transform="rotate(-45 1402.58 416.7)">CARD11</text>
<rect x="1420.6" y="323.69" width="10.3" height="71.51" fill="#2e2d55" stroke="#000" stroke-width="1.45"/>
<rect x="1430.9" y="387.09" width="10.6" height="8.11" fill="#b72560" stroke="#000" stroke-width="1.45"/>
<line x1="1420.5" y1="317.1" x2="1440.8" y2="317.1" stroke="#000" stroke-width="1.4"/>
<text x="1432.6" y="319.4" font-size="13.5" text-anchor="middle" font-weight="bold" letter-spacing="1.7">***</text>
<line x1="1430.8" y1="395.2" x2="1430.8" y2="403" stroke="#000" stroke-width="1.4"/>
<text x="1435.4" y="416.7" font-size="16.3" letter-spacing="1.3" text-anchor="end" transform="rotate(-45 1435.4 416.7)">RICTOR</text>
<rect x="1453.42" y="330.83" width="10.3" height="64.37" fill="#2e2d55" stroke="#000" stroke-width="1.45"/>
<line x1="1453.32" y1="322.4" x2="1473.62" y2="322.4" stroke="#000" stroke-width="1.4"/>
<text x="1465.42" y="324.7" font-size="13.5" text-anchor="middle" font-weight="bold" letter-spacing="1.7">***</text>
<line x1="1463.62" y1="395.2" x2="1463.62" y2="403" stroke="#000" stroke-width="1.4"/>
<text x="1468.22" y="416.7" font-size="16.3" letter-spacing="1.3" text-anchor="end" transform="rotate(-45 1468.22 416.7)">IKZF1</text>
<rect x="1486.24" y="330.83" width="10.3" height="64.37" fill="#2e2d55" stroke="#000" stroke-width="1.45"/>
<rect x="1496.54" y="371.27" width="10.6" height="23.93" fill="#b72560" stroke="#000" stroke-width="1.45"/>
<line x1="1486.14" y1="322.9" x2="1506.44" y2="322.9" stroke="#000" stroke-width="1.4"/>
<text x="1498.24" y="325.2" font-size="13.5" text-anchor="middle" font-weight="bold" letter-spacing="1.7">*</text>
<line x1="1496.44" y1="395.2" x2="1496.44" y2="403" stroke="#000" stroke-width="1.4"/>
<text x="1501.04" y="416.7" font-size="16.3" letter-spacing="1.3" text-anchor="end" transform="rotate(-45 1501.04 416.7)">FOXA1</text>
<rect x="1519.06" y="330.83" width="10.3" height="64.37" fill="#2e2d55" stroke="#000" stroke-width="1.45"/>
<rect x="1529.36" y="376.38" width="10.6" height="18.82" fill="#b72560" stroke="#000" stroke-width="1.45"/>
<line x1="1518.96" y1="324.2" x2="1539.26" y2="324.2" stroke="#000" stroke-width="1.4"/>
<text x="1531.06" y="326.5" font-size="13.5" text-anchor="middle" font-weight="bold" letter-spacing="1.7">*</text>
<line x1="1529.26" y1="395.2" x2="1529.26" y2="403" stroke="#000" stroke-width="1.4"/>
<text x="1533.86" y="416.7" font-size="16.3" letter-spacing="1.3" text-anchor="end" transform="rotate(-45 1533.86 416.7)">NFKBIA</text>
<rect x="1551.88" y="330.83" width="10.3" height="64.37" fill="#2e2d55" stroke="#000" stroke-width="1.45"/>
<rect x="1562.18" y="384.58" width="10.6" height="10.62" fill="#b72560" stroke="#000" stroke-width="1.45"/>
<line x1="1551.78" y1="325.4" x2="1572.08" y2="325.4" stroke="#000" stroke-width="1.4"/>
<text x="1563.88" y="327.7" font-size="13.5" text-anchor="middle" font-weight="bold" letter-spacing="1.7">**</text>
<line x1="1562.08" y1="395.2" x2="1562.08" y2="403" stroke="#000" stroke-width="1.4"/>
<text x="1566.68" y="416.7" font-size="16.3" letter-spacing="1.3" text-anchor="end" transform="rotate(-45 1566.68 416.7)">NKX2-1</text>
<rect x="1584.7" y="337.98" width="10.3" height="57.22" fill="#2e2d55" stroke="#000" stroke-width="1.45"/>
<rect x="1595" y="373.97" width="10.6" height="21.23" fill="#b72560" stroke="#000" stroke-width="1.45"/>
<line x1="1584.6" y1="331.7" x2="1604.9" y2="331.7" stroke="#000" stroke-width="1.4"/>
<text x="1596.7" y="334" font-size="13.5" text-anchor="middle" font-weight="bold" letter-spacing="1.7">*</text>
<line x1="1594.9" y1="395.2" x2="1594.9" y2="403" stroke="#000" stroke-width="1.4"/>
<text x="1599.5" y="416.7" font-size="16.3" letter-spacing="1.3" text-anchor="end" transform="rotate(-45 1599.5 416.7)">IFNG</text>
<rect x="1617.52" y="337.98" width="10.3" height="57.22" fill="#2e2d55" stroke="#000" stroke-width="1.45"/>
<rect x="1627.82" y="366.25" width="10.6" height="28.95" fill="#b72560" stroke="#000" stroke-width="1.45"/>
<line x1="1627.72" y1="395.2" x2="1627.72" y2="403" stroke="#000" stroke-width="1.4"/>
<text x="1632.32" y="416.7" font-size="16.3" letter-spacing="1.3" text-anchor="end" transform="rotate(-45 1632.32 416.7)">MYC</text>
<rect x="1650.34" y="337.98" width="10.3" height="57.22" fill="#2e2d55" stroke="#000" stroke-width="1.45"/>
<line x1="1650.24" y1="329.8" x2="1670.54" y2="329.8" stroke="#000" stroke-width="1.4"/>
<text x="1662.34" y="332.1" font-size="13.5" text-anchor="middle" font-weight="bold" letter-spacing="1.7">***</text>
<line x1="1660.54" y1="395.2" x2="1660.54" y2="403" stroke="#000" stroke-width="1.4"/>
<text x="1665.14" y="416.7" font-size="16.3" letter-spacing="1.3" text-anchor="end" transform="rotate(-45 1665.14 416.7)">FANCF</text>
<rect x="1683.16" y="345.12" width="10.3" height="50.08" fill="#2e2d55" stroke="#000" stroke-width="1.45"/>
<line x1="1683.06" y1="337" x2="1703.36" y2="337" stroke="#000" stroke-width="1.4"/>
<text x="1695.16" y="339.3" font-size="13.5" text-anchor="middle" font-weight="bold" letter-spacing="1.7">***</text>
<line x1="1693.36" y1="395.2" x2="1693.36" y2="403" stroke="#000" stroke-width="1.4"/>
<text x="1697.96" y="416.7" font-size="16.3" letter-spacing="1.3" text-anchor="end" transform="rotate(-45 1697.96 416.7)">FLT4</text>
<rect x="1715.98" y="352.35" width="10.3" height="42.85" fill="#2e2d55" stroke="#000" stroke-width="1.45"/>
<rect x="1726.28" y="392.5" width="10.6" height="2.7" fill="#b72560" stroke="#000" stroke-width="1.45"/>
<line x1="1715.88" y1="344.3" x2="1736.18" y2="344.3" stroke="#000" stroke-width="1.4"/>
<text x="1727.98" y="346.6" font-size="13.5" text-anchor="middle" font-weight="bold" letter-spacing="1.7">**</text>
<line x1="1726.18" y1="395.2" x2="1726.18" y2="403" stroke="#000" stroke-width="1.4"/>
<text x="1730.78" y="416.7" font-size="16.3" letter-spacing="1.3" text-anchor="end" transform="rotate(-45 1730.78 416.7)">RB1</text>
<rect x="1748.8" y="352.35" width="10.3" height="42.85" fill="#2e2d55" stroke="#000" stroke-width="1.45"/>
<line x1="1748.7" y1="344.3" x2="1769" y2="344.3" stroke="#000" stroke-width="1.4"/>
<text x="1760.8" y="346.6" font-size="13.5" text-anchor="middle" font-weight="bold" letter-spacing="1.7">***</text>
<line x1="1759" y1="395.2" x2="1759" y2="403" stroke="#000" stroke-width="1.4"/>
<text x="1763.6" y="416.7" font-size="16.3" letter-spacing="1.3" text-anchor="end" transform="rotate(-45 1763.6 416.7)">FGFR4</text>
<rect x="1781.62" y="359.5" width="10.3" height="35.7" fill="#2e2d55" stroke="#000" stroke-width="1.45"/>
<rect x="1791.92" y="379.37" width="10.6" height="15.83" fill="#b72560" stroke="#000" stroke-width="1.45"/>
<line x1="1791.82" y1="395.2" x2="1791.82" y2="403" stroke="#000" stroke-width="1.4"/>
<text x="1796.42" y="416.7" font-size="16.3" letter-spacing="1.3" text-anchor="end" transform="rotate(-45 1796.42 416.7)">CCNE1</text>
<rect x="1814.44" y="373.97" width="10.3" height="21.23" fill="#2e2d55" stroke="#000" stroke-width="1.45"/>
<rect x="1824.74" y="386.8" width="10.6" height="8.4" fill="#b72560" stroke="#000" stroke-width="1.45"/>
<line x1="1824.64" y1="395.2" x2="1824.64" y2="403" stroke="#000" stroke-width="1.4"/>
<text x="1829.24" y="416.7" font-size="16.3" letter-spacing="1.3" text-anchor="end" transform="rotate(-45 1829.24 416.7)">ERBB2</text>
<rect x="1847.26" y="388.06" width="10.3" height="7.14" fill="#2e2d55" stroke="#000" stroke-width="1.45"/>
<rect x="1857.56" y="389.8" width="10.6" height="5.4" fill="#b72560" stroke="#000" stroke-width="1.45"/>
<line x1="1857.46" y1="395.2" x2="1857.46" y2="403" stroke="#000" stroke-width="1.4"/>
<text x="1862.06" y="416.7" font-size="16.3" letter-spacing="1.3" text-anchor="end" transform="rotate(-45 1862.06 416.7)">CCND1</text>
<rect x="1880.08" y="373.97" width="10.3" height="21.23" fill="#2e2d55" stroke="#000" stroke-width="1.45"/>
<rect x="1890.38" y="384.58" width="10.6" height="10.62" fill="#b72560" stroke="#000" stroke-width="1.45"/>
<line x1="1890.28" y1="395.2" x2="1890.28" y2="403" stroke="#000" stroke-width="1.4"/>
<text x="1894.88" y="416.7" font-size="16.3" letter-spacing="1.3" text-anchor="end" transform="rotate(-45 1894.88 416.7)">CEBPA</text>
<rect x="1912.9" y="352.35" width="10.3" height="42.85" fill="#2e2d55" stroke="#000" stroke-width="1.45"/>
<line x1="1912.8" y1="344.3" x2="1933.1" y2="344.3" stroke="#000" stroke-width="1.4"/>
<text x="1924.9" y="346.6" font-size="13.5" text-anchor="middle" font-weight="bold" letter-spacing="1.7">***</text>
<line x1="1923.1" y1="395.2" x2="1923.1" y2="403" stroke="#000" stroke-width="1.4"/>
<text x="1927.7" y="416.7" font-size="16.3" letter-spacing="1.3" text-anchor="end" transform="rotate(-45 1927.7 416.7)">AXIN1</text>
<line x1="1086.5" y1="105" x2="1086.5" y2="395.9" stroke="#000" stroke-width="1.4"/>
<line x1="1078.3" y1="395.2" x2="1941" y2="395.2" stroke="#000" stroke-width="1.4"/>
<line x1="1078.3" y1="395.2" x2="1086.5" y2="395.2" stroke="#000" stroke-width="1.4"/>
<text x="1075.1" y="400.2" font-size="16.8" text-anchor="end" letter-spacing="0.6">0</text>
<line x1="1078.3" y1="298.7" x2="1086.5" y2="298.7" stroke="#000" stroke-width="1.4"/>
<text x="1075.1" y="303.7" font-size="16.8" text-anchor="end" letter-spacing="0.6">10</text>
<line x1="1078.3" y1="202.2" x2="1086.5" y2="202.2" stroke="#000" stroke-width="1.4"/>
<text x="1075.1" y="207.2" font-size="16.8" text-anchor="end" letter-spacing="0.6">20</text>
<line x1="1078.3" y1="105.7" x2="1086.5" y2="105.7" stroke="#000" stroke-width="1.4"/>
<text x="1075.1" y="110.7" font-size="16.8" text-anchor="end" letter-spacing="0.6">30</text>
<text x="1044.1" y="251.4" font-size="17.5" text-anchor="middle" textLength="231" lengthAdjust="spacing" transform="rotate(-90 1044.1 251.4)">CNV mutation frequency(%)</text>
<rect x="1244.9" y="129.8" width="31.0" height="8.6" fill="#2e2d55" stroke="#000" stroke-width="1.5"/>
<rect x="1244.9" y="162.9" width="31.0" height="8.6" fill="#b72560" stroke="#000" stroke-width="1.5"/>
<text x="1293" y="140.6" font-size="17" text-anchor="start" letter-spacing="0.8">CSF</text>
<text x="1293" y="173.7" font-size="17" text-anchor="start" letter-spacing="0.5">ESLT</text>
<rect x="1089.4" y="512.82" width="10.3" height="270.88" fill="#2e2d55" stroke="#000" stroke-width="1.45"/>
<rect x="1099.7" y="769.82" width="10.6" height="13.88" fill="#b72560" stroke="#000" stroke-width="1.45"/>
<line x1="1089.3" y1="506.1" x2="1109.6" y2="506.1" stroke="#000" stroke-width="1.4"/>
<text x="1101.4" y="508.4" font-size="13.5" text-anchor="middle" font-weight="bold" letter-spacing="1.7">***</text>
<line x1="1099.6" y1="783.7" x2="1099.6" y2="791.5" stroke="#000" stroke-width="1.4"/>
<text x="1104.2" y="805.2" font-size="16.3" letter-spacing="1.3" text-anchor="end" transform="rotate(-45 1104.2 805.2)">CDKN2A</text>
<rect x="1122.17" y="519.56" width="10.3" height="264.14" fill="#2e2d55" stroke="#000" stroke-width="1.45"/>
<rect x="1132.47" y="664.55" width="10.6" height="119.15" fill="#b72560" stroke="#000" stroke-width="1.45"/>
<line x1="1122.07" y1="511.9" x2="1142.37" y2="511.9" stroke="#000" stroke-width="1.4"/>
<text x="1134.17" y="514.2" font-size="13.5" text-anchor="middle" font-weight="bold" letter-spacing="1.7">***</text>
<line x1="1132.37" y1="783.7" x2="1132.37" y2="791.5" stroke="#000" stroke-width="1.4"/>
<text x="1136.97" y="805.2" font-size="16.3" letter-spacing="1.3" text-anchor="end" transform="rotate(-45 1136.97 805.2)">EGFR</text>
<rect x="1154.94" y="612.11" width="10.3" height="171.59" fill="#2e2d55" stroke="#000" stroke-width="1.45"/>
<rect x="1165.24" y="767.31" width="10.6" height="16.39" fill="#b72560" stroke="#000" stroke-width="1.45"/>
<line x1="1154.84" y1="606.9" x2="1175.14" y2="606.9" stroke="#000" stroke-width="1.4"/>
<text x="1166.94" y="609.2" font-size="13.5" text-anchor="middle" font-weight="bold" letter-spacing="1.7">***</text>
<line x1="1165.14" y1="783.7" x2="1165.14" y2="791.5" stroke="#000" stroke-width="1.4"/>
<text x="1169.74" y="805.2" font-size="16.3" letter-spacing="1.3" text-anchor="end" transform="rotate(-45 1169.74 805.2)">CDKN2B</text>
<rect x="1187.71" y="676.7" width="10.3" height="107" fill="#2e2d55" stroke="#000" stroke-width="1.45"/>
<rect x="1198.01" y="745.33" width="10.6" height="38.37" fill="#b72560" stroke="#000" stroke-width="1.45"/>
<line x1="1187.61" y1="671.5" x2="1207.91" y2="671.5" stroke="#000" stroke-width="1.4"/>
<text x="1199.71" y="673.8" font-size="13.5" text-anchor="middle" font-weight="bold" letter-spacing="1.7">**</text>
<line x1="1197.91" y1="783.7" x2="1197.91" y2="791.5" stroke="#000" stroke-width="1.4"/>
<text x="1202.51" y="805.2" font-size="16.3" letter-spacing="1.3" text-anchor="end" transform="rotate(-45 1202.51 805.2)">CDK4</text>
<rect x="1220.48" y="676.7" width="10.3" height="107" fill="#2e2d55" stroke="#000" stroke-width="1.45"/>
<rect x="1230.78" y="771.75" width="10.6" height="11.95" fill="#b72560" stroke="#000" stroke-width="1.45"/>
<line x1="1220.38" y1="669.5" x2="1240.68" y2="669.5" stroke="#000" stroke-width="1.4"/>
<text x="1232.48" y="671.8" font-size="13.5" text-anchor="middle" font-weight="bold" letter-spacing="1.7">***</text>
<line x1="1230.68" y1="783.7" x2="1230.68" y2="791.5" stroke="#000" stroke-width="1.4"/>
<text x="1235.28" y="805.2" font-size="16.3" letter-spacing="1.3" text-anchor="end" transform="rotate(-45 1235.28 805.2)">PMS2</text>
<rect x="1253.25" y="690.87" width="10.3" height="92.83" fill="#2e2d55" stroke="#000" stroke-width="1.45"/>
<rect x="1263.55" y="769.82" width="10.6" height="13.88" fill="#b72560" stroke="#000" stroke-width="1.45"/>
<line x1="1253.15" y1="683.9" x2="1273.45" y2="683.9" stroke="#000" stroke-width="1.4"/>
<text x="1265.25" y="686.2" font-size="13.5" text-anchor="middle" font-weight="bold" letter-spacing="1.7">***</text>
<line x1="1263.45" y1="783.7" x2="1263.45" y2="791.5" stroke="#000" stroke-width="1.4"/>
<text x="1268.05" y="805.2" font-size="16.3" letter-spacing="1.3" text-anchor="end" transform="rotate(-45 1268.05 805.2)">MET</text>
<rect x="1286.02" y="698" width="10.3" height="85.7" fill="#2e2d55" stroke="#000" stroke-width="1.45"/>
<rect x="1296.32" y="759.89" width="10.6" height="23.81" fill="#b72560" stroke="#000" stroke-width="1.45"/>
<line x1="1285.92" y1="690.4" x2="1306.22" y2="690.4" stroke="#000" stroke-width="1.4"/>
<text x="1298.02" y="692.7" font-size="13.5" text-anchor="middle" font-weight="bold" letter-spacing="1.7">**</text>
<line x1="1296.22" y1="783.7" x2="1296.22" y2="791.5" stroke="#000" stroke-width="1.4"/>
<text x="1300.82" y="805.2" font-size="16.3" letter-spacing="1.3" text-anchor="end" transform="rotate(-45 1300.82 805.2)">SDHA</text>
<rect x="1318.79" y="705.13" width="10.3" height="78.57" fill="#2e2d55" stroke="#000" stroke-width="1.45"/>
<rect x="1329.09" y="774.73" width="10.6" height="8.97" fill="#b72560" stroke="#000" stroke-width="1.45"/>
<line x1="1318.69" y1="697" x2="1338.99" y2="697" stroke="#000" stroke-width="1.4"/>
<text x="1330.79" y="699.3" font-size="13.5" text-anchor="middle" font-weight="bold" letter-spacing="1.7">***</text>
<line x1="1328.99" y1="783.7" x2="1328.99" y2="791.5" stroke="#000" stroke-width="1.4"/>
<text x="1333.59" y="805.2" font-size="16.3" letter-spacing="1.3" text-anchor="end" transform="rotate(-45 1333.59 805.2)">IL7R</text>
<rect x="1351.56" y="712.27" width="10.3" height="71.43" fill="#2e2d55" stroke="#000" stroke-width="1.45"/>
<rect x="1361.86" y="737.62" width="10.6" height="46.08" fill="#b72560" stroke="#000" stroke-width="1.45"/>
<line x1="1361.76" y1="783.7" x2="1361.76" y2="791.5" stroke="#000" stroke-width="1.4"/>
<text x="1366.36" y="805.2" font-size="16.3" letter-spacing="1.3" text-anchor="end" transform="rotate(-45 1366.36 805.2)">MDM2</text>
<rect x="1384.33" y="712.27" width="10.3" height="71.43" fill="#2e2d55" stroke="#000" stroke-width="1.45"/>
<rect x="1394.63" y="779.46" width="10.6" height="4.24" fill="#b72560" stroke="#000" stroke-width="1.45"/>
<line x1="1384.23" y1="704.1" x2="1404.53" y2="704.1" stroke="#000" stroke-width="1.4"/>
<text x="1396.33" y="706.4" font-size="13.5" text-anchor="middle" font-weight="bold" letter-spacing="1.7">***</text>
<line x1="1394.53" y1="783.7" x2="1394.53" y2="791.5" stroke="#000" stroke-width="1.4"/>
<text x="1399.13" y="805.2" font-size="16.3" letter-spacing="1.3" text-anchor="end" transform="rotate(-45 1399.13 805.2)">CARD11</text>
<rect x="1417.1" y="712.27" width="10.3" height="71.43" fill="#2e2d55" stroke="#000" stroke-width="1.45"/>
<rect x="1427.4" y="774.73" width="10.6" height="8.97" fill="#b72560" stroke="#000" stroke-width="1.45"/>
<line x1="1417" y1="705.8" x2="1437.3" y2="705.8" stroke="#000" stroke-width="1.4"/>
<text x="1429.1" y="708.1" font-size="13.5" text-anchor="middle" font-weight="bold" letter-spacing="1.7">***</text>
<line x1="1427.3" y1="783.7" x2="1427.3" y2="791.5" stroke="#000" stroke-width="1.4"/>
<text x="1431.9" y="805.2" font-size="16.3" letter-spacing="1.3" text-anchor="end" transform="rotate(-45 1431.9 805.2)">RICTOR</text>
<rect x="1449.87" y="719.4" width="10.3" height="64.3" fill="#2e2d55" stroke="#000" stroke-width="1.45"/>
<rect x="1460.17" y="771.75" width="10.6" height="11.95" fill="#b72560" stroke="#000" stroke-width="1.45"/>
<line x1="1449.77" y1="712.8" x2="1470.07" y2="712.8" stroke="#000" stroke-width="1.4"/>
<text x="1461.87" y="715.1" font-size="13.5" text-anchor="middle" font-weight="bold" letter-spacing="1.7">**</text>
<line x1="1460.07" y1="783.7" x2="1460.07" y2="791.5" stroke="#000" stroke-width="1.4"/>
<text x="1464.67" y="805.2" font-size="16.3" letter-spacing="1.3" text-anchor="end" transform="rotate(-45 1464.67 805.2)">IKZF1</text>
<rect x="1482.64" y="719.4" width="10.3" height="64.3" fill="#2e2d55" stroke="#000" stroke-width="1.45"/>
<rect x="1492.94" y="754.78" width="10.6" height="28.92" fill="#b72560" stroke="#000" stroke-width="1.45"/>
<line x1="1492.84" y1="783.7" x2="1492.84" y2="791.5" stroke="#000" stroke-width="1.4"/>
<text x="1497.44" y="805.2" font-size="16.3" letter-spacing="1.3" text-anchor="end" transform="rotate(-45 1497.44 805.2)">FOXA1</text>
<rect x="1515.41" y="719.4" width="10.3" height="64.3" fill="#2e2d55" stroke="#000" stroke-width="1.45"/>
<rect x="1525.71" y="759.6" width="10.6" height="24.1" fill="#b72560" stroke="#000" stroke-width="1.45"/>
<line x1="1515.31" y1="712.9" x2="1535.61" y2="712.9" stroke="#000" stroke-width="1.4"/>
<text x="1527.41" y="715.2" font-size="13.5" text-anchor="middle" font-weight="bold" letter-spacing="1.7">*</text>
<line x1="1525.61" y1="783.7" x2="1525.61" y2="791.5" stroke="#000" stroke-width="1.4"/>
<text x="1530.21" y="805.2" font-size="16.3" letter-spacing="1.3" text-anchor="end" transform="rotate(-45 1530.21 805.2)">NFKBIA</text>
<rect x="1548.18" y="719.4" width="10.3" height="64.3" fill="#2e2d55" stroke="#000" stroke-width="1.45"/>
<rect x="1558.48" y="752.47" width="10.6" height="31.23" fill="#b72560" stroke="#000" stroke-width="1.45"/>
<line x1="1558.38" y1="783.7" x2="1558.38" y2="791.5" stroke="#000" stroke-width="1.4"/>
<text x="1562.98" y="805.2" font-size="16.3" letter-spacing="1.3" text-anchor="end" transform="rotate(-45 1562.98 805.2)">NKX2-1</text>
<rect x="1580.95" y="726.53" width="10.3" height="57.17" fill="#2e2d55" stroke="#000" stroke-width="1.45"/>
<rect x="1591.25" y="762.78" width="10.6" height="20.92" fill="#b72560" stroke="#000" stroke-width="1.45"/>
<line x1="1580.85" y1="719.3" x2="1601.15" y2="719.3" stroke="#000" stroke-width="1.4"/>
<text x="1592.95" y="721.6" font-size="13.5" text-anchor="middle" font-weight="bold" letter-spacing="1.7">*</text>
<line x1="1591.15" y1="783.7" x2="1591.15" y2="791.5" stroke="#000" stroke-width="1.4"/>
<text x="1595.75" y="805.2" font-size="16.3" letter-spacing="1.3" text-anchor="end" transform="rotate(-45 1595.75 805.2)">IFNG</text>
<rect x="1613.72" y="726.53" width="10.3" height="57.17" fill="#2e2d55" stroke="#000" stroke-width="1.45"/>
<rect x="1624.02" y="742.73" width="10.6" height="40.97" fill="#b72560" stroke="#000" stroke-width="1.45"/>
<line x1="1623.92" y1="783.7" x2="1623.92" y2="791.5" stroke="#000" stroke-width="1.4"/>
<text x="1628.52" y="805.2" font-size="16.3" letter-spacing="1.3" text-anchor="end" transform="rotate(-45 1628.52 805.2)">MYC</text>
<rect x="1646.49" y="726.53" width="10.3" height="57.17" fill="#2e2d55" stroke="#000" stroke-width="1.45"/>
<line x1="1646.39" y1="720.4" x2="1666.69" y2="720.4" stroke="#000" stroke-width="1.4"/>
<text x="1658.49" y="722.7" font-size="13.5" text-anchor="middle" font-weight="bold" letter-spacing="1.7">***</text>
<line x1="1656.69" y1="783.7" x2="1656.69" y2="791.5" stroke="#000" stroke-width="1.4"/>
<text x="1661.29" y="805.2" font-size="16.3" letter-spacing="1.3" text-anchor="end" transform="rotate(-45 1661.29 805.2)">FANCF</text>
<rect x="1679.26" y="733.67" width="10.3" height="50.03" fill="#2e2d55" stroke="#000" stroke-width="1.45"/>
<line x1="1679.16" y1="726.5" x2="1699.46" y2="726.5" stroke="#000" stroke-width="1.4"/>
<text x="1691.26" y="728.8" font-size="13.5" text-anchor="middle" font-weight="bold" letter-spacing="1.7">***</text>
<line x1="1689.46" y1="783.7" x2="1689.46" y2="791.5" stroke="#000" stroke-width="1.4"/>
<text x="1694.06" y="805.2" font-size="16.3" letter-spacing="1.3" text-anchor="end" transform="rotate(-45 1694.06 805.2)">FLT4</text>
<rect x="1712.03" y="740.9" width="10.3" height="42.8" fill="#2e2d55" stroke="#000" stroke-width="1.45"/>
<line x1="1711.93" y1="733.3" x2="1732.23" y2="733.3" stroke="#000" stroke-width="1.4"/>
<text x="1724.03" y="735.6" font-size="13.5" text-anchor="middle" font-weight="bold" letter-spacing="1.7">***</text>
<line x1="1722.23" y1="783.7" x2="1722.23" y2="791.5" stroke="#000" stroke-width="1.4"/>
<text x="1726.83" y="805.2" font-size="16.3" letter-spacing="1.3" text-anchor="end" transform="rotate(-45 1726.83 805.2)">RB1</text>
<rect x="1744.8" y="740.9" width="10.3" height="42.8" fill="#2e2d55" stroke="#000" stroke-width="1.45"/>
<rect x="1755.1" y="781.39" width="10.6" height="2.31" fill="#b72560" stroke="#000" stroke-width="1.45"/>
<line x1="1744.7" y1="735.1" x2="1765" y2="735.1" stroke="#000" stroke-width="1.4"/>
<text x="1756.8" y="737.4" font-size="13.5" text-anchor="middle" font-weight="bold" letter-spacing="1.7">**</text>
<line x1="1755" y1="783.7" x2="1755" y2="791.5" stroke="#000" stroke-width="1.4"/>
<text x="1759.6" y="805.2" font-size="16.3" letter-spacing="1.3" text-anchor="end" transform="rotate(-45 1759.6 805.2)">FGFR4</text>
<rect x="1777.57" y="748.03" width="10.3" height="35.67" fill="#2e2d55" stroke="#000" stroke-width="1.45"/>
<rect x="1787.87" y="759.6" width="10.6" height="24.1" fill="#b72560" stroke="#000" stroke-width="1.45"/>
<line x1="1787.77" y1="783.7" x2="1787.77" y2="791.5" stroke="#000" stroke-width="1.4"/>
<text x="1792.37" y="805.2" font-size="16.3" letter-spacing="1.3" text-anchor="end" transform="rotate(-45 1792.37 805.2)">CCNE1</text>
<rect x="1810.34" y="762.49" width="10.3" height="21.21" fill="#2e2d55" stroke="#000" stroke-width="1.45"/>
<rect x="1820.64" y="762.49" width="10.6" height="21.21" fill="#b72560" stroke="#000" stroke-width="1.45"/>
<line x1="1820.54" y1="783.7" x2="1820.54" y2="791.5" stroke="#000" stroke-width="1.4"/>
<text x="1825.14" y="805.2" font-size="16.3" letter-spacing="1.3" text-anchor="end" transform="rotate(-45 1825.14 805.2)">ERBB2</text>
<rect x="1843.11" y="776.57" width="10.3" height="7.13" fill="#2e2d55" stroke="#000" stroke-width="1.45"/>
<rect x="1853.41" y="769.82" width="10.6" height="13.88" fill="#b72560" stroke="#000" stroke-width="1.45"/>
<line x1="1853.31" y1="783.7" x2="1853.31" y2="791.5" stroke="#000" stroke-width="1.4"/>
<text x="1857.91" y="805.2" font-size="16.3" letter-spacing="1.3" text-anchor="end" transform="rotate(-45 1857.91 805.2)">CCND1</text>
<rect x="1875.88" y="762.49" width="10.3" height="21.21" fill="#2e2d55" stroke="#000" stroke-width="1.45"/>
<rect x="1886.18" y="774.35" width="10.6" height="9.35" fill="#b72560" stroke="#000" stroke-width="1.45"/>
<line x1="1886.08" y1="783.7" x2="1886.08" y2="791.5" stroke="#000" stroke-width="1.4"/>
<text x="1890.68" y="805.2" font-size="16.3" letter-spacing="1.3" text-anchor="end" transform="rotate(-45 1890.68 805.2)">CEBPA</text>
<rect x="1908.65" y="740.9" width="10.3" height="42.8" fill="#2e2d55" stroke="#000" stroke-width="1.45"/>
<line x1="1908.55" y1="735.6" x2="1928.85" y2="735.6" stroke="#000" stroke-width="1.4"/>
<text x="1920.65" y="737.9" font-size="13.5" text-anchor="middle" font-weight="bold" letter-spacing="1.7">***</text>
<line x1="1918.85" y1="783.7" x2="1918.85" y2="791.5" stroke="#000" stroke-width="1.4"/>
<text x="1923.45" y="805.2" font-size="16.3" letter-spacing="1.3" text-anchor="end" transform="rotate(-45 1923.45 805.2)">AXIN1</text>
<line x1="1083.5" y1="493.8" x2="1083.5" y2="784.4" stroke="#000" stroke-width="1.4"/>
<line x1="1075.3" y1="783.7" x2="1936" y2="783.7" stroke="#000" stroke-width="1.4"/>
<line x1="1075.3" y1="783.7" x2="1083.5" y2="783.7" stroke="#000" stroke-width="1.4"/>
<text x="1072.1" y="788.7" font-size="16.8" text-anchor="end" letter-spacing="0.6">0</text>
<line x1="1075.3" y1="687.3" x2="1083.5" y2="687.3" stroke="#000" stroke-width="1.4"/>
<text x="1072.1" y="692.3" font-size="16.8" text-anchor="end" letter-spacing="0.6">10</text>
<line x1="1075.3" y1="590.9" x2="1083.5" y2="590.9" stroke="#000" stroke-width="1.4"/>
<text x="1072.1" y="595.9" font-size="16.8" text-anchor="end" letter-spacing="0.6">20</text>
<line x1="1075.3" y1="494.5" x2="1083.5" y2="494.5" stroke="#000" stroke-width="1.4"/>
<text x="1072.1" y="499.5" font-size="16.8" text-anchor="end" letter-spacing="0.6">30</text>
<text x="1037.9" y="640.4" font-size="17.5" text-anchor="middle" textLength="231" lengthAdjust="spacing" transform="rotate(-90 1037.9 640.4)">CNV mutation frequency(%)</text>
<rect x="1246.6" y="506.5" width="31.0" height="8.6" fill="#2e2d55" stroke="#000" stroke-width="1.5"/>
<rect x="1246.6" y="539.5" width="31.0" height="8.6" fill="#b72560" stroke="#000" stroke-width="1.5"/>
<text x="1287.5" y="517.3" font-size="17" text-anchor="start" letter-spacing="0.8">CSF</text>
<text x="1287.5" y="550.3" font-size="17" text-anchor="start" letter-spacing="0.5">LSLT-noBM</text>
<rect x="1090.8" y="929.12" width="10.3" height="270.88" fill="#2e2d55" stroke="#000" stroke-width="1.45"/>
<rect x="1101.1" y="1169.63" width="10.6" height="30.37" fill="#b72560" stroke="#000" stroke-width="1.45"/>
<line x1="1090.7" y1="923" x2="1111" y2="923" stroke="#000" stroke-width="1.4"/>
<text x="1102.8" y="925.3" font-size="13.5" text-anchor="middle" font-weight="bold" letter-spacing="1.7">***</text>
<line x1="1101" y1="1200" x2="1101" y2="1207.8" stroke="#000" stroke-width="1.4"/>
<text x="1105.6" y="1221.5" font-size="16.3" letter-spacing="1.3" text-anchor="end" transform="rotate(-45 1105.6 1221.5)">CDKN2A</text>
<rect x="1123.63" y="935.86" width="10.3" height="264.14" fill="#2e2d55" stroke="#000" stroke-width="1.45"/>
<rect x="1133.93" y="1057.33" width="10.6" height="142.67" fill="#b72560" stroke="#000" stroke-width="1.45"/>
<line x1="1123.53" y1="929.5" x2="1143.83" y2="929.5" stroke="#000" stroke-width="1.4"/>
<text x="1135.63" y="931.8" font-size="13.5" text-anchor="middle" font-weight="bold" letter-spacing="1.7">**</text>
<line x1="1133.83" y1="1200" x2="1133.83" y2="1207.8" stroke="#000" stroke-width="1.4"/>
<text x="1138.43" y="1221.5" font-size="16.3" letter-spacing="1.3" text-anchor="end" transform="rotate(-45 1138.43 1221.5)">EGFR</text>
<rect x="1156.46" y="1028.41" width="10.3" height="171.59" fill="#2e2d55" stroke="#000" stroke-width="1.45"/>
<rect x="1166.76" y="1174.55" width="10.6" height="25.45" fill="#b72560" stroke="#000" stroke-width="1.45"/>
<line x1="1156.36" y1="1022.6" x2="1176.66" y2="1022.6" stroke="#000" stroke-width="1.4"/>
<text x="1168.46" y="1024.9" font-size="13.5" text-anchor="middle" font-weight="bold" letter-spacing="1.7">***</text>
<line x1="1166.66" y1="1200" x2="1166.66" y2="1207.8" stroke="#000" stroke-width="1.4"/>
<text x="1171.26" y="1221.5" font-size="16.3" letter-spacing="1.3" text-anchor="end" transform="rotate(-45 1171.26 1221.5)">CDKN2B</text>
<rect x="1189.29" y="1093" width="10.3" height="107" fill="#2e2d55" stroke="#000" stroke-width="1.45"/>
<rect x="1199.59" y="1169.63" width="10.6" height="30.37" fill="#b72560" stroke="#000" stroke-width="1.45"/>
<line x1="1189.19" y1="1086.8" x2="1209.49" y2="1086.8" stroke="#000" stroke-width="1.4"/>
<text x="1201.29" y="1089.1" font-size="13.5" text-anchor="middle" font-weight="bold" letter-spacing="1.7">**</text>
<line x1="1199.49" y1="1200" x2="1199.49" y2="1207.8" stroke="#000" stroke-width="1.4"/>
<text x="1204.09" y="1221.5" font-size="16.3" letter-spacing="1.3" text-anchor="end" transform="rotate(-45 1204.09 1221.5)">CDK4</text>
<rect x="1222.12" y="1093" width="10.3" height="107" fill="#2e2d55" stroke="#000" stroke-width="1.45"/>
<rect x="1232.42" y="1195.28" width="10.6" height="4.72" fill="#b72560" stroke="#000" stroke-width="1.45"/>
<line x1="1222.02" y1="1087.4" x2="1242.32" y2="1087.4" stroke="#000" stroke-width="1.4"/>
<text x="1234.12" y="1089.7" font-size="13.5" text-anchor="middle" font-weight="bold" letter-spacing="1.7">***</text>
<line x1="1232.32" y1="1200" x2="1232.32" y2="1207.8" stroke="#000" stroke-width="1.4"/>
<text x="1236.92" y="1221.5" font-size="16.3" letter-spacing="1.3" text-anchor="end" transform="rotate(-45 1236.92 1221.5)">PMS2</text>
<rect x="1254.95" y="1107.17" width="10.3" height="92.83" fill="#2e2d55" stroke="#000" stroke-width="1.45"/>
<rect x="1265.25" y="1164.62" width="10.6" height="35.38" fill="#b72560" stroke="#000" stroke-width="1.45"/>
<line x1="1254.85" y1="1098.9" x2="1275.15" y2="1098.9" stroke="#000" stroke-width="1.4"/>
<text x="1266.95" y="1101.2" font-size="13.5" text-anchor="middle" font-weight="bold" letter-spacing="1.7">*</text>
<line x1="1265.15" y1="1200" x2="1265.15" y2="1207.8" stroke="#000" stroke-width="1.4"/>
<text x="1269.75" y="1221.5" font-size="16.3" letter-spacing="1.3" text-anchor="end" transform="rotate(-45 1269.75 1221.5)">MET</text>
<rect x="1287.78" y="1114.3" width="10.3" height="85.7" fill="#2e2d55" stroke="#000" stroke-width="1.45"/>
<rect x="1298.08" y="1164.62" width="10.6" height="35.38" fill="#b72560" stroke="#000" stroke-width="1.45"/>
<line x1="1297.98" y1="1200" x2="1297.98" y2="1207.8" stroke="#000" stroke-width="1.4"/>
<text x="1302.58" y="1221.5" font-size="16.3" letter-spacing="1.3" text-anchor="end" transform="rotate(-45 1302.58 1221.5)">SDHA</text>
<rect x="1320.61" y="1121.43" width="10.3" height="78.57" fill="#2e2d55" stroke="#000" stroke-width="1.45"/>
<rect x="1330.91" y="1179.76" width="10.6" height="20.24" fill="#b72560" stroke="#000" stroke-width="1.45"/>
<line x1="1320.51" y1="1114.4" x2="1340.81" y2="1114.4" stroke="#000" stroke-width="1.4"/>
<text x="1332.61" y="1116.7" font-size="13.5" text-anchor="middle" font-weight="bold" letter-spacing="1.7">*</text>
<line x1="1330.81" y1="1200" x2="1330.81" y2="1207.8" stroke="#000" stroke-width="1.4"/>
<text x="1335.41" y="1221.5" font-size="16.3" letter-spacing="1.3" text-anchor="end" transform="rotate(-45 1335.41 1221.5)">IL7R</text>
<rect x="1353.44" y="1128.57" width="10.3" height="71.43" fill="#2e2d55" stroke="#000" stroke-width="1.45"/>
<rect x="1363.74" y="1148.91" width="10.6" height="51.09" fill="#b72560" stroke="#000" stroke-width="1.45"/>
<line x1="1363.64" y1="1200" x2="1363.64" y2="1207.8" stroke="#000" stroke-width="1.4"/>
<text x="1368.24" y="1221.5" font-size="16.3" letter-spacing="1.3" text-anchor="end" transform="rotate(-45 1368.24 1221.5)">MDM2</text>
<rect x="1386.27" y="1128.57" width="10.3" height="71.43" fill="#2e2d55" stroke="#000" stroke-width="1.45"/>
<line x1="1386.17" y1="1122" x2="1406.47" y2="1122" stroke="#000" stroke-width="1.4"/>
<text x="1398.27" y="1124.3" font-size="13.5" text-anchor="middle" font-weight="bold" letter-spacing="1.7">***</text>
<line x1="1396.47" y1="1200" x2="1396.47" y2="1207.8" stroke="#000" stroke-width="1.4"/>
<text x="1401.07" y="1221.5" font-size="16.3" letter-spacing="1.3" text-anchor="end" transform="rotate(-45 1401.07 1221.5)">CARD11</text>
<rect x="1419.1" y="1128.57" width="10.3" height="71.43" fill="#2e2d55" stroke="#000" stroke-width="1.45"/>
<rect x="1429.4" y="1185.06" width="10.6" height="14.94" fill="#b72560" stroke="#000" stroke-width="1.45"/>
<line x1="1419" y1="1121.8" x2="1439.3" y2="1121.8" stroke="#000" stroke-width="1.4"/>
<text x="1431.1" y="1124.1" font-size="13.5" text-anchor="middle" font-weight="bold" letter-spacing="1.7">*</text>
<line x1="1429.3" y1="1200" x2="1429.3" y2="1207.8" stroke="#000" stroke-width="1.4"/>
<text x="1433.9" y="1221.5" font-size="16.3" letter-spacing="1.3" text-anchor="end" transform="rotate(-45 1433.9 1221.5)">RICTOR</text>
<rect x="1451.93" y="1135.7" width="10.3" height="64.3" fill="#2e2d55" stroke="#000" stroke-width="1.45"/>
<rect x="1462.23" y="1195.28" width="10.6" height="4.72" fill="#b72560" stroke="#000" stroke-width="1.45"/>
<line x1="1451.83" y1="1127.7" x2="1472.13" y2="1127.7" stroke="#000" stroke-width="1.4"/>
<text x="1463.93" y="1130" font-size="13.5" text-anchor="middle" font-weight="bold" letter-spacing="1.7">**</text>
<line x1="1462.13" y1="1200" x2="1462.13" y2="1207.8" stroke="#000" stroke-width="1.4"/>
<text x="1466.73" y="1221.5" font-size="16.3" letter-spacing="1.3" text-anchor="end" transform="rotate(-45 1466.73 1221.5)">IKZF1</text>
<rect x="1484.76" y="1135.7" width="10.3" height="64.3" fill="#2e2d55" stroke="#000" stroke-width="1.45"/>
<rect x="1495.06" y="1164.72" width="10.6" height="35.28" fill="#b72560" stroke="#000" stroke-width="1.45"/>
<line x1="1494.96" y1="1200" x2="1494.96" y2="1207.8" stroke="#000" stroke-width="1.4"/>
<text x="1499.56" y="1221.5" font-size="16.3" letter-spacing="1.3" text-anchor="end" transform="rotate(-45 1499.56 1221.5)">FOXA1</text>
<rect x="1517.59" y="1135.7" width="10.3" height="64.3" fill="#2e2d55" stroke="#000" stroke-width="1.45"/>
<rect x="1527.89" y="1195.37" width="10.6" height="4.63" fill="#b72560" stroke="#000" stroke-width="1.45"/>
<line x1="1517.49" y1="1130.4" x2="1537.79" y2="1130.4" stroke="#000" stroke-width="1.4"/>
<text x="1529.59" y="1132.7" font-size="13.5" text-anchor="middle" font-weight="bold" letter-spacing="1.7">**</text>
<line x1="1527.79" y1="1200" x2="1527.79" y2="1207.8" stroke="#000" stroke-width="1.4"/>
<text x="1532.39" y="1221.5" font-size="16.3" letter-spacing="1.3" text-anchor="end" transform="rotate(-45 1532.39 1221.5)">NFKBIA</text>
<rect x="1550.42" y="1135.7" width="10.3" height="64.3" fill="#2e2d55" stroke="#000" stroke-width="1.45"/>
<rect x="1560.72" y="1174.65" width="10.6" height="25.35" fill="#b72560" stroke="#000" stroke-width="1.45"/>
<line x1="1560.62" y1="1200" x2="1560.62" y2="1207.8" stroke="#000" stroke-width="1.4"/>
<text x="1565.22" y="1221.5" font-size="16.3" letter-spacing="1.3" text-anchor="end" transform="rotate(-45 1565.22 1221.5)">NKX2-1</text>
<rect x="1583.25" y="1142.83" width="10.3" height="57.17" fill="#2e2d55" stroke="#000" stroke-width="1.45"/>
<rect x="1593.55" y="1154.11" width="10.6" height="45.89" fill="#b72560" stroke="#000" stroke-width="1.45"/>
<line x1="1593.45" y1="1200" x2="1593.45" y2="1207.8" stroke="#000" stroke-width="1.4"/>
<text x="1598.05" y="1221.5" font-size="16.3" letter-spacing="1.3" text-anchor="end" transform="rotate(-45 1598.05 1221.5)">IFNG</text>
<rect x="1616.08" y="1142.83" width="10.3" height="57.17" fill="#2e2d55" stroke="#000" stroke-width="1.45"/>
<rect x="1626.38" y="1118.06" width="10.6" height="81.94" fill="#b72560" stroke="#000" stroke-width="1.45"/>
<line x1="1626.28" y1="1200" x2="1626.28" y2="1207.8" stroke="#000" stroke-width="1.4"/>
<text x="1630.88" y="1221.5" font-size="16.3" letter-spacing="1.3" text-anchor="end" transform="rotate(-45 1630.88 1221.5)">MYC</text>
<rect x="1648.91" y="1142.83" width="10.3" height="57.17" fill="#2e2d55" stroke="#000" stroke-width="1.45"/>
<line x1="1648.81" y1="1135.5" x2="1669.11" y2="1135.5" stroke="#000" stroke-width="1.4"/>
<text x="1660.91" y="1137.8" font-size="13.5" text-anchor="middle" font-weight="bold" letter-spacing="1.7">***</text>
<line x1="1659.11" y1="1200" x2="1659.11" y2="1207.8" stroke="#000" stroke-width="1.4"/>
<text x="1663.71" y="1221.5" font-size="16.3" letter-spacing="1.3" text-anchor="end" transform="rotate(-45 1663.71 1221.5)">FANCF</text>
<rect x="1681.74" y="1149.97" width="10.3" height="50.03" fill="#2e2d55" stroke="#000" stroke-width="1.45"/>
<line x1="1681.64" y1="1142" x2="1701.94" y2="1142" stroke="#000" stroke-width="1.4"/>
<text x="1693.74" y="1144.3" font-size="13.5" text-anchor="middle" font-weight="bold" letter-spacing="1.7">**</text>
<line x1="1691.94" y1="1200" x2="1691.94" y2="1207.8" stroke="#000" stroke-width="1.4"/>
<text x="1696.54" y="1221.5" font-size="16.3" letter-spacing="1.3" text-anchor="end" transform="rotate(-45 1696.54 1221.5)">FLT4</text>
<rect x="1714.57" y="1157.2" width="10.3" height="42.8" fill="#2e2d55" stroke="#000" stroke-width="1.45"/>
<rect x="1724.87" y="1190.07" width="10.6" height="9.93" fill="#b72560" stroke="#000" stroke-width="1.45"/>
<line x1="1724.77" y1="1200" x2="1724.77" y2="1207.8" stroke="#000" stroke-width="1.4"/>
<text x="1729.37" y="1221.5" font-size="16.3" letter-spacing="1.3" text-anchor="end" transform="rotate(-45 1729.37 1221.5)">RB1</text>
<rect x="1747.4" y="1157.2" width="10.3" height="42.8" fill="#2e2d55" stroke="#000" stroke-width="1.45"/>
<line x1="1747.3" y1="1147.9" x2="1767.6" y2="1147.9" stroke="#000" stroke-width="1.4"/>
<text x="1759.4" y="1150.2" font-size="13.5" text-anchor="middle" font-weight="bold" letter-spacing="1.7">**</text>
<line x1="1757.6" y1="1200" x2="1757.6" y2="1207.8" stroke="#000" stroke-width="1.4"/>
<text x="1762.2" y="1221.5" font-size="16.3" letter-spacing="1.3" text-anchor="end" transform="rotate(-45 1762.2 1221.5)">FGFR4</text>
<rect x="1780.23" y="1164.33" width="10.3" height="35.67" fill="#2e2d55" stroke="#000" stroke-width="1.45"/>
<rect x="1790.53" y="1179.85" width="10.6" height="20.15" fill="#b72560" stroke="#000" stroke-width="1.45"/>
<line x1="1790.43" y1="1200" x2="1790.43" y2="1207.8" stroke="#000" stroke-width="1.4"/>
<text x="1795.03" y="1221.5" font-size="16.3" letter-spacing="1.3" text-anchor="end" transform="rotate(-45 1795.03 1221.5)">CCNE1</text>
<rect x="1813.06" y="1178.79" width="10.3" height="21.21" fill="#2e2d55" stroke="#000" stroke-width="1.45"/>
<rect x="1823.36" y="1179.85" width="10.6" height="20.15" fill="#b72560" stroke="#000" stroke-width="1.45"/>
<line x1="1823.26" y1="1200" x2="1823.26" y2="1207.8" stroke="#000" stroke-width="1.4"/>
<text x="1827.86" y="1221.5" font-size="16.3" letter-spacing="1.3" text-anchor="end" transform="rotate(-45 1827.86 1221.5)">ERBB2</text>
<rect x="1845.89" y="1192.87" width="10.3" height="7.13" fill="#2e2d55" stroke="#000" stroke-width="1.45"/>
<rect x="1856.19" y="1174.65" width="10.6" height="25.35" fill="#b72560" stroke="#000" stroke-width="1.45"/>
<line x1="1856.09" y1="1200" x2="1856.09" y2="1207.8" stroke="#000" stroke-width="1.4"/>
<text x="1860.69" y="1221.5" font-size="16.3" letter-spacing="1.3" text-anchor="end" transform="rotate(-45 1860.69 1221.5)">CCND1</text>
<rect x="1878.72" y="1178.79" width="10.3" height="21.21" fill="#2e2d55" stroke="#000" stroke-width="1.45"/>
<rect x="1889.02" y="1164.72" width="10.6" height="35.28" fill="#b72560" stroke="#000" stroke-width="1.45"/>
<line x1="1888.92" y1="1200" x2="1888.92" y2="1207.8" stroke="#000" stroke-width="1.4"/>
<text x="1893.52" y="1221.5" font-size="16.3" letter-spacing="1.3" text-anchor="end" transform="rotate(-45 1893.52 1221.5)">CEBPA</text>
<rect x="1911.55" y="1157.2" width="10.3" height="42.8" fill="#2e2d55" stroke="#000" stroke-width="1.45"/>
<rect x="1921.85" y="1190.07" width="10.6" height="9.93" fill="#b72560" stroke="#000" stroke-width="1.45"/>
<line x1="1921.75" y1="1200" x2="1921.75" y2="1207.8" stroke="#000" stroke-width="1.4"/>
<text x="1926.35" y="1221.5" font-size="16.3" letter-spacing="1.3" text-anchor="end" transform="rotate(-45 1926.35 1221.5)">AXIN1</text>
<line x1="1085" y1="910.1" x2="1085" y2="1200.7" stroke="#000" stroke-width="1.4"/>
<line x1="1076.8" y1="1200" x2="1938" y2="1200" stroke="#000" stroke-width="1.4"/>
<line x1="1076.8" y1="1200" x2="1085" y2="1200" stroke="#000" stroke-width="1.4"/>
<text x="1073.6" y="1205" font-size="16.8" text-anchor="end" letter-spacing="0.6">0</text>
<line x1="1076.8" y1="1103.6" x2="1085" y2="1103.6" stroke="#000" stroke-width="1.4"/>
<text x="1073.6" y="1108.6" font-size="16.8" text-anchor="end" letter-spacing="0.6">10</text>
<line x1="1076.8" y1="1007.2" x2="1085" y2="1007.2" stroke="#000" stroke-width="1.4"/>
<text x="1073.6" y="1012.2" font-size="16.8" text-anchor="end" letter-spacing="0.6">20</text>
<line x1="1076.8" y1="910.8" x2="1085" y2="910.8" stroke="#000" stroke-width="1.4"/>
<text x="1073.6" y="915.8" font-size="16.8" text-anchor="end" letter-spacing="0.6">30</text>
<text x="1043.8" y="1056.4" font-size="17.5" text-anchor="middle" textLength="231" lengthAdjust="spacing" transform="rotate(-90 1043.8 1056.4)">CNV mutation frequency(%)</text>
<rect x="1244.9" y="923.3" width="31.0" height="8.6" fill="#2e2d55" stroke="#000" stroke-width="1.5"/>
<rect x="1244.9" y="956.5" width="31.0" height="8.6" fill="#b72560" stroke="#000" stroke-width="1.5"/>
<text x="1291.7" y="935.2" font-size="17" text-anchor="start" letter-spacing="0.8">CSF</text>
<text x="1291.7" y="968.4" font-size="17" text-anchor="start" letter-spacing="0.5">LSLT-BM</text>
</svg>
</body></html>
